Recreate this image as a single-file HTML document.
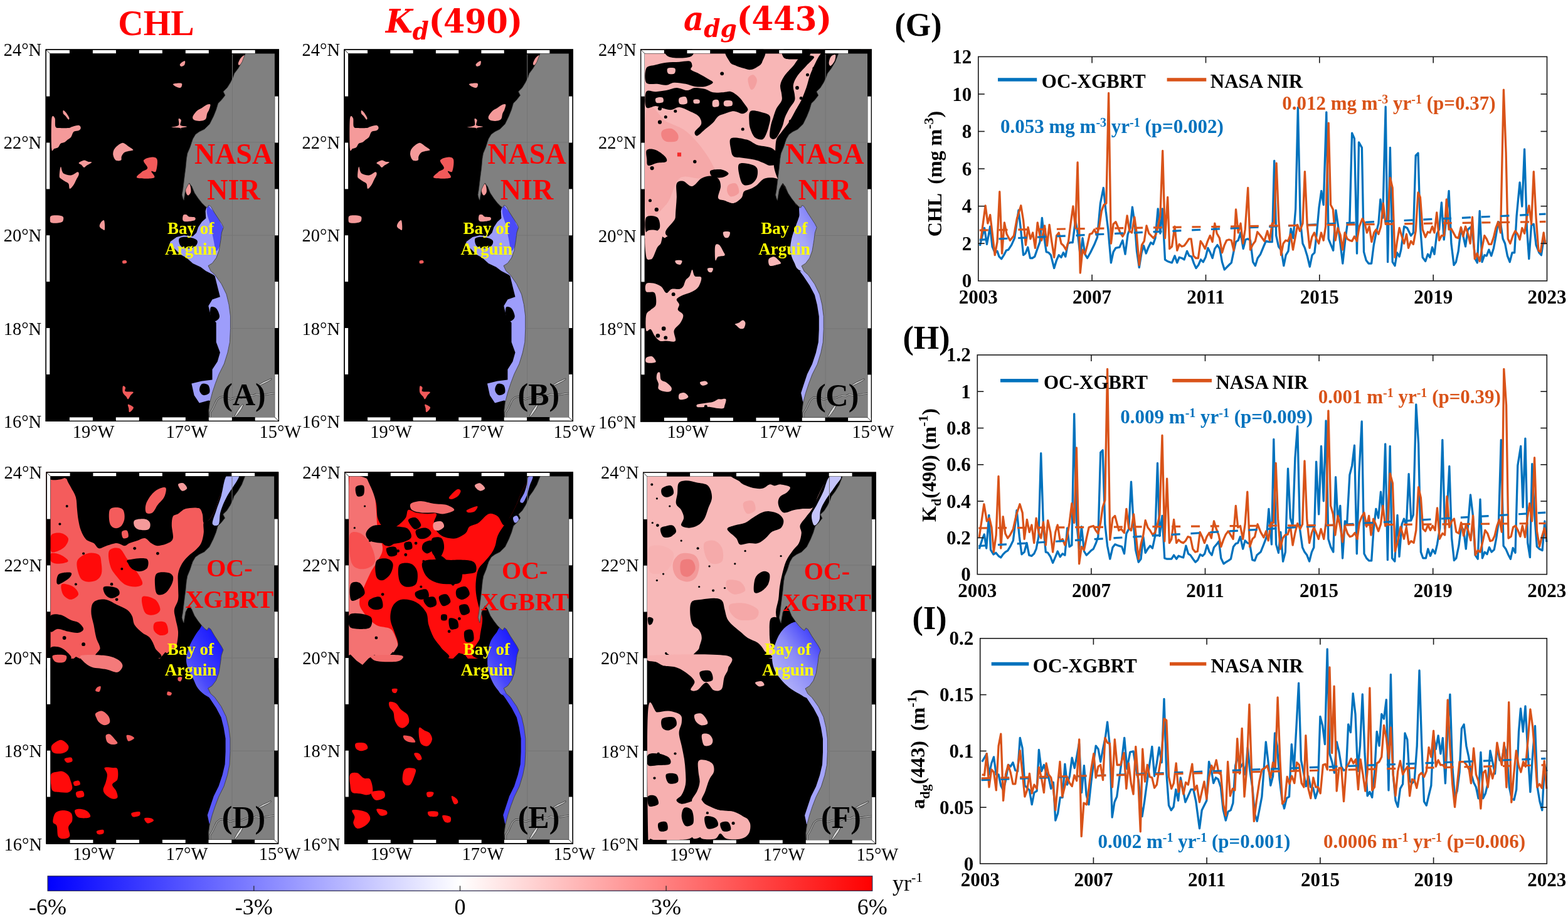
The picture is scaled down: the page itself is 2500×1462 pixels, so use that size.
<!DOCTYPE html>
<html><head><meta charset="utf-8"><title>Figure</title>
<style>
html,body{margin:0;padding:0;background:#fff;}
body{width:2500px;height:1462px;overflow:hidden;position:relative;}
svg{position:absolute;left:0;top:0;}
.tk{font-family:"Liberation Serif","Times New Roman",serif;font-size:28.5px;fill:#000;}
.bt{font-family:"Liberation Serif","Times New Roman",serif;font-weight:bold;}
</style></head><body>
<svg width="2500" height="1462" viewBox="0 0 2500 1462">
<rect width="2500" height="1462" fill="#fff"/>
<defs><linearGradient id="bayD" x1="1" y1="0" x2="0" y2="1"><stop offset="0.25" stop-color="#0d0dff"/><stop offset="0.7" stop-color="#4848fb"/><stop offset="1" stop-color="#9090f8"/></linearGradient><linearGradient id="bayF" x1="1" y1="0" x2="0" y2="1"><stop offset="0.2" stop-color="#2424fc"/><stop offset="0.55" stop-color="#8a8af8"/><stop offset="1" stop-color="#d0d0fa"/></linearGradient><linearGradient id="bayC" x1="1" y1="0" x2="0" y2="1"><stop offset="0.2" stop-color="#6a6af8"/><stop offset="0.6" stop-color="#a4a4f8"/><stop offset="1" stop-color="#c4c4fa"/></linearGradient></defs>
<rect x="72.7" y="78.5" width="372.2" height="593.5" fill="#000"/>
<path d="M82.3,189.5 C83.2,181.4 86.5,186.4 87.5,188.5 C88.5,190.6 87.3,199.3 88.5,201.9 C89.7,204.5 91.3,203.6 94.7,204.0 C98.2,204.3 105.7,204.3 109.2,204.0 C112.6,203.6 112.6,202.6 115.4,201.9 C118.1,201.2 123.5,199.5 125.7,199.8 C127.9,200.2 128.8,202.6 128.8,204.0 C128.8,205.4 127.6,207.1 125.7,208.1 C123.8,209.1 119.5,208.5 117.4,210.2 C115.4,211.9 114.9,216.4 113.3,218.4 C111.8,220.5 109.9,221.2 108.1,222.6 C106.4,223.9 104.9,225.7 103.0,226.7 C101.1,227.7 98.5,227.4 96.8,228.8 C95.1,230.1 94.4,233.6 92.7,235.0 C90.9,236.3 88.2,236.7 86.5,237.0 C84.7,237.4 83.0,244.9 82.3,237.0 C81.6,229.1 81.5,197.6 82.3,189.5 Z" fill="#f59a9a"/>
<path d="M100.9,176.1 C101.6,175.8 103.5,177.3 105.0,179.2 C106.6,181.1 109.5,185.6 110.2,187.5 C110.9,189.3 110.0,190.9 109.2,190.6 C108.3,190.2 106.4,186.9 105.0,185.4 C103.7,183.8 101.6,182.8 100.9,181.3 C100.2,179.7 100.2,176.4 100.9,176.1 Z" fill="#f59a9a"/>
<path d="M187.7,231.9 C190.1,230.0 193.2,227.6 195.9,227.7 C198.7,227.9 201.4,231.0 204.2,232.9 C206.9,234.8 212.4,237.7 212.4,239.1 C212.4,240.5 206.6,240.5 204.2,241.2 C201.8,241.8 199.7,241.8 198.0,243.2 C196.3,244.6 194.7,247.3 193.8,249.4 C193.0,251.5 194.4,254.6 192.8,255.6 C191.3,256.6 186.6,257.0 184.6,255.6 C182.5,254.2 180.9,250.1 180.4,247.3 C179.9,244.6 180.3,241.7 181.5,239.1 C182.7,236.5 185.2,233.8 187.7,231.9 Z" fill="#f59a9a"/>
<path d="M96.8,265.9 C97.8,265.2 98.2,274.0 100.9,276.3 C103.7,278.5 109.5,279.7 113.3,279.4 C117.1,279.0 121.6,274.4 123.6,274.2 C125.7,274.0 126.0,276.3 125.7,278.3 C125.4,280.4 122.9,283.8 121.6,286.6 C120.2,289.3 119.2,292.4 117.4,294.8 C115.7,297.3 112.6,301.4 111.2,301.0 C109.9,300.7 110.6,294.8 109.2,292.8 C107.8,290.7 105.0,290.0 103.0,288.7 C100.9,287.3 98.2,285.9 96.8,284.5 C95.4,283.1 94.7,283.5 94.7,280.4 C94.7,277.3 95.8,266.6 96.8,265.9 Z" fill="#f59a9a"/>
<path d="M125.7,259.7 C126.4,258.5 131.5,256.0 134.0,255.6 C136.4,255.3 138.1,257.2 140.2,257.7 C142.2,258.2 146.7,257.7 146.3,258.7 C146.0,259.7 140.2,262.5 138.1,263.9 C136.0,265.2 135.3,267.1 134.0,267.0 C132.6,266.8 131.2,264.0 129.8,262.8 C128.4,261.6 125.0,260.9 125.7,259.7 Z" fill="#f59a9a"/>
<path d="M81.3,344.4 C84.2,342.7 95.6,343.4 98.8,344.4 C102.1,345.4 101.3,348.9 100.9,350.6 C100.6,352.3 100.1,354.1 96.8,354.7 C93.5,355.4 83.9,356.5 81.3,354.7 C78.7,353.0 78.4,346.1 81.3,344.4 Z" fill="#f59a9a"/>
<path d="M286.8,102.8 C287.1,101.6 289.5,99.5 290.9,98.7 C292.3,97.8 294.5,96.8 295.0,97.6 C295.6,98.5 295.0,102.4 294.0,103.8 C293.0,105.2 290.1,106.1 288.8,105.9 C287.6,105.7 286.4,104.0 286.8,102.8 Z" fill="#f59a9a"/>
<path d="M276.5,133.8 C278.2,133.1 286.6,132.2 288.8,132.7 C291.1,133.2 290.2,135.7 289.9,136.9 C289.5,138.1 288.7,140.0 286.8,140.0 C284.9,140.0 280.2,137.9 278.5,136.9 C276.8,135.8 274.7,134.4 276.5,133.8 Z" fill="#f59a9a"/>
<path d="M284.7,189.5 C285.4,188.1 288.3,189.9 288.8,191.6 C289.4,193.3 286.3,198.1 287.8,199.8 C289.4,201.6 298.0,201.2 298.1,201.9 C298.3,202.6 290.4,202.9 288.8,204.0 C287.3,205.0 289.2,208.1 288.8,208.1 C288.5,208.1 289.4,204.8 286.8,204.0 C284.2,203.1 273.7,203.6 273.4,202.9 C273.0,202.3 282.8,202.1 284.7,199.8 C286.6,197.6 284.0,190.9 284.7,189.5 Z" fill="#f59a9a"/>
<path d="M160.8,354.7 C162.0,353.2 164.9,349.7 166.0,351.6 C167.0,353.5 167.5,363.9 167.0,366.1 C166.5,368.3 164.2,365.9 162.9,365.1 C161.5,364.2 159.1,362.7 158.7,360.9 C158.4,359.2 159.6,356.3 160.8,354.7 Z" fill="#f59a9a"/>
<path d="M379.8,100.7 C380.1,98.8 382.4,94.5 383.9,92.5 C385.5,90.4 388.0,88.7 389.1,88.3 C390.2,88.0 390.9,88.7 390.5,90.4 C390.2,92.1 388.5,96.4 387.0,98.7 C385.6,100.9 383.1,103.5 381.8,103.8 C380.6,104.2 379.4,102.6 379.8,100.7 Z" fill="#f59a9a"/>
<path d="M307.5,185.4 C308.4,183.2 311.3,179.4 313.7,177.1 C316.1,174.9 319.2,173.7 322.0,172.0 C324.7,170.2 328.0,167.7 330.2,166.8 C332.5,165.9 334.9,165.4 335.4,166.8 C335.9,168.2 334.2,172.7 333.3,175.1 C332.5,177.5 331.1,178.9 330.2,181.3 C329.4,183.7 329.5,187.6 328.2,189.5 C326.8,191.4 324.4,192.1 322.0,192.6 C319.5,193.1 315.9,193.0 313.7,192.6 C311.5,192.3 309.6,191.8 308.5,190.6 C307.5,189.3 306.6,187.6 307.5,185.4 Z" fill="#f59a9a"/>
<path d="M296.1,294.8 C297.1,292.6 301.0,292.1 302.3,293.8 C303.7,295.5 304.7,302.2 304.4,305.2 C304.1,308.1 301.5,311.0 300.3,311.4 C299.0,311.7 297.4,310.0 296.8,307.2 C296.1,304.5 295.2,297.1 296.1,294.8 Z" fill="#f59a9a"/>
<path d="M292.0,343.4 C292.7,341.7 295.6,342.0 297.2,342.3 C298.7,342.7 299.1,344.8 301.3,345.4 C303.5,346.1 309.2,345.4 310.6,346.5 C312.0,347.5 312.5,350.6 309.6,351.6 C306.6,352.7 296.0,354.1 293.0,352.7 C290.1,351.3 291.3,345.1 292.0,343.4 Z" fill="#f59a9a"/>
<path d="M229.0,255.6 C230.2,252.7 238.8,250.6 242.4,250.4 C246.0,250.3 249.6,250.8 250.6,254.6 C251.7,258.4 250.1,270.1 248.6,273.2 C247.0,276.3 241.9,271.4 241.3,273.2 C240.8,274.9 249.3,281.8 245.5,283.5 C241.7,285.2 221.9,285.0 218.6,283.5 C215.4,281.9 223.1,276.8 225.9,274.2 C228.6,271.6 234.6,271.1 235.2,268.0 C235.7,264.9 227.8,258.5 229.0,255.6 Z" fill="#f25a5a"/>
<path d="M195.9,615.8 C196.6,614.4 199.4,616.4 200.0,617.8 C200.7,619.2 198.0,622.8 200.0,624.0 C202.1,625.2 211.1,624.0 212.4,625.1 C213.8,626.1 209.7,628.3 208.3,630.2 C206.9,632.1 205.4,636.1 204.2,636.4 C203.0,636.8 202.5,634.0 201.1,632.3 C199.7,630.6 196.8,628.8 195.9,626.1 C195.1,623.3 195.2,617.1 195.9,615.8 Z" fill="#f25a5a"/>
<path d="M204.2,644.7 C205.4,644.3 211.2,647.4 212.4,648.8 C213.6,650.2 212.4,651.6 211.4,652.9 C210.4,654.3 207.3,657.4 206.2,657.1 C205.2,656.7 205.6,652.9 205.2,650.9 C204.9,648.8 203.0,645.0 204.2,644.7 Z" fill="#f25a5a"/>
<path d="M195.5,415.8 C196.4,415.1 200.0,414.9 201.1,415.4 C202.1,416.0 202.6,418.4 201.7,419.2 C200.8,419.9 196.9,420.5 195.9,420.0 C194.9,419.4 194.6,416.6 195.5,415.8 Z" fill="#f25a5a"/>
<polygon points="331.2,323.5 327.6,336.4 328.3,347.9 321.8,353.7 316.1,362.3 313.2,370.9 307.5,376.7 293.1,375.2 281.6,378.1 271.6,385.3 270.1,391.0 278.7,396.8 287.4,405.4 297.4,411.1 307.5,420.0 319.9,425.8 328.2,432.0 340.5,438.2 342.6,440.2 346.7,456.7 350.9,473.3 338.5,477.4 332.3,487.7 336.4,504.2 344.7,514.6 344.7,545.5 350.9,562.1 346.7,576.5 338.5,588.9 338.5,605.4 322.0,607.5 305.4,611.6 309.6,630.2 317.8,642.6 332.3,638.5 340.0,640.0 390.0,640.0 390.0,320.0" fill="#9d9dfb"/>
<path d="M331.0,322.0 C331.7,320.3 331.7,326.7 334.0,330.0 C336.3,333.3 342.0,337.7 345.0,342.0 C348.0,346.3 350.2,352.0 352.0,356.0 C353.8,360.0 355.8,361.2 356.0,366.0 C356.2,370.8 354.8,379.3 353.0,385.0 C351.2,390.7 347.2,400.8 345.0,400.0 C342.8,399.2 341.5,386.7 340.0,380.0 C338.5,373.3 337.7,366.7 336.0,360.0 C334.3,353.3 330.8,346.3 330.0,340.0 C329.2,333.7 330.3,323.7 331.0,322.0 Z" fill="#4b4bf7"/>
<path d="M286.0,380.0 C288.0,377.7 295.3,377.5 300.0,378.0 C304.7,378.5 312.0,380.7 314.0,383.0 C316.0,385.3 314.3,389.8 312.0,392.0 C309.7,394.2 304.0,396.0 300.0,396.0 C296.0,396.0 290.3,394.7 288.0,392.0 C285.7,389.3 284.0,382.3 286.0,380.0 Z" fill="#000"/>
<path d="M336.0,490.0 C337.5,487.8 342.7,489.5 345.0,492.0 C347.3,494.5 350.3,501.7 350.0,505.0 C349.7,508.3 345.3,512.0 343.0,512.0 C340.7,512.0 337.2,508.7 336.0,505.0 C334.8,501.3 334.5,492.2 336.0,490.0 Z" fill="#000"/>
<path d="M322.0,612.0 C324.3,610.7 330.0,611.7 332.0,614.0 C334.0,616.3 335.3,623.3 334.0,626.0 C332.7,628.7 326.7,630.7 324.0,630.0 C321.3,629.3 318.3,625.0 318.0,622.0 C317.7,619.0 319.7,613.3 322.0,612.0 Z" fill="#000"/>
<clipPath id="clipA"><rect x="72.7" y="78.5" width="372.2" height="593.5"/></clipPath>
<clipPath id="landA"><polygon points="393.0,70.0 391.0,86.0 386.0,98.7 379.8,109.0 373.6,117.2 371.5,123.4 367.4,131.7 362.2,140.0 356.0,146.0 359.0,152.0 353.0,159.6 347.8,164.7 344.7,175.0 340.5,185.4 334.3,197.8 326.0,206.0 317.8,210.0 311.8,214.3 307.5,221.5 303.2,234.4 298.9,244.5 297.4,253.0 296.0,267.5 294.5,279.0 293.1,290.5 291.7,302.0 290.2,310.6 291.7,316.3 293.1,319.2 294.5,310.6 296.0,302.0 298.9,296.2 301.7,291.9 306.0,297.6 310.3,307.7 316.1,316.3 321.8,323.5 327.6,329.3 330.5,331.0 333.0,327.0 336.2,329.3 342.0,339.3 347.7,347.9 353.4,356.6 356.3,362.3 353.4,370.9 352.0,382.4 350.6,391.0 349.1,399.7 344.8,411.1 338.5,419.6 332.0,423.7 336.0,432.0 342.6,438.0 353.0,452.6 361.0,469.0 365.0,485.7 367.4,504.0 367.4,525.0 366.4,545.5 363.0,562.0 357.4,580.0 349.2,596.4 343.5,611.2 338.6,626.0 334.5,641.5 332.8,653.9 333.2,665.4 333.0,680.0 460.0,680.0 460.0,70.0"/></clipPath>
<polygon clip-path="url(#clipA)" points="393.0,70.0 391.0,86.0 386.0,98.7 379.8,109.0 373.6,117.2 371.5,123.4 367.4,131.7 362.2,140.0 356.0,146.0 359.0,152.0 353.0,159.6 347.8,164.7 344.7,175.0 340.5,185.4 334.3,197.8 326.0,206.0 317.8,210.0 311.8,214.3 307.5,221.5 303.2,234.4 298.9,244.5 297.4,253.0 296.0,267.5 294.5,279.0 293.1,290.5 291.7,302.0 290.2,310.6 291.7,316.3 293.1,319.2 294.5,310.6 296.0,302.0 298.9,296.2 301.7,291.9 306.0,297.6 310.3,307.7 316.1,316.3 321.8,323.5 327.6,329.3 330.5,331.0 333.0,327.0 336.2,329.3 342.0,339.3 347.7,347.9 353.4,356.6 356.3,362.3 353.4,370.9 352.0,382.4 350.6,391.0 349.1,399.7 344.8,411.1 338.5,419.6 332.0,423.7 336.0,432.0 342.6,438.0 353.0,452.6 361.0,469.0 365.0,485.7 367.4,504.0 367.4,525.0 366.4,545.5 363.0,562.0 357.4,580.0 349.2,596.4 343.5,611.2 338.6,626.0 334.5,641.5 332.8,653.9 333.2,665.4 333.0,680.0 460.0,680.0 460.0,70.0" fill="#808080" stroke="#3a3a3a" stroke-width="0.8"/>
<line x1="370.5" y1="86.5" x2="370.5" y2="664.0" stroke="#747474" stroke-width="1"/>
<line clip-path="url(#landA)" x1="80.7" y1="226.9" x2="436.9" y2="226.9" stroke="#747474" stroke-width="1"/>
<line clip-path="url(#landA)" x1="80.7" y1="375.2" x2="436.9" y2="375.2" stroke="#747474" stroke-width="1"/>
<line clip-path="url(#landA)" x1="80.7" y1="523.6" x2="436.9" y2="523.6" stroke="#747474" stroke-width="1"/>
<polyline points="335.3,668.0 335.3,658.0 339.4,651.4 343.5,642.4 346.0,637.4 350.9,633.3 357.4,632.5 362.4,634.2 367.3,636.6 372.2,635.0 378.8,633.3 385.4,634.2 390.3,632.5 396.8,630.1 403.4,630.9 408.3,628.4 414.9,630.1 423.1,629.2 431.3,627.6 440.0,626.8" fill="none" stroke="#2a2a2a" stroke-width="2.4" stroke-linejoin="round"/>
<polyline points="335.3,668.0 335.3,658.0 339.4,651.4 343.5,642.4 346.0,637.4 350.9,633.3 357.4,632.5 362.4,634.2 367.3,636.6 372.2,635.0 378.8,633.3 385.4,634.2 390.3,632.5 396.8,630.1 403.4,630.9 408.3,628.4 414.9,630.1 423.1,629.2 431.3,627.6 440.0,626.8" fill="none" stroke="#c8c8c8" stroke-width="1.1" stroke-linejoin="round"/>
<polygon points="412.5,613.5 420.0,609.0 428.0,605.5 432.5,603.2 433.0,604.8 428.0,608.0 420.0,612.0 413.5,615.0" fill="#d8d8d8" stroke="#2a2a2a" stroke-width="0.8"/>
<polygon points="374.0,663.5 378.0,656.0 382.0,650.0 386.5,644.5 388.0,645.5 385.0,652.0 380.0,659.0 375.5,664.5" fill="#d8d8d8" stroke="#2a2a2a" stroke-width="0.8"/>
<path d="M72.7,78.5 h372.2 v593.5 h-372.2 z M79.7,85.5 v579.5 h358.2 v-579.5 z" fill="#000" fill-rule="evenodd"/>
<rect x="73.9" y="79.7" width="37.0" height="5.4" fill="#fff"/>
<rect x="147.9" y="79.7" width="37.0" height="5.4" fill="#fff"/>
<rect x="221.8" y="79.7" width="37.0" height="5.4" fill="#fff"/>
<rect x="295.8" y="79.7" width="37.0" height="5.4" fill="#fff"/>
<rect x="369.7" y="79.7" width="37.0" height="5.4" fill="#fff"/>
<rect x="110.9" y="665.4" width="37.0" height="5.4" fill="#fff"/>
<rect x="184.8" y="665.4" width="37.0" height="5.4" fill="#fff"/>
<rect x="258.8" y="665.4" width="37.0" height="5.4" fill="#fff"/>
<rect x="332.8" y="665.4" width="37.0" height="5.4" fill="#fff"/>
<rect x="406.7" y="665.4" width="37.0" height="5.4" fill="#fff"/>
<rect x="73.9" y="79.7" width="5.4" height="73.9" fill="#fff"/>
<rect x="73.9" y="227.5" width="5.4" height="73.9" fill="#fff"/>
<rect x="73.9" y="375.2" width="5.4" height="73.9" fill="#fff"/>
<rect x="73.9" y="523.0" width="5.4" height="73.9" fill="#fff"/>
<rect x="438.3" y="153.6" width="5.4" height="73.9" fill="#fff"/>
<rect x="438.3" y="301.4" width="5.4" height="73.9" fill="#fff"/>
<rect x="438.3" y="449.1" width="5.4" height="73.9" fill="#fff"/>
<rect x="438.3" y="596.9" width="5.4" height="73.9" fill="#fff"/>
<line x1="73.9" y1="79.7" x2="79.7" y2="85.5" stroke="#000" stroke-width="0.8"/>
<line x1="443.7" y1="670.8" x2="437.9" y2="665.0" stroke="#000" stroke-width="0.8"/>
<rect x="73.3" y="79.1" width="371.0" height="592.3" fill="none" stroke="#000" stroke-width="1.2"/>
<text x="66.2" y="88.5" text-anchor="end" class="tk">24°N</text>
<text x="66.2" y="236.9" text-anchor="end" class="tk">22°N</text>
<text x="66.2" y="385.2" text-anchor="end" class="tk">20°N</text>
<text x="66.2" y="533.6" text-anchor="end" class="tk">18°N</text>
<text x="66.2" y="682.0" text-anchor="end" class="tk">16°N</text>
<text x="149.1" y="697.5" text-anchor="middle" class="tk">19°W</text>
<text x="298.0" y="697.5" text-anchor="middle" class="tk">17°W</text>
<text x="446.9" y="697.5" text-anchor="middle" class="tk">15°W</text>
<rect x="548.5" y="78.5" width="365.3" height="593.5" fill="#000"/>
<path d="M557.9,189.5 C558.8,181.4 562.0,186.4 563.0,188.5 C564.0,190.6 562.8,199.3 564.0,201.9 C565.2,204.5 566.7,203.6 570.1,204.0 C573.5,204.3 580.9,204.3 584.3,204.0 C587.7,203.6 587.7,202.6 590.4,201.9 C593.1,201.2 598.3,199.5 600.5,199.8 C602.7,200.2 603.6,202.6 603.6,204.0 C603.6,205.4 602.4,207.1 600.5,208.1 C598.7,209.1 594.4,208.5 592.4,210.2 C590.4,211.9 589.9,216.4 588.4,218.4 C586.8,220.5 585.0,221.2 583.3,222.6 C581.6,223.9 580.1,225.7 578.2,226.7 C576.4,227.7 573.8,227.4 572.1,228.8 C570.4,230.1 569.8,233.6 568.1,235.0 C566.4,236.3 563.7,236.7 562.0,237.0 C560.3,237.4 558.6,244.9 557.9,237.0 C557.3,229.1 557.1,197.6 557.9,189.5 Z" fill="#f59a9a"/>
<path d="M576.2,176.1 C576.9,175.8 578.7,177.3 580.2,179.2 C581.8,181.1 584.6,185.6 585.3,187.5 C586.0,189.3 585.1,190.9 584.3,190.6 C583.5,190.2 581.6,186.9 580.2,185.4 C578.9,183.8 576.9,182.8 576.2,181.3 C575.5,179.7 575.5,176.4 576.2,176.1 Z" fill="#f59a9a"/>
<path d="M661.3,231.9 C663.7,230.0 666.7,227.6 669.4,227.7 C672.1,227.9 674.8,231.0 677.5,232.9 C680.2,234.8 685.6,237.7 685.6,239.1 C685.6,240.5 679.9,240.5 677.5,241.2 C675.2,241.8 673.1,241.8 671.5,243.2 C669.8,244.6 668.2,247.3 667.4,249.4 C666.6,251.5 667.9,254.6 666.4,255.6 C664.9,256.6 660.3,257.0 658.3,255.6 C656.3,254.2 654.7,250.1 654.2,247.3 C653.7,244.6 654.1,241.7 655.2,239.1 C656.4,236.5 659.0,233.8 661.3,231.9 Z" fill="#f59a9a"/>
<path d="M572.1,265.9 C573.1,265.2 573.5,274.0 576.2,276.3 C578.9,278.5 584.6,279.7 588.4,279.4 C592.1,279.0 596.5,274.4 598.5,274.2 C600.5,274.0 600.9,276.3 600.5,278.3 C600.2,280.4 597.8,283.8 596.5,286.6 C595.1,289.3 594.1,292.4 592.4,294.8 C590.7,297.3 587.7,301.4 586.3,301.0 C585.0,300.7 585.6,294.8 584.3,292.8 C582.9,290.7 580.2,290.0 578.2,288.7 C576.2,287.3 573.5,285.9 572.1,284.5 C570.8,283.1 570.1,283.5 570.1,280.4 C570.1,277.3 571.1,266.6 572.1,265.9 Z" fill="#f59a9a"/>
<path d="M600.5,259.7 C601.2,258.5 606.3,256.0 608.6,255.6 C611.0,255.3 612.7,257.2 614.7,257.7 C616.7,258.2 621.1,257.7 620.8,258.7 C620.4,259.7 614.7,262.5 612.7,263.9 C610.6,265.2 610.0,267.1 608.6,267.0 C607.3,266.8 605.9,264.0 604.6,262.8 C603.2,261.6 599.8,260.9 600.5,259.7 Z" fill="#f59a9a"/>
<path d="M556.9,344.4 C559.8,342.7 571.0,343.4 574.2,344.4 C577.4,345.4 576.5,348.9 576.2,350.6 C575.9,352.3 575.3,354.1 572.1,354.7 C568.9,355.4 559.5,356.5 556.9,354.7 C554.4,353.0 554.1,346.1 556.9,344.4 Z" fill="#f59a9a"/>
<path d="M758.6,102.8 C759.0,101.6 761.3,99.5 762.7,98.7 C764.0,97.8 766.2,96.8 766.7,97.6 C767.2,98.5 766.7,102.4 765.7,103.8 C764.7,105.2 761.8,106.1 760.6,105.9 C759.5,105.7 758.3,104.0 758.6,102.8 Z" fill="#f59a9a"/>
<path d="M748.5,133.8 C750.2,133.1 758.4,132.2 760.6,132.7 C762.8,133.2 762.0,135.7 761.7,136.9 C761.3,138.1 760.5,140.0 758.6,140.0 C756.8,140.0 752.2,137.9 750.5,136.9 C748.8,135.8 746.8,134.4 748.5,133.8 Z" fill="#f59a9a"/>
<path d="M756.6,189.5 C757.3,188.1 760.1,189.9 760.6,191.6 C761.1,193.3 758.1,198.1 759.6,199.8 C761.1,201.6 769.6,201.2 769.8,201.9 C769.9,202.6 762.2,202.9 760.6,204.0 C759.1,205.0 761.0,208.1 760.6,208.1 C760.3,208.1 761.1,204.8 758.6,204.0 C756.1,203.1 745.8,203.6 745.4,202.9 C745.1,202.3 754.7,202.1 756.6,199.8 C758.4,197.6 755.9,190.9 756.6,189.5 Z" fill="#f59a9a"/>
<path d="M635.0,354.7 C636.2,353.2 639.0,349.7 640.0,351.6 C641.1,353.5 641.6,363.9 641.1,366.1 C640.5,368.3 638.3,365.9 637.0,365.1 C635.6,364.2 633.3,362.7 632.9,360.9 C632.6,359.2 633.8,356.3 635.0,354.7 Z" fill="#f59a9a"/>
<path d="M849.9,100.7 C850.2,98.8 852.4,94.5 853.9,92.5 C855.5,90.4 857.9,88.7 859.0,88.3 C860.1,88.0 860.8,88.7 860.4,90.4 C860.1,92.1 858.4,96.4 857.0,98.7 C855.6,100.9 853.1,103.5 851.9,103.8 C850.7,104.2 849.6,102.6 849.9,100.7 Z" fill="#f59a9a"/>
<path d="M778.9,185.4 C779.8,183.2 782.7,179.4 785.0,177.1 C787.4,174.9 790.4,173.7 793.1,172.0 C795.8,170.2 799.0,167.7 801.2,166.8 C803.4,165.9 805.8,165.4 806.3,166.8 C806.8,168.2 805.1,172.7 804.3,175.1 C803.4,177.5 802.1,178.9 801.2,181.3 C800.4,183.7 800.6,187.6 799.2,189.5 C797.9,191.4 795.5,192.1 793.1,192.6 C790.8,193.1 787.2,193.0 785.0,192.6 C782.8,192.3 781.0,191.8 780.0,190.6 C778.9,189.3 778.1,187.6 778.9,185.4 Z" fill="#f59a9a"/>
<path d="M767.8,294.8 C768.7,292.6 772.5,292.1 773.9,293.8 C775.2,295.5 776.2,302.2 775.9,305.2 C775.6,308.1 773.1,311.0 771.9,311.4 C770.6,311.7 769.1,310.0 768.4,307.2 C767.7,304.5 766.9,297.1 767.8,294.8 Z" fill="#f59a9a"/>
<path d="M763.7,343.4 C764.4,341.7 767.3,342.0 768.8,342.3 C770.3,342.7 770.7,344.8 772.9,345.4 C775.1,346.1 780.6,345.4 782.0,346.5 C783.3,347.5 783.8,350.6 781.0,351.6 C778.1,352.7 767.6,354.1 764.8,352.7 C761.9,351.3 763.1,345.1 763.7,343.4 Z" fill="#f59a9a"/>
<path d="M701.9,255.6 C703.0,252.7 711.5,250.6 715.0,250.4 C718.6,250.3 722.1,250.8 723.1,254.6 C724.2,258.4 722.6,270.1 721.1,273.2 C719.6,276.3 714.5,271.4 714.0,273.2 C713.5,274.9 721.8,281.8 718.1,283.5 C714.4,285.2 694.9,285.0 691.7,283.5 C688.5,281.9 696.1,276.8 698.8,274.2 C701.5,271.6 707.4,271.1 707.9,268.0 C708.4,264.9 700.7,258.5 701.9,255.6 Z" fill="#f25a5a"/>
<path d="M669.4,615.8 C670.1,614.4 672.8,616.4 673.5,617.8 C674.2,619.2 671.5,622.8 673.5,624.0 C675.5,625.2 684.3,624.0 685.6,625.1 C687.0,626.1 682.9,628.3 681.6,630.2 C680.2,632.1 678.7,636.1 677.5,636.4 C676.4,636.8 675.8,634.0 674.5,632.3 C673.1,630.6 670.3,628.8 669.4,626.1 C668.6,623.3 668.8,617.1 669.4,615.8 Z" fill="#f25a5a"/>
<path d="M677.5,644.7 C678.7,644.3 684.5,647.4 685.6,648.8 C686.8,650.2 685.6,651.6 684.6,652.9 C683.6,654.3 680.6,657.4 679.6,657.1 C678.6,656.7 678.9,652.9 678.6,650.9 C678.2,648.8 676.4,645.0 677.5,644.7 Z" fill="#f25a5a"/>
<path d="M669.0,415.8 C669.9,415.1 673.5,414.9 674.5,415.4 C675.5,416.0 675.9,418.4 675.1,419.2 C674.3,419.9 670.4,420.5 669.4,420.0 C668.4,419.4 668.2,416.6 669.0,415.8 Z" fill="#f25a5a"/>
<polygon points="802.2,323.5 798.7,336.4 799.4,347.9 793.0,353.7 787.4,362.3 784.5,370.9 778.9,376.7 764.8,375.2 753.5,378.1 743.7,385.3 742.2,391.0 750.7,396.8 759.2,405.4 769.0,411.1 778.9,420.0 791.1,425.8 799.3,432.0 811.3,438.2 813.4,440.2 817.4,456.7 821.5,473.3 809.4,477.4 803.3,487.7 807.3,504.2 815.5,514.6 815.5,545.5 821.5,562.1 817.4,576.5 809.4,588.9 809.4,605.4 793.2,607.5 776.9,611.6 781.0,630.2 789.1,642.6 803.3,638.5 810.8,640.0 859.9,640.0 859.9,320.0" fill="#9d9dfb"/>
<path d="M802.0,322.0 C802.7,320.3 802.7,326.7 805.0,330.0 C807.2,333.3 812.8,337.7 815.8,342.0 C818.7,346.3 820.8,352.0 822.6,356.0 C824.4,360.0 826.4,361.2 826.5,366.0 C826.7,370.8 825.4,379.3 823.6,385.0 C821.8,390.7 817.9,400.8 815.8,400.0 C813.6,399.2 812.3,386.7 810.8,380.0 C809.4,373.3 808.6,366.7 806.9,360.0 C805.3,353.3 801.8,346.3 801.0,340.0 C800.2,333.7 801.4,323.7 802.0,322.0 Z" fill="#4b4bf7"/>
<path d="M757.8,380.0 C759.8,377.7 767.0,377.5 771.6,378.0 C776.2,378.5 783.4,380.7 785.3,383.0 C787.3,385.3 785.7,389.8 783.4,392.0 C781.1,394.2 775.5,396.0 771.6,396.0 C767.7,396.0 762.1,394.7 759.8,392.0 C757.5,389.3 755.9,382.3 757.8,380.0 Z" fill="#000"/>
<path d="M806.9,490.0 C808.4,487.8 813.5,489.5 815.8,492.0 C818.0,494.5 821.0,501.7 820.7,505.0 C820.3,508.3 816.1,512.0 813.8,512.0 C811.5,512.0 808.1,508.7 806.9,505.0 C805.8,501.3 805.4,492.2 806.9,490.0 Z" fill="#000"/>
<path d="M793.2,612.0 C795.5,610.7 801.0,611.7 803.0,614.0 C805.0,616.3 806.3,623.3 805.0,626.0 C803.6,628.7 797.8,630.7 795.1,630.0 C792.5,629.3 789.6,625.0 789.3,622.0 C788.9,619.0 790.9,613.3 793.2,612.0 Z" fill="#000"/>
<clipPath id="clipB"><rect x="548.5" y="78.5" width="365.3" height="593.5"/></clipPath>
<clipPath id="landB"><polygon points="862.9,70.0 860.9,86.0 856.0,98.7 849.9,109.0 843.8,117.2 841.8,123.4 837.7,131.7 832.6,140.0 826.5,146.0 829.5,152.0 823.6,159.6 818.5,164.7 815.5,175.0 811.3,185.4 805.3,197.8 797.1,206.0 789.1,210.0 783.2,214.3 778.9,221.5 774.7,234.4 770.5,244.5 769.0,253.0 767.7,267.5 766.2,279.0 764.8,290.5 763.4,302.0 762.0,310.6 763.4,316.3 764.8,319.2 766.2,310.6 767.7,302.0 770.5,296.2 773.3,291.9 777.5,297.6 781.7,307.7 787.4,316.3 793.0,323.5 798.7,329.3 801.5,331.0 804.0,327.0 807.1,329.3 812.8,339.3 818.4,347.9 824.0,356.6 826.8,362.3 824.0,370.9 822.6,382.4 821.2,391.0 819.8,399.7 815.6,411.1 809.4,419.6 803.0,423.7 806.9,432.0 813.4,438.0 823.6,452.6 831.5,469.0 835.4,485.7 837.7,504.0 837.7,525.0 836.8,545.5 833.4,562.0 827.9,580.0 819.9,596.4 814.3,611.2 809.5,626.0 805.4,641.5 803.8,653.9 804.2,665.4 804.0,680.0 928.6,680.0 928.6,70.0"/></clipPath>
<polygon clip-path="url(#clipB)" points="862.9,70.0 860.9,86.0 856.0,98.7 849.9,109.0 843.8,117.2 841.8,123.4 837.7,131.7 832.6,140.0 826.5,146.0 829.5,152.0 823.6,159.6 818.5,164.7 815.5,175.0 811.3,185.4 805.3,197.8 797.1,206.0 789.1,210.0 783.2,214.3 778.9,221.5 774.7,234.4 770.5,244.5 769.0,253.0 767.7,267.5 766.2,279.0 764.8,290.5 763.4,302.0 762.0,310.6 763.4,316.3 764.8,319.2 766.2,310.6 767.7,302.0 770.5,296.2 773.3,291.9 777.5,297.6 781.7,307.7 787.4,316.3 793.0,323.5 798.7,329.3 801.5,331.0 804.0,327.0 807.1,329.3 812.8,339.3 818.4,347.9 824.0,356.6 826.8,362.3 824.0,370.9 822.6,382.4 821.2,391.0 819.8,399.7 815.6,411.1 809.4,419.6 803.0,423.7 806.9,432.0 813.4,438.0 823.6,452.6 831.5,469.0 835.4,485.7 837.7,504.0 837.7,525.0 836.8,545.5 833.4,562.0 827.9,580.0 819.9,596.4 814.3,611.2 809.5,626.0 805.4,641.5 803.8,653.9 804.2,665.4 804.0,680.0 928.6,680.0 928.6,70.0" fill="#808080" stroke="#3a3a3a" stroke-width="0.8"/>
<line x1="840.7" y1="86.5" x2="840.7" y2="664.0" stroke="#747474" stroke-width="1"/>
<line clip-path="url(#landB)" x1="556.5" y1="226.9" x2="905.8" y2="226.9" stroke="#747474" stroke-width="1"/>
<line clip-path="url(#landB)" x1="556.5" y1="375.2" x2="905.8" y2="375.2" stroke="#747474" stroke-width="1"/>
<line clip-path="url(#landB)" x1="556.5" y1="523.6" x2="905.8" y2="523.6" stroke="#747474" stroke-width="1"/>
<polyline points="806.2,668.0 806.2,658.0 810.3,651.4 814.3,642.4 816.7,637.4 821.5,633.3 827.9,632.5 832.8,634.2 837.6,636.6 842.4,635.0 848.9,633.3 855.4,634.2 860.2,632.5 866.6,630.1 873.1,630.9 877.9,628.4 884.4,630.1 892.4,629.2 900.5,627.6 909.0,626.8" fill="none" stroke="#2a2a2a" stroke-width="2.4" stroke-linejoin="round"/>
<polyline points="806.2,668.0 806.2,658.0 810.3,651.4 814.3,642.4 816.7,637.4 821.5,633.3 827.9,632.5 832.8,634.2 837.6,636.6 842.4,635.0 848.9,633.3 855.4,634.2 860.2,632.5 866.6,630.1 873.1,630.9 877.9,628.4 884.4,630.1 892.4,629.2 900.5,627.6 909.0,626.8" fill="none" stroke="#c8c8c8" stroke-width="1.1" stroke-linejoin="round"/>
<polygon points="882.0,613.5 889.4,609.0 897.2,605.5 901.6,603.2 902.1,604.8 897.2,608.0 889.4,612.0 883.0,615.0" fill="#d8d8d8" stroke="#2a2a2a" stroke-width="0.8"/>
<polygon points="844.2,663.5 848.1,656.0 852.1,650.0 856.5,644.5 858.0,645.5 855.0,652.0 850.1,659.0 845.7,664.5" fill="#d8d8d8" stroke="#2a2a2a" stroke-width="0.8"/>
<path d="M548.5,78.5 h365.3 v593.5 h-365.3 z M555.5,85.5 v579.5 h351.3 v-579.5 z" fill="#000" fill-rule="evenodd"/>
<rect x="549.7" y="79.7" width="36.3" height="5.4" fill="#fff"/>
<rect x="622.3" y="79.7" width="36.3" height="5.4" fill="#fff"/>
<rect x="694.9" y="79.7" width="36.3" height="5.4" fill="#fff"/>
<rect x="767.4" y="79.7" width="36.3" height="5.4" fill="#fff"/>
<rect x="840.0" y="79.7" width="36.3" height="5.4" fill="#fff"/>
<rect x="586.0" y="665.4" width="36.3" height="5.4" fill="#fff"/>
<rect x="658.6" y="665.4" width="36.3" height="5.4" fill="#fff"/>
<rect x="731.2" y="665.4" width="36.3" height="5.4" fill="#fff"/>
<rect x="803.7" y="665.4" width="36.3" height="5.4" fill="#fff"/>
<rect x="876.3" y="665.4" width="36.3" height="5.4" fill="#fff"/>
<rect x="549.7" y="79.7" width="5.4" height="73.9" fill="#fff"/>
<rect x="549.7" y="227.5" width="5.4" height="73.9" fill="#fff"/>
<rect x="549.7" y="375.2" width="5.4" height="73.9" fill="#fff"/>
<rect x="549.7" y="523.0" width="5.4" height="73.9" fill="#fff"/>
<rect x="907.2" y="153.6" width="5.4" height="73.9" fill="#fff"/>
<rect x="907.2" y="301.4" width="5.4" height="73.9" fill="#fff"/>
<rect x="907.2" y="449.1" width="5.4" height="73.9" fill="#fff"/>
<rect x="907.2" y="596.9" width="5.4" height="73.9" fill="#fff"/>
<line x1="549.7" y1="79.7" x2="555.5" y2="85.5" stroke="#000" stroke-width="0.8"/>
<line x1="912.6" y1="670.8" x2="906.8" y2="665.0" stroke="#000" stroke-width="0.8"/>
<rect x="549.1" y="79.1" width="364.1" height="592.3" fill="none" stroke="#000" stroke-width="1.2"/>
<text x="542.0" y="88.5" text-anchor="end" class="tk">24°N</text>
<text x="542.0" y="236.9" text-anchor="end" class="tk">22°N</text>
<text x="542.0" y="385.2" text-anchor="end" class="tk">20°N</text>
<text x="542.0" y="533.6" text-anchor="end" class="tk">18°N</text>
<text x="542.0" y="682.0" text-anchor="end" class="tk">16°N</text>
<text x="623.6" y="697.5" text-anchor="middle" class="tk">19°W</text>
<text x="769.7" y="697.5" text-anchor="middle" class="tk">17°W</text>
<text x="915.8" y="697.5" text-anchor="middle" class="tk">15°W</text>
<rect x="1021.0" y="78.5" width="369.0" height="594.0" fill="#000"/>
<clipPath id="iclipC"><rect x="1021.0" y="78.5" width="369.0" height="594.0"/></clipPath>
<g clip-path="url(#iclipC)">
<polygon points="1021.0,78.0 1390.0,78.0 1390.0,380.1 1021.0,380.1" fill="#f8b6b6"/>
<path d="M1030.3,177.2 C1035.6,153.4 1052.5,188.9 1062.3,193.7 C1072.1,198.5 1081.6,201.3 1089.2,206.1 C1096.8,210.9 1101.9,216.4 1107.8,222.6 C1113.6,228.8 1119.5,236.4 1124.3,243.3 C1129.1,250.2 1133.3,257.1 1136.7,263.9 C1140.1,270.8 1148.8,281.2 1145.0,284.6 C1141.2,288.1 1124.3,284.6 1114.0,284.6 C1103.6,284.6 1091.6,277.7 1083.0,284.6 C1074.4,291.5 1071.1,317.3 1062.3,325.9 C1053.5,334.5 1035.6,361.1 1030.3,336.3 C1025.0,311.5 1025.0,200.9 1030.3,177.2 Z" fill="#f5a8a8"/>
<path d="M1056.1,208.2 C1058.7,205.9 1066.5,204.0 1070.6,205.1 C1074.7,206.1 1079.5,211.1 1080.9,214.4 C1082.3,217.6 1081.9,222.8 1078.8,224.7 C1075.8,226.6 1066.3,226.8 1062.3,225.7 C1058.4,224.7 1056.1,221.4 1055.1,218.5 C1054.1,215.6 1053.5,210.4 1056.1,208.2 Z" fill="#f28282"/>
<polygon points="1079.9,243.3 1086.1,243.3 1086.1,249.5 1079.9,249.5" fill="#f52a2a"/>
<path d="M1192.5,125.5 C1193.2,121.7 1198.3,119.0 1200.7,119.3 C1203.2,119.7 1206.6,124.1 1206.9,127.6 C1207.3,131.0 1204.5,137.6 1202.8,140.0 C1201.1,142.4 1198.3,144.5 1196.6,142.0 C1194.9,139.6 1191.8,129.3 1192.5,125.5 Z" fill="#f4a0a0"/>
<path d="M1161.5,294.9 C1163.9,292.9 1171.1,290.8 1173.9,292.9 C1176.6,294.9 1179.4,303.9 1178.0,307.3 C1176.6,310.8 1168.7,313.9 1165.6,313.5 C1162.5,313.2 1160.1,308.4 1159.4,305.3 C1158.7,302.2 1159.1,297.0 1161.5,294.9 Z" fill="#f39a9a"/>
<path d="M1030.3,109.0 C1032.5,104.3 1038.4,105.4 1043.7,103.8 C1049.1,102.3 1055.8,100.6 1062.3,99.7 C1068.9,98.8 1076.8,99.0 1083.0,98.7 C1089.2,98.3 1096.1,96.6 1099.5,97.6 C1103.0,98.7 1103.3,102.6 1103.6,104.9 C1104.0,107.1 1099.9,109.0 1101.6,111.1 C1103.3,113.1 1109.5,114.8 1114.0,117.3 C1118.4,119.7 1124.6,123.1 1128.4,125.5 C1132.2,127.9 1137.4,129.7 1136.7,131.7 C1136.0,133.8 1129.1,136.9 1124.3,137.9 C1119.5,138.9 1112.9,138.6 1107.8,137.9 C1102.6,137.2 1098.8,134.8 1093.3,133.8 C1087.8,132.8 1079.9,131.4 1074.7,131.7 C1069.6,132.1 1066.8,135.5 1062.3,135.8 C1057.8,136.2 1053.2,134.5 1047.9,133.8 C1042.5,133.1 1033.2,135.8 1030.3,131.7 C1027.4,127.6 1028.1,113.6 1030.3,109.0 Z" fill="#000"/>
<path d="M1030.3,146.2 C1032.9,142.0 1040.5,146.5 1045.8,146.2 C1051.1,145.8 1056.8,145.1 1062.3,144.1 C1067.8,143.1 1073.3,140.0 1078.8,140.0 C1084.4,140.0 1090.6,144.1 1095.4,144.1 C1100.2,144.1 1103.0,140.3 1107.8,140.0 C1112.6,139.6 1119.5,140.8 1124.3,142.0 C1129.1,143.3 1131.9,146.4 1136.7,147.2 C1141.5,148.1 1148.4,147.4 1153.2,147.2 C1158.0,147.0 1161.5,145.0 1165.6,146.2 C1169.8,147.4 1174.6,151.3 1178.0,154.4 C1181.5,157.5 1183.9,161.3 1186.3,164.8 C1188.7,168.2 1192.8,172.4 1192.5,175.1 C1192.1,177.9 1188.0,181.0 1184.2,181.3 C1180.4,181.6 1174.6,177.2 1169.8,177.2 C1164.9,177.2 1159.4,179.9 1155.3,181.3 C1151.2,182.7 1148.1,183.0 1145.0,185.4 C1141.9,187.8 1140.1,192.3 1136.7,195.8 C1133.3,199.2 1128.4,202.7 1124.3,206.1 C1120.2,209.5 1114.7,215.7 1111.9,216.4 C1109.2,217.1 1106.7,213.3 1107.8,210.2 C1108.8,207.1 1117.1,202.0 1118.1,197.8 C1119.1,193.7 1117.1,188.9 1114.0,185.4 C1110.9,182.0 1104.7,179.6 1099.5,177.2 C1094.3,174.8 1087.8,171.3 1083.0,171.0 C1078.2,170.6 1074.7,174.8 1070.6,175.1 C1066.5,175.4 1062.3,174.1 1058.2,173.0 C1054.1,172.0 1050.4,169.3 1045.8,168.9 C1041.1,168.6 1032.9,174.8 1030.3,171.0 C1027.7,167.2 1027.7,150.3 1030.3,146.2 Z" fill="#000"/>
<path d="M1159.4,78.0 C1168.2,74.6 1206.9,74.6 1216.2,78.0 C1225.5,81.4 1216.8,93.8 1215.2,98.7 C1213.7,103.5 1210.0,104.9 1206.9,106.9 C1203.8,109.0 1200.1,110.7 1196.6,111.1 C1193.2,111.4 1190.1,110.0 1186.3,109.0 C1182.5,108.0 1177.7,106.6 1173.9,104.9 C1170.1,103.1 1166.0,103.1 1163.6,98.7 C1161.1,94.2 1150.6,81.4 1159.4,78.0 Z" fill="#000"/>
<path d="M1062.3,78.0 C1068.7,76.1 1095.9,76.1 1102.6,78.0 C1109.3,79.9 1105.9,87.0 1102.6,89.4 C1099.3,91.8 1089.4,92.5 1083.0,92.5 C1076.6,92.5 1067.8,91.8 1064.4,89.4 C1060.9,87.0 1056.0,79.9 1062.3,78.0 Z" fill="#000"/>
<path d="M1250.3,78.0 C1256.9,75.6 1283.4,75.4 1289.6,78.0 C1295.8,80.6 1291.0,90.7 1287.5,93.5 C1284.1,96.3 1275.1,94.7 1268.9,94.5 C1262.7,94.4 1253.4,95.2 1250.3,92.5 C1247.2,89.7 1243.8,80.4 1250.3,78.0 Z" fill="#000"/>
<path d="M1277.2,90.4 C1271.7,92.8 1269.3,99.7 1264.8,104.9 C1260.3,110.0 1253.8,116.2 1250.3,121.4 C1246.9,126.6 1244.8,131.0 1244.1,135.8 C1243.4,140.7 1245.9,146.2 1246.2,150.3 C1246.5,154.4 1247.6,156.9 1246.2,160.6 C1244.8,164.4 1240.2,168.6 1237.9,173.0 C1235.7,177.5 1234.3,182.7 1232.8,187.5 C1231.2,192.3 1229.5,196.8 1228.6,202.0 C1227.8,207.1 1226.2,215.4 1227.6,218.5 C1229.0,221.6 1233.6,223.3 1236.9,220.6 C1240.2,217.8 1244.8,207.5 1247.2,202.0 C1249.6,196.5 1249.5,192.3 1251.4,187.5 C1253.3,182.7 1256.0,177.5 1258.6,173.0 C1261.2,168.6 1265.5,164.4 1266.9,160.6 C1268.2,156.9 1267.2,154.4 1266.9,150.3 C1266.5,146.2 1264.1,140.7 1264.8,135.8 C1265.5,131.0 1267.6,126.6 1271.0,121.4 C1274.4,116.2 1281.0,110.0 1285.5,104.9 C1289.9,99.7 1299.2,92.8 1297.9,90.4 C1296.5,88.0 1282.7,88.0 1277.2,90.4 Z" fill="#000"/>
<path d="M1318.5,78.0 C1329.2,76.6 1363.3,27.7 1372.2,78.0 C1381.2,128.3 1386.0,329.7 1372.2,380.1 C1358.5,430.4 1306.8,389.1 1289.6,380.1 C1272.4,371.0 1275.8,340.1 1268.9,325.9 C1262.0,311.7 1253.1,301.8 1248.3,294.9 C1243.4,288.1 1242.4,289.8 1240.0,284.6 C1237.6,279.4 1234.5,270.8 1233.8,263.9 C1233.1,257.1 1235.2,250.2 1235.9,243.3 C1236.6,236.4 1236.2,228.1 1237.9,222.6 C1239.7,217.1 1242.8,215.0 1246.2,210.2 C1249.6,205.4 1254.8,199.6 1258.6,193.7 C1262.4,187.8 1265.8,180.6 1268.9,175.1 C1272.0,169.6 1274.4,166.5 1277.2,160.6 C1279.9,154.8 1283.0,146.9 1285.5,140.0 C1287.9,133.1 1289.2,125.9 1291.7,119.3 C1294.1,112.8 1297.2,106.2 1299.9,100.7 C1302.7,95.2 1305.1,90.1 1308.2,86.3 C1311.3,82.5 1307.8,79.4 1318.5,78.0 Z" fill="#000"/>
<path d="M1196.6,177.2 C1200.1,174.8 1210.0,177.9 1215.2,179.2 C1220.4,180.6 1225.9,181.6 1227.6,185.4 C1229.3,189.2 1226.9,196.5 1225.5,202.0 C1224.2,207.5 1221.4,215.0 1219.3,218.5 C1217.3,221.9 1215.9,222.6 1213.1,222.6 C1210.4,222.6 1205.6,221.2 1202.8,218.5 C1200.1,215.7 1198.0,210.2 1196.6,206.1 C1195.2,202.0 1194.5,198.5 1194.5,193.7 C1194.5,188.9 1193.2,179.6 1196.6,177.2 Z" fill="#000"/>
<path d="M1165.6,220.6 C1169.8,217.8 1183.5,220.9 1190.4,222.6 C1197.3,224.3 1200.7,228.8 1206.9,230.9 C1213.1,233.0 1222.4,233.0 1227.6,235.0 C1232.8,237.1 1235.9,239.2 1237.9,243.3 C1240.0,247.4 1241.7,256.4 1240.0,259.8 C1238.3,263.3 1231.4,263.9 1227.6,263.9 C1223.8,263.9 1220.7,261.2 1217.3,259.8 C1213.8,258.4 1210.4,256.7 1206.9,255.7 C1203.5,254.6 1200.7,254.3 1196.6,253.6 C1192.5,252.9 1186.6,252.2 1182.2,251.5 C1177.7,250.9 1172.5,251.5 1169.8,249.5 C1167.0,247.4 1166.3,244.0 1165.6,239.2 C1164.9,234.3 1161.5,223.3 1165.6,220.6 Z" fill="#000"/>
<path d="M1178.0,261.9 C1180.8,258.1 1191.8,260.8 1196.6,261.9 C1201.4,262.9 1205.2,264.6 1206.9,268.1 C1208.7,271.5 1208.3,278.4 1206.9,282.5 C1205.6,286.7 1202.1,290.8 1198.7,292.9 C1195.2,294.9 1189.4,296.3 1186.3,294.9 C1183.2,293.6 1181.5,290.1 1180.1,284.6 C1178.7,279.1 1175.3,265.7 1178.0,261.9 Z" fill="#000"/>
<path d="M1076.8,380.1 C1041.3,374.5 1076.4,357.3 1076.8,346.6 C1077.1,335.8 1078.5,324.6 1078.8,315.6 C1079.2,306.6 1077.1,297.3 1078.8,292.9 C1080.6,288.4 1085.0,288.1 1089.2,288.7 C1093.3,289.4 1098.8,297.7 1103.6,297.0 C1108.5,296.3 1113.3,287.4 1118.1,284.6 C1122.9,281.9 1128.1,280.5 1132.6,280.5 C1137.0,280.5 1142.2,281.9 1145.0,284.6 C1147.7,287.4 1149.1,291.8 1149.1,297.0 C1149.1,302.2 1143.9,311.8 1145.0,315.6 C1146.0,319.4 1151.2,318.4 1155.3,319.7 C1159.4,321.1 1165.3,324.6 1169.8,323.9 C1174.2,323.2 1179.4,318.7 1182.2,315.6 C1184.9,312.5 1183.9,307.7 1186.3,305.3 C1188.7,302.9 1193.2,302.9 1196.6,301.1 C1200.1,299.4 1203.2,297.7 1206.9,294.9 C1210.7,292.2 1214.2,286.3 1219.3,284.6 C1224.5,282.9 1233.1,282.9 1237.9,284.6 C1242.8,286.3 1243.1,288.1 1248.3,294.9 C1253.4,301.8 1262.0,311.7 1268.9,325.9 C1275.8,340.1 1321.6,371.0 1289.6,380.1 C1257.6,389.1 1112.3,385.6 1076.8,380.1 Z" fill="#000"/>
<path d="M1030.3,346.6 C1033.2,342.5 1044.2,343.8 1047.9,346.6 C1051.5,349.3 1053.0,359.0 1052.0,363.1 C1051.0,367.2 1045.3,370.0 1041.7,371.4 C1038.0,372.8 1032.2,375.5 1030.3,371.4 C1028.4,367.2 1027.4,350.7 1030.3,346.6 Z" fill="#000"/>
<path d="M1031.3,239.2 C1033.7,236.7 1041.0,237.4 1045.8,239.2 C1050.6,240.9 1057.5,246.4 1060.3,249.5 C1063.0,252.6 1064.4,256.0 1062.3,257.7 C1060.3,259.5 1052.7,258.8 1047.9,259.8 C1043.0,260.8 1036.2,265.0 1033.4,263.9 C1030.6,262.9 1031.7,257.7 1031.3,253.6 C1031.0,249.5 1028.9,241.6 1031.3,239.2 Z" fill="#000"/>
<path d="M1132.6,272.2 C1134.6,270.1 1144.3,269.5 1149.1,270.1 C1153.9,270.8 1160.8,274.3 1161.5,276.3 C1162.2,278.4 1157.4,281.5 1153.2,282.5 C1149.1,283.6 1140.1,284.3 1136.7,282.5 C1133.3,280.8 1130.5,274.3 1132.6,272.2 Z" fill="#000"/>
<path d="M1324.7,90.4 C1326.4,88.2 1330.9,86.3 1331.9,87.3 C1333.0,88.3 1332.1,93.7 1330.9,96.6 C1329.7,99.5 1326.3,104.2 1324.7,104.9 C1323.2,105.5 1321.6,103.1 1321.6,100.7 C1321.6,98.3 1323.0,92.6 1324.7,90.4 Z" fill="#f8b6b6"/>
<path d="M1106.1,159.0 C1107.4,158.0 1113.1,158.1 1114.6,159.0 C1116.1,159.9 1116.3,163.4 1115.0,164.4 C1113.7,165.3 1108.2,165.7 1106.7,164.8 C1105.3,163.9 1104.8,160.0 1106.1,159.0 Z" fill="#f8b6b6"/>
<path d="M1155.1,161.1 C1156.9,159.7 1164.5,159.8 1166.5,161.1 C1168.4,162.3 1168.7,167.2 1166.9,168.5 C1165.0,169.8 1157.3,170.1 1155.3,168.9 C1153.3,167.7 1153.2,162.4 1155.1,161.1 Z" fill="#f8b6b6"/>
<path d="M1064.6,109.0 C1066.4,107.6 1074.2,107.6 1076.0,109.0 C1077.7,110.4 1076.9,115.9 1075.1,117.3 C1073.4,118.6 1067.2,118.6 1065.4,117.3 C1063.7,115.9 1062.8,110.4 1064.6,109.0 Z" fill="#f8b6b6"/>
<path d="M1045.8,156.5 C1047.3,155.1 1054.2,154.4 1056.1,155.5 C1058.0,156.5 1058.7,161.3 1057.2,162.7 C1055.6,164.1 1048.7,164.8 1046.8,163.7 C1044.9,162.7 1044.2,157.9 1045.8,156.5 Z" fill="#f8b6b6"/>
<path d="M1083.0,156.5 C1084.5,154.6 1091.2,153.1 1093.3,154.4 C1095.4,155.8 1096.9,162.9 1095.4,164.8 C1093.8,166.7 1086.1,167.2 1084.0,165.8 C1081.9,164.4 1081.4,158.4 1083.0,156.5 Z" fill="#f8b6b6"/>
<path d="M1136.7,160.6 C1138.1,158.9 1143.4,158.2 1145.0,159.6 C1146.5,161.0 1147.4,167.2 1146.0,168.9 C1144.6,170.6 1138.2,171.3 1136.7,169.9 C1135.2,168.6 1135.3,162.4 1136.7,160.6 Z" fill="#f8b6b6"/>
<circle cx="1271.0" cy="140.0" r="2.9" fill="#000"/>
<circle cx="1260.7" cy="193.7" r="2.9" fill="#000"/>
<circle cx="1287.5" cy="119.3" r="2.5" fill="#000"/>
<circle cx="1277.2" cy="156.5" r="2.5" fill="#000"/>
<circle cx="1052.0" cy="173.0" r="3.1" fill="#000"/>
<circle cx="1076.8" cy="177.2" r="2.5" fill="#000"/>
<circle cx="1061.3" cy="186.5" r="2.5" fill="#000"/>
<circle cx="1052.0" cy="194.7" r="3.1" fill="#000"/>
<circle cx="1107.8" cy="257.7" r="2.7" fill="#000"/>
<circle cx="1248.3" cy="143.1" r="2.7" fill="#000"/>
<circle cx="1184.2" cy="206.1" r="2.5" fill="#000"/>
<circle cx="1036.5" cy="319.7" r="2.5" fill="#000"/>
<circle cx="1046.8" cy="334.2" r="3.1" fill="#000"/>
<circle cx="1039.6" cy="268.1" r="3.1" fill="#000"/>
<circle cx="1151.2" cy="117.3" r="2.9" fill="#000"/>
<circle cx="1297.9" cy="109.0" r="2.5" fill="#000"/>
<polygon points="1021.0,385.3 1030.7,381.3 1040.4,370.9 1050.1,373.5 1059.8,379.5 1069.6,373.3 1079.3,369.4 1089.0,379.4 1098.7,384.8 1108.4,377.2 1118.1,375.7 1127.8,383.2 1137.5,379.9 1147.2,369.1 1156.9,371.5 1166.7,379.6 1176.4,375.8 1186.1,371.5 1195.8,380.6 1205.5,386.3 1215.2,377.7 1224.9,373.6 1234.6,380.3 1244.3,378.5 1254.1,368.5 1263.8,371.0 1273.5,381.0 1283.2,378.9 1292.9,373.6 1302.6,380.8 1312.3,386.1 1322.0,376.9 1331.7,370.9 1341.4,377.6 1351.2,378.1 1360.9,369.5 1370.6,371.9 1380.3,382.9 1390.0,381.8 1390.0,407.0 1021.0,407.0" fill="#000"/>
<polygon points="1021.0,386.5 1390.0,386.5 1390.0,672.1 1021.0,672.1" fill="#000"/>
<path d="M1030.3,452.6 C1032.2,450.4 1037.7,450.9 1041.7,451.6 C1045.6,452.3 1050.6,454.2 1054.1,456.8 C1057.5,459.4 1059.6,466.4 1062.3,467.1 C1065.1,467.8 1067.1,461.9 1070.6,460.9 C1074.0,459.9 1079.9,461.6 1083.0,460.9 C1086.1,460.2 1087.5,459.2 1089.2,456.8 C1090.9,454.4 1091.6,449.2 1093.3,446.4 C1095.0,443.7 1097.8,443.0 1099.5,440.2 C1101.2,437.5 1102.3,429.9 1103.6,429.9 C1105.0,429.9 1105.4,438.2 1107.8,440.2 C1110.2,442.3 1117.1,439.6 1118.1,442.3 C1119.1,445.1 1116.4,453.0 1114.0,456.8 C1111.6,460.6 1108.1,462.6 1103.6,465.0 C1099.2,467.4 1091.2,469.2 1087.1,471.2 C1083.0,473.3 1079.5,475.0 1078.8,477.4 C1078.2,479.8 1082.6,482.9 1083.0,485.7 C1083.3,488.5 1079.9,491.2 1080.9,494.0 C1081.9,496.7 1088.5,498.8 1089.2,502.2 C1089.9,505.7 1087.5,510.5 1085.0,514.6 C1082.6,518.8 1076.1,522.2 1074.7,527.0 C1073.3,531.8 1078.8,540.8 1076.8,543.5 C1074.7,546.3 1066.5,543.5 1062.3,543.5 C1058.2,543.5 1055.1,544.9 1052.0,543.5 C1048.9,542.2 1046.1,538.4 1043.7,535.3 C1041.3,532.2 1039.8,526.3 1037.5,525.0 C1035.3,523.6 1031.5,530.8 1030.3,527.0 C1029.1,523.2 1029.1,507.7 1030.3,502.2 C1031.5,496.7 1034.9,496.7 1037.5,494.0 C1040.1,491.2 1044.8,490.2 1045.8,485.7 C1046.8,481.2 1046.3,470.5 1043.7,467.1 C1041.1,463.7 1032.5,467.4 1030.3,465.0 C1028.1,462.6 1028.4,454.9 1030.3,452.6 Z" fill="#f8b6b6"/>
<path d="M1030.3,370.0 C1034.3,363.5 1050.1,367.2 1054.1,370.0 C1058.0,372.8 1055.1,382.4 1054.1,386.5 C1053.0,390.7 1049.9,391.0 1047.9,394.8 C1045.8,398.6 1043.4,406.2 1041.7,409.3 C1039.9,412.4 1039.4,413.4 1037.5,413.4 C1035.6,413.4 1031.5,416.5 1030.3,409.3 C1029.1,402.0 1026.3,376.5 1030.3,370.0 Z" fill="#f8b6b6"/>
<path d="M1140.8,390.7 C1142.0,388.6 1145.0,388.9 1147.0,390.7 C1149.1,392.4 1151.9,398.2 1153.2,401.0 C1154.6,403.7 1156.7,405.8 1155.3,407.2 C1153.9,408.6 1147.4,407.9 1145.0,409.3 C1142.6,410.6 1141.7,416.5 1140.8,415.5 C1140.0,414.4 1139.8,407.2 1139.8,403.1 C1139.8,398.9 1139.6,392.7 1140.8,390.7 Z" fill="#f8b6b6"/>
<path d="M1153.2,370.0 C1154.6,368.6 1162.2,368.6 1163.6,370.0 C1164.9,371.4 1162.9,376.9 1161.5,378.3 C1160.1,379.6 1156.7,379.6 1155.3,378.3 C1153.9,376.9 1151.9,371.4 1153.2,370.0 Z" fill="#f8b6b6"/>
<path d="M1225.5,413.4 C1226.6,411.0 1231.4,409.3 1233.8,409.3 C1236.2,409.3 1238.1,411.7 1240.0,413.4 C1241.9,415.1 1245.2,418.2 1245.2,419.6 C1245.2,421.0 1242.9,421.0 1240.0,421.7 C1237.1,422.3 1230.0,425.1 1227.6,423.7 C1225.2,422.3 1224.5,415.8 1225.5,413.4 Z" fill="#f8b6b6"/>
<path d="M1171.8,516.7 C1172.5,516.0 1176.0,515.7 1178.0,514.6 C1180.1,513.6 1182.5,510.5 1184.2,510.5 C1185.9,510.5 1188.0,512.6 1188.4,514.6 C1188.7,516.7 1187.7,521.3 1186.3,522.9 C1184.9,524.4 1182.2,524.6 1180.1,523.9 C1178.0,523.2 1175.3,520.0 1173.9,518.8 C1172.5,517.6 1171.1,517.4 1171.8,516.7 Z" fill="#f8b6b6"/>
<path d="M1030.3,570.4 C1031.8,568.9 1037.0,567.3 1039.6,568.3 C1042.2,569.4 1045.8,574.9 1045.8,576.6 C1045.8,578.3 1042.2,578.5 1039.6,578.7 C1037.0,578.8 1031.8,579.0 1030.3,577.6 C1028.7,576.3 1028.7,572.0 1030.3,570.4 Z" fill="#f8b6b6"/>
<path d="M1047.9,595.2 C1048.7,593.7 1051.0,592.4 1052.0,594.2 C1053.0,595.9 1052.3,602.9 1054.1,605.5 C1055.8,608.1 1059.6,607.6 1062.3,609.7 C1065.1,611.7 1069.6,615.5 1070.6,617.9 C1071.6,620.3 1070.6,623.1 1068.5,624.1 C1066.5,625.2 1061.3,624.8 1058.2,624.1 C1055.1,623.4 1051.3,622.1 1049.9,620.0 C1048.5,617.9 1050.4,614.5 1049.9,611.7 C1049.4,609.0 1047.2,606.2 1046.8,603.5 C1046.5,600.7 1047.0,596.8 1047.9,595.2 Z" fill="#f8b6b6"/>
<path d="M1083.0,628.3 C1084.4,626.5 1088.8,625.5 1091.2,626.2 C1093.7,626.9 1097.4,630.7 1097.4,632.4 C1097.4,634.1 1093.7,635.8 1091.2,636.5 C1088.8,637.2 1084.4,637.9 1083.0,636.5 C1081.6,635.1 1081.6,630.0 1083.0,628.3 Z" fill="#f8b6b6"/>
<path d="M1111.9,644.8 C1114.0,643.8 1120.2,643.4 1124.3,642.7 C1128.4,642.0 1133.3,641.7 1136.7,640.7 C1140.1,639.6 1142.9,637.2 1145.0,636.5 C1147.0,635.8 1147.0,636.5 1149.1,636.5 C1151.2,636.5 1156.3,634.8 1157.4,636.5 C1158.4,638.2 1156.0,644.4 1155.3,646.9 C1154.6,649.3 1155.0,650.3 1153.2,651.0 C1151.5,651.7 1148.4,651.3 1145.0,651.0 C1141.5,650.6 1136.0,649.3 1132.6,648.9 C1129.1,648.6 1127.7,648.9 1124.3,648.9 C1120.9,648.9 1114.0,649.6 1111.9,648.9 C1109.8,648.2 1109.8,645.8 1111.9,644.8 Z" fill="#f8b6b6"/>
<path d="M1116.0,609.7 C1116.7,608.5 1122.2,607.3 1124.3,607.6 C1126.4,607.9 1129.1,610.5 1128.4,611.7 C1127.7,612.9 1122.2,615.2 1120.2,614.8 C1118.1,614.5 1115.4,610.9 1116.0,609.7 Z" fill="#f8b6b6"/>
<path d="M1076.8,415.5 C1078.2,414.6 1085.7,414.4 1087.1,415.5 C1088.5,416.5 1086.4,420.8 1085.0,421.7 C1083.7,422.5 1080.2,421.7 1078.8,420.6 C1077.5,419.6 1075.4,416.3 1076.8,415.5 Z" fill="#f8b6b6"/>
<path d="M1128.4,427.8 C1129.6,427.0 1135.7,426.8 1136.7,427.8 C1137.7,428.9 1135.8,433.2 1134.6,434.0 C1133.4,434.9 1130.5,434.0 1129.5,433.0 C1128.4,432.0 1127.2,428.7 1128.4,427.8 Z" fill="#f8b6b6"/>
<circle cx="1058.2" cy="523.9" r="3.3" fill="#000"/>
<circle cx="1048.9" cy="535.3" r="3.3" fill="#000"/>
<circle cx="1061.3" cy="538.4" r="2.9" fill="#000"/>
<circle cx="1073.7" cy="469.2" r="2.9" fill="#000"/>
<circle cx="1125.3" cy="647.9" r="2.5" fill="#000"/>
<path d="M1279.1,326.2 C1270.5,329.4 1275.9,339.2 1274.1,345.2 C1272.3,351.2 1270.1,356.4 1268.2,362.2 C1266.2,368.1 1263.5,373.9 1262.2,380.3 C1260.9,386.6 1259.6,393.9 1260.2,400.3 C1260.9,406.6 1263.2,412.9 1266.2,418.3 C1269.1,423.6 1268.2,428.6 1278.1,432.3 C1288.0,436.0 1317.7,458.0 1325.7,440.3 C1333.6,422.6 1333.4,345.2 1325.7,326.2 C1317.9,307.2 1287.7,323.0 1279.1,326.2 Z" fill="url(#bayC)"/>
<polygon points="1275.1,432.3 1281.0,440.3 1291.0,455.3 1298.9,470.3 1302.9,486.3 1305.8,504.4 1305.8,525.4 1304.8,545.4 1300.9,562.4 1294.9,580.4 1287.0,596.4 1282.0,611.4 1277.1,626.5 1280.1,640.5 1335.6,640.5 1335.6,430.3" fill="#a8a8fa"/>
</g>
<clipPath id="clipC"><rect x="1021.0" y="78.5" width="369.0" height="594.0"/></clipPath>
<clipPath id="landC"><polygon points="1338.5,70.0 1336.6,86.0 1331.6,98.7 1325.5,109.0 1319.3,117.2 1317.2,123.4 1313.2,131.7 1308.0,140.1 1301.9,146.1 1304.8,152.1 1298.9,159.7 1293.7,164.8 1290.7,175.1 1286.5,185.5 1280.4,197.9 1272.1,206.1 1264.0,210.1 1258.0,214.4 1253.8,221.6 1249.5,234.5 1245.3,244.6 1243.8,253.1 1242.4,267.7 1240.9,279.2 1239.5,290.7 1238.1,302.2 1236.6,310.8 1238.1,316.5 1239.5,319.4 1240.9,310.8 1242.4,302.2 1245.3,296.4 1248.0,292.1 1252.3,297.8 1256.6,307.9 1262.3,316.5 1268.0,323.7 1273.7,329.5 1276.6,331.2 1279.1,327.2 1282.2,329.5 1288.0,339.5 1293.6,348.1 1299.3,356.8 1302.2,362.5 1299.3,371.1 1297.9,382.7 1296.5,391.3 1295.0,400.0 1290.8,411.4 1284.5,419.9 1278.1,424.0 1282.0,432.3 1288.6,438.3 1298.9,452.9 1306.8,469.3 1310.8,486.0 1313.2,504.4 1313.2,525.4 1312.2,545.9 1308.8,562.4 1303.3,580.4 1295.1,596.8 1289.5,611.6 1284.6,626.5 1280.5,642.0 1278.9,654.4 1279.3,665.9 1279.1,680.5 1405.0,680.5 1405.0,70.0"/></clipPath>
<polygon clip-path="url(#clipC)" points="1338.5,70.0 1336.6,86.0 1331.6,98.7 1325.5,109.0 1319.3,117.2 1317.2,123.4 1313.2,131.7 1308.0,140.1 1301.9,146.1 1304.8,152.1 1298.9,159.7 1293.7,164.8 1290.7,175.1 1286.5,185.5 1280.4,197.9 1272.1,206.1 1264.0,210.1 1258.0,214.4 1253.8,221.6 1249.5,234.5 1245.3,244.6 1243.8,253.1 1242.4,267.7 1240.9,279.2 1239.5,290.7 1238.1,302.2 1236.6,310.8 1238.1,316.5 1239.5,319.4 1240.9,310.8 1242.4,302.2 1245.3,296.4 1248.0,292.1 1252.3,297.8 1256.6,307.9 1262.3,316.5 1268.0,323.7 1273.7,329.5 1276.6,331.2 1279.1,327.2 1282.2,329.5 1288.0,339.5 1293.6,348.1 1299.3,356.8 1302.2,362.5 1299.3,371.1 1297.9,382.7 1296.5,391.3 1295.0,400.0 1290.8,411.4 1284.5,419.9 1278.1,424.0 1282.0,432.3 1288.6,438.3 1298.9,452.9 1306.8,469.3 1310.8,486.0 1313.2,504.4 1313.2,525.4 1312.2,545.9 1308.8,562.4 1303.3,580.4 1295.1,596.8 1289.5,611.6 1284.6,626.5 1280.5,642.0 1278.9,654.4 1279.3,665.9 1279.1,680.5 1405.0,680.5 1405.0,70.0" fill="#808080" stroke="#3a3a3a" stroke-width="0.8"/>
<line x1="1316.2" y1="86.5" x2="1316.2" y2="664.5" stroke="#747474" stroke-width="1"/>
<line clip-path="url(#landC)" x1="1029.0" y1="227.0" x2="1382.0" y2="227.0" stroke="#747474" stroke-width="1"/>
<line clip-path="url(#landC)" x1="1029.0" y1="375.5" x2="1382.0" y2="375.5" stroke="#747474" stroke-width="1"/>
<line clip-path="url(#landC)" x1="1029.0" y1="524.0" x2="1382.0" y2="524.0" stroke="#747474" stroke-width="1"/>
<polyline points="1281.3,668.5 1281.3,658.5 1285.4,651.9 1289.5,642.9 1292.0,637.9 1296.8,633.8 1303.3,633.0 1308.2,634.7 1313.1,637.1 1317.9,635.5 1324.5,633.8 1331.0,634.7 1335.9,633.0 1342.3,630.6 1348.9,631.4 1353.7,628.9 1360.3,630.6 1368.4,629.7 1376.5,628.1 1385.1,627.3" fill="none" stroke="#2a2a2a" stroke-width="2.4" stroke-linejoin="round"/>
<polyline points="1281.3,668.5 1281.3,658.5 1285.4,651.9 1289.5,642.9 1292.0,637.9 1296.8,633.8 1303.3,633.0 1308.2,634.7 1313.1,637.1 1317.9,635.5 1324.5,633.8 1331.0,634.7 1335.9,633.0 1342.3,630.6 1348.9,631.4 1353.7,628.9 1360.3,630.6 1368.4,629.7 1376.5,628.1 1385.1,627.3" fill="none" stroke="#c8c8c8" stroke-width="1.1" stroke-linejoin="round"/>
<polygon points="1357.9,614.0 1365.3,609.4 1373.2,605.9 1377.7,603.6 1378.2,605.2 1373.2,608.4 1365.3,612.4 1358.9,615.5" fill="#d8d8d8" stroke="#2a2a2a" stroke-width="0.8"/>
<polygon points="1319.7,664.0 1323.7,656.5 1327.6,650.5 1332.1,645.0 1333.6,646.0 1330.6,652.5 1325.7,659.5 1321.2,665.0" fill="#d8d8d8" stroke="#2a2a2a" stroke-width="0.8"/>
<path d="M1021.0,78.5 h369.0 v594.0 h-369.0 z M1028.0,85.5 v580.0 h355.0 v-580.0 z" fill="#000" fill-rule="evenodd"/>
<rect x="1022.2" y="79.7" width="36.7" height="5.4" fill="#fff"/>
<rect x="1095.5" y="79.7" width="36.7" height="5.4" fill="#fff"/>
<rect x="1168.8" y="79.7" width="36.7" height="5.4" fill="#fff"/>
<rect x="1242.2" y="79.7" width="36.7" height="5.4" fill="#fff"/>
<rect x="1315.5" y="79.7" width="36.7" height="5.4" fill="#fff"/>
<rect x="1058.9" y="665.9" width="36.7" height="5.4" fill="#fff"/>
<rect x="1132.2" y="665.9" width="36.7" height="5.4" fill="#fff"/>
<rect x="1205.5" y="665.9" width="36.7" height="5.4" fill="#fff"/>
<rect x="1278.8" y="665.9" width="36.7" height="5.4" fill="#fff"/>
<rect x="1352.1" y="665.9" width="36.7" height="5.4" fill="#fff"/>
<rect x="1022.2" y="79.7" width="5.4" height="74.0" fill="#fff"/>
<rect x="1022.2" y="227.6" width="5.4" height="73.9" fill="#fff"/>
<rect x="1022.2" y="375.5" width="5.4" height="73.9" fill="#fff"/>
<rect x="1022.2" y="523.4" width="5.4" height="73.9" fill="#fff"/>
<rect x="1383.4" y="153.7" width="5.4" height="74.0" fill="#fff"/>
<rect x="1383.4" y="301.6" width="5.4" height="73.9" fill="#fff"/>
<rect x="1383.4" y="449.4" width="5.4" height="74.0" fill="#fff"/>
<rect x="1383.4" y="597.4" width="5.4" height="74.0" fill="#fff"/>
<line x1="1022.2" y1="79.7" x2="1028.0" y2="85.5" stroke="#000" stroke-width="0.8"/>
<line x1="1388.8" y1="671.3" x2="1383.0" y2="665.5" stroke="#000" stroke-width="0.8"/>
<rect x="1021.6" y="79.1" width="367.8" height="592.8" fill="none" stroke="#000" stroke-width="1.2"/>
<text x="1014.5" y="88.5" text-anchor="end" class="tk">24°N</text>
<text x="1014.5" y="237.0" text-anchor="end" class="tk">22°N</text>
<text x="1014.5" y="385.5" text-anchor="end" class="tk">20°N</text>
<text x="1014.5" y="534.0" text-anchor="end" class="tk">18°N</text>
<text x="1014.5" y="682.5" text-anchor="end" class="tk">16°N</text>
<text x="1096.8" y="698.0" text-anchor="middle" class="tk">19°W</text>
<text x="1244.4" y="698.0" text-anchor="middle" class="tk">17°W</text>
<text x="1392.0" y="698.0" text-anchor="middle" class="tk">15°W</text>
<rect x="73.6" y="752.5" width="370.5" height="593.0" fill="#000"/>
<clipPath id="iclipD"><rect x="73.6" y="752.5" width="370.5" height="593.0"/></clipPath>
<g clip-path="url(#iclipD)">
<polygon points="72.0,752.0 445.0,752.0 445.0,1050.0 72.0,1050.0" fill="#f45c5c"/>
<path d="M123.0,894.7 C125.0,888.6 133.5,884.1 139.3,882.4 C145.0,880.7 153.9,881.8 157.6,884.5 C161.3,887.2 161.0,893.7 161.7,898.8 C162.4,903.8 163.0,910.6 161.7,915.1 C160.3,919.5 157.6,923.2 153.5,925.3 C149.5,927.3 141.6,928.3 137.2,927.3 C132.8,926.3 129.4,924.6 127.0,919.1 C124.7,913.7 120.9,900.8 123.0,894.7 Z" fill="#ff0a0a"/>
<path d="M173.9,878.4 C176.3,873.6 185.5,872.3 190.2,874.3 C195.0,876.3 198.4,885.2 202.4,890.6 C206.5,896.0 211.3,902.2 214.7,906.9 C218.1,911.7 220.8,915.1 222.8,919.1 C224.9,923.2 228.3,928.6 226.9,931.4 C225.5,934.1 219.4,935.4 214.7,935.4 C209.9,935.4 203.1,934.1 198.4,931.4 C193.6,928.6 189.9,923.9 186.1,919.1 C182.4,914.4 178.0,909.6 176.0,902.8 C173.9,896.0 171.5,883.1 173.9,878.4 Z" fill="#ff0a0a"/>
<path d="M81.2,853.9 C83.7,849.2 91.9,849.2 96.5,849.8 C101.0,850.5 107.3,854.6 108.7,858.0 C110.0,861.4 107.3,866.8 104.6,870.2 C101.9,873.6 96.3,877.0 92.4,878.4 C88.5,879.7 83.0,882.4 81.2,878.4 C79.3,874.3 78.6,858.7 81.2,853.9 Z" fill="#ff0a0a"/>
<path d="M226.9,951.7 C229.6,948.4 242.5,952.4 247.3,955.8 C252.0,959.2 255.8,968.1 255.4,972.1 C255.1,976.2 249.3,979.6 245.3,980.3 C241.2,981.0 234.0,981.0 231.0,976.2 C227.9,971.5 224.2,955.1 226.9,951.7 Z" fill="#ff0a0a"/>
<path d="M81.2,882.4 C83.7,880.7 91.9,882.4 96.5,884.5 C101.0,886.5 109.4,892.3 108.7,894.7 C108.0,897.1 97.0,898.8 92.4,898.8 C87.8,898.8 83.0,897.4 81.2,894.7 C79.3,892.0 78.6,884.1 81.2,882.4 Z" fill="#ff0a0a"/>
<path d="M98.5,931.4 C101.2,929.3 112.4,932.7 116.8,935.4 C121.3,938.2 125.7,944.3 125.0,947.7 C124.3,951.1 116.8,955.8 112.8,955.8 C108.7,955.8 102.9,951.7 100.5,947.7 C98.2,943.6 95.8,933.4 98.5,931.4 Z" fill="#ff0a0a"/>
<path d="M247.3,992.5 C250.3,990.5 260.2,989.8 263.6,992.5 C267.0,995.2 269.0,1005.4 267.7,1008.8 C266.3,1012.2 259.2,1013.6 255.4,1012.9 C251.7,1012.2 246.6,1008.1 245.3,1004.7 C243.9,1001.3 244.2,994.6 247.3,992.5 Z" fill="#ff0a0a"/>
<path d="M106.7,752.0 C151.8,750.0 333.9,750.6 377.7,752.0 C421.6,753.4 373.0,755.7 369.6,760.2 C366.2,764.6 360.8,772.7 357.4,778.5 C354.0,784.3 351.6,789.0 349.2,794.8 C346.8,800.6 345.8,807.4 343.1,813.1 C340.4,818.9 336.0,826.1 332.9,829.5 C329.8,832.9 326.4,835.2 324.7,833.5 C323.0,831.8 324.1,823.2 322.7,819.3 C321.3,815.4 321.0,811.4 316.6,810.1 C312.2,808.7 301.6,809.6 296.2,811.1 C290.8,812.6 287.4,817.2 284.0,819.3 C280.6,821.3 277.5,820.3 275.8,823.3 C274.1,826.4 273.8,831.8 273.8,837.6 C273.8,843.4 276.8,853.2 275.8,858.0 C274.8,862.7 271.7,864.1 267.7,866.1 C263.6,868.2 255.8,870.2 251.4,870.2 C246.9,870.2 244.6,868.2 241.2,866.1 C237.8,864.1 234.7,858.7 231.0,858.0 C227.2,857.3 222.8,860.7 218.8,862.1 C214.7,863.4 209.9,864.8 206.5,866.1 C203.1,867.5 201.8,870.2 198.4,870.2 C195.0,870.2 190.9,866.1 186.1,866.1 C181.4,866.1 174.6,868.9 169.8,870.2 C165.1,871.6 161.0,875.0 157.6,874.3 C154.2,873.6 152.9,868.5 149.5,866.1 C146.1,863.8 140.6,863.4 137.2,860.0 C133.8,856.6 131.1,850.9 129.1,845.8 C127.0,840.7 126.0,834.9 125.0,829.5 C124.0,824.0 123.6,819.3 123.0,813.1 C122.3,807.0 122.6,798.9 120.9,792.8 C119.2,786.7 115.1,781.2 112.8,776.5 C110.4,771.7 107.7,768.3 106.7,764.2 C105.6,760.2 61.5,754.0 106.7,752.0 Z" fill="#000"/>
<path d="M324.7,833.5 C326.1,830.1 329.8,832.9 332.9,829.5 C336.0,826.1 340.4,818.9 343.1,813.1 C345.8,807.4 346.8,800.6 349.2,794.8 C351.6,789.0 354.0,784.3 357.4,778.5 C360.8,772.7 366.2,764.6 369.6,760.2 C373.0,755.7 365.2,753.4 377.7,752.0 C390.3,750.6 433.8,702.3 445.0,752.0 C456.2,801.7 473.2,1000.3 445.0,1050.0 C416.8,1099.7 303.0,1053.8 275.8,1050.0 C248.6,1046.2 280.6,1034.4 281.9,1027.2 C283.3,1020.0 284.3,1013.6 284.0,1006.8 C283.6,1000.0 280.9,992.2 279.9,986.4 C278.9,980.6 277.2,977.2 277.9,972.1 C278.5,967.0 283.0,961.9 284.0,955.8 C285.0,949.7 284.0,942.2 284.0,935.4 C284.0,928.6 283.0,921.2 284.0,915.1 C285.0,908.9 287.4,903.5 290.1,898.8 C292.8,894.0 296.5,890.3 300.3,886.5 C304.0,882.8 309.1,879.7 312.5,876.3 C315.9,872.9 318.6,870.6 320.7,866.1 C322.7,861.7 324.1,855.3 324.7,849.8 C325.4,844.4 323.4,836.9 324.7,833.5 Z" fill="#000"/>
<path d="M204.5,892.6 C209.2,891.3 227.9,888.6 233.0,890.6 C238.1,892.6 236.8,901.5 235.1,904.9 C233.4,908.3 226.9,910.6 222.8,911.0 C218.8,911.3 213.7,908.9 210.6,906.9 C207.5,904.9 205.5,901.1 204.5,898.8 C203.5,896.4 199.7,894.0 204.5,892.6 Z" fill="#000"/>
<path d="M249.3,915.1 C252.7,911.3 263.3,912.3 267.7,913.0 C272.1,913.7 274.8,916.1 275.8,919.1 C276.8,922.2 275.8,926.9 273.8,931.4 C271.7,935.8 267.3,942.9 263.6,945.6 C259.9,948.4 254.1,949.4 251.4,947.7 C248.6,946.0 247.6,940.9 247.3,935.4 C246.9,930.0 245.9,918.8 249.3,915.1 Z" fill="#000"/>
<path d="M94.4,915.1 C98.2,912.7 110.0,912.0 112.8,913.0 C115.5,914.0 113.8,918.1 110.7,921.2 C107.7,924.2 97.8,930.3 94.4,931.4 C91.0,932.4 90.3,930.0 90.3,927.3 C90.3,924.6 90.7,917.4 94.4,915.1 Z" fill="#000"/>
<path d="M165.8,935.4 C168.8,933.7 182.1,935.4 186.1,937.5 C190.2,939.5 191.6,945.0 190.2,947.7 C188.9,950.4 181.7,953.8 178.0,953.8 C174.3,953.8 169.8,950.7 167.8,947.7 C165.8,944.6 162.7,937.1 165.8,935.4 Z" fill="#000"/>
<path d="M149.5,959.9 C153.2,956.5 161.7,955.1 167.8,955.8 C173.9,956.5 180.4,961.3 186.1,964.0 C191.9,966.7 198.4,969.1 202.4,972.1 C206.5,975.2 208.6,978.2 210.6,982.3 C212.6,986.4 212.0,992.2 214.7,996.6 C217.4,1001.0 222.8,1005.4 226.9,1008.8 C231.0,1012.2 235.7,1012.9 239.1,1017.0 C242.5,1021.0 245.3,1027.8 247.3,1033.3 C249.3,1038.8 266.3,1047.2 251.4,1050.0 C236.4,1052.8 172.9,1052.8 157.6,1050.0 C142.3,1047.2 160.3,1038.8 159.6,1033.3 C159.0,1027.8 155.2,1023.1 153.5,1017.0 C151.8,1010.9 150.8,1003.4 149.5,996.6 C148.1,989.8 145.4,982.3 145.4,976.2 C145.4,970.1 145.7,963.3 149.5,959.9 Z" fill="#000"/>
<path d="M80.2,982.3 C82.9,977.9 91.0,979.3 96.5,980.3 C101.9,981.3 108.0,986.4 112.8,988.4 C117.5,990.5 121.6,990.1 125.0,992.5 C128.4,994.9 133.1,1000.0 133.1,1002.7 C133.1,1005.4 129.1,1008.1 125.0,1008.8 C120.9,1009.5 114.1,1007.8 108.7,1006.8 C103.3,1005.8 97.1,1002.7 92.4,1002.7 C87.6,1002.7 82.2,1010.2 80.2,1006.8 C78.1,1003.4 77.4,986.7 80.2,982.3 Z" fill="#000"/>
<path d="M80.2,1033.3 C82.2,1030.2 88.3,1030.6 92.4,1031.2 C96.5,1031.9 101.2,1034.2 104.6,1037.4 C108.0,1040.5 116.8,1047.9 112.8,1050.0 C108.7,1052.1 85.6,1052.8 80.2,1050.0 C74.7,1047.2 78.1,1036.4 80.2,1033.3 Z" fill="#000"/>
<path d="M80.2,752.0 C84.6,750.0 102.6,750.6 106.7,752.0 C110.7,753.4 106.3,758.1 104.6,760.2 C102.9,762.2 100.5,763.6 96.5,764.2 C92.4,764.9 82.9,766.3 80.2,764.2 C77.4,762.2 75.7,754.0 80.2,752.0 Z" fill="#000"/>
<path d="M174.9,813.1 C176.8,809.1 182.6,809.1 186.1,809.1 C189.7,809.1 194.3,810.1 196.3,813.1 C198.4,816.2 199.1,823.0 198.4,827.4 C197.7,831.8 195.0,837.3 192.3,839.6 C189.5,842.0 185.0,842.7 182.1,841.7 C179.2,840.7 176.1,838.3 174.9,833.5 C173.7,828.8 173.1,817.2 174.9,813.1 Z" fill="#f45c5c"/>
<path d="M194.3,847.8 C195.3,845.8 200.7,844.4 202.4,845.8 C204.1,847.1 205.5,853.9 204.5,856.0 C203.5,858.0 198.0,859.3 196.3,858.0 C194.6,856.6 193.3,849.8 194.3,847.8 Z" fill="#f45c5c"/>
<path d="M214.7,829.5 C217.4,827.4 226.9,826.7 231.0,827.4 C235.1,828.1 238.1,830.8 239.1,833.5 C240.2,836.2 239.8,841.9 237.1,843.7 C234.4,845.6 226.6,845.4 222.8,844.7 C219.1,844.1 216.0,842.2 214.7,839.6 C213.3,837.1 212.0,831.5 214.7,829.5 Z" fill="#f59a9a"/>
<path d="M233.0,803.0 C234.7,797.9 239.5,790.7 243.2,786.7 C246.9,782.6 251.9,779.9 255.4,778.5 C259.0,777.1 263.6,776.1 264.6,778.5 C265.6,780.9 263.8,788.3 261.6,792.8 C259.3,797.2 254.4,800.9 251.4,805.0 C248.3,809.1 246.3,815.2 243.2,817.2 C240.2,819.3 234.7,819.6 233.0,817.2 C231.3,814.8 231.3,808.1 233.0,803.0 Z" fill="#f45c5c"/>
<path d="M284.0,772.4 C284.3,770.3 289.8,769.3 292.1,770.3 C294.5,771.4 298.6,776.5 298.2,778.5 C297.9,780.5 292.5,783.6 290.1,782.6 C287.7,781.6 283.6,774.4 284.0,772.4 Z" fill="#f59a9a"/>
<circle cx="95.4" cy="835.6" r="2.0" fill="#000"/>
<circle cx="106.7" cy="807.0" r="2.0" fill="#000"/>
<circle cx="133.1" cy="882.4" r="2.0" fill="#000"/>
<circle cx="120.9" cy="931.4" r="2.0" fill="#000"/>
<circle cx="178.0" cy="931.4" r="2.4" fill="#000"/>
<circle cx="194.3" cy="906.9" r="2.0" fill="#000"/>
<circle cx="214.7" cy="874.3" r="2.4" fill="#000"/>
<circle cx="251.4" cy="882.4" r="2.4" fill="#000"/>
<circle cx="186.1" cy="955.8" r="2.4" fill="#000"/>
<circle cx="102.6" cy="1017.0" r="2.9" fill="#000"/>
<circle cx="133.1" cy="1027.2" r="2.9" fill="#000"/>
<circle cx="112.8" cy="996.6" r="2.4" fill="#000"/>
<polygon points="73.6,1053.2 83.1,1042.1 92.6,1041.0 102.1,1053.5 111.6,1055.1 121.1,1047.0 130.6,1051.7 140.1,1060.4 149.6,1052.3 159.1,1042.0 168.6,1047.8 178.1,1052.5 187.6,1043.7 197.1,1042.4 206.6,1055.4 216.1,1058.1 225.6,1048.6 235.1,1050.1 244.6,1058.0 254.1,1050.7 263.6,1039.8 273.1,1045.8 282.6,1053.4 292.1,1046.7 301.6,1044.6 311.1,1056.8 320.6,1059.8 330.1,1048.6 339.6,1047.1 349.1,1054.9 358.6,1049.5 368.1,1039.1 377.6,1045.5 387.1,1055.6 396.6,1050.4 406.1,1046.5 415.6,1056.7 425.1,1059.6 434.6,1047.3 444.1,1043.7 444.1,1080.0 73.6,1080.0" fill="#000"/>
<polygon points="72.0,1065.6 445.0,1065.6 445.0,1346.0 72.0,1346.0" fill="#000"/>
<path d="M129.6,1045.0 C135.1,1043.3 157.1,1044.0 166.7,1045.0 C176.3,1046.0 182.5,1048.4 187.3,1051.2 C192.1,1053.9 195.5,1058.0 195.5,1061.5 C195.5,1064.9 191.4,1070.7 187.3,1071.8 C183.2,1072.8 175.6,1068.7 170.8,1067.6 C166.0,1066.6 162.6,1066.3 158.5,1065.6 C154.3,1064.9 150.2,1065.2 146.1,1063.5 C142.0,1061.8 136.5,1058.4 133.8,1055.3 C131.0,1052.2 124.1,1046.7 129.6,1045.0 Z" fill="#f47a7a"/>
<path d="M84.4,1045.0 C87.1,1043.3 101.8,1043.3 104.9,1045.0 C108.0,1046.7 105.6,1053.6 102.9,1055.3 C100.1,1057.0 91.6,1057.0 88.5,1055.3 C85.4,1053.6 81.6,1046.7 84.4,1045.0 Z" fill="#f45c5c"/>
<path d="M154.3,1096.5 C155.7,1095.3 159.8,1093.4 160.5,1094.4 C161.2,1095.4 159.8,1101.4 158.5,1102.6 C157.1,1103.8 153.0,1102.6 152.3,1101.6 C151.6,1100.6 153.0,1097.7 154.3,1096.5 Z" fill="#f45c5c"/>
<path d="M152.3,1137.6 C153.7,1135.6 159.1,1132.8 162.6,1133.5 C166.0,1134.2 170.8,1138.7 172.9,1141.7 C174.9,1144.8 176.0,1149.6 174.9,1152.0 C173.9,1154.4 169.4,1156.2 166.7,1156.2 C163.9,1156.2 160.5,1153.8 158.5,1152.0 C156.4,1150.3 155.4,1148.3 154.3,1145.9 C153.3,1143.5 150.9,1139.7 152.3,1137.6 Z" fill="#f46e6e"/>
<path d="M168.7,1172.6 C169.4,1170.6 172.5,1169.5 174.9,1170.6 C177.3,1171.6 181.1,1176.4 183.2,1178.8 C185.2,1181.2 188.0,1183.6 187.3,1185.0 C186.6,1186.4 181.8,1187.4 179.0,1187.0 C176.3,1186.7 172.5,1185.3 170.8,1182.9 C169.1,1180.5 168.1,1174.7 168.7,1172.6 Z" fill="#f46e6e"/>
<path d="M201.7,1172.6 C202.4,1171.3 205.8,1171.9 207.9,1172.6 C209.9,1173.3 214.0,1175.4 214.0,1176.7 C214.0,1178.1 209.6,1180.2 207.9,1180.9 C206.1,1181.5 204.8,1182.2 203.7,1180.9 C202.7,1179.5 201.0,1174.0 201.7,1172.6 Z" fill="#f45c5c"/>
<path d="M82.3,1189.1 C83.7,1186.0 89.5,1182.2 92.6,1180.9 C95.7,1179.5 98.1,1179.5 100.8,1180.9 C103.6,1182.2 108.0,1186.4 109.1,1189.1 C110.1,1191.8 109.1,1195.3 107.0,1197.3 C104.9,1199.4 100.5,1201.1 96.7,1201.4 C92.9,1201.8 86.8,1201.4 84.4,1199.4 C81.9,1197.3 80.9,1192.2 82.3,1189.1 Z" fill="#ff0a0a"/>
<path d="M102.9,1209.7 C103.9,1208.3 111.1,1206.9 113.2,1207.6 C115.2,1208.3 116.3,1212.4 115.2,1213.8 C114.2,1215.2 109.1,1216.5 107.0,1215.9 C104.9,1215.2 101.8,1211.1 102.9,1209.7 Z" fill="#ff0a0a"/>
<path d="M81.3,1234.4 C83.2,1231.0 89.3,1231.0 92.6,1230.3 C95.8,1229.6 98.1,1229.2 100.8,1230.3 C103.6,1231.3 107.0,1233.7 109.1,1236.4 C111.1,1239.2 112.1,1243.3 113.2,1246.7 C114.2,1250.2 115.9,1254.3 115.2,1257.0 C114.5,1259.8 112.1,1262.2 109.1,1263.2 C106.0,1264.2 100.8,1263.5 96.7,1263.2 C92.6,1262.9 86.9,1263.2 84.4,1261.1 C81.8,1259.1 81.8,1255.3 81.3,1250.8 C80.7,1246.4 79.4,1237.8 81.3,1234.4 Z" fill="#ff0a0a"/>
<path d="M166.7,1224.1 C168.1,1222.4 175.6,1223.7 179.0,1224.1 C182.5,1224.4 185.9,1223.1 187.3,1226.1 C188.6,1229.2 188.6,1238.5 187.3,1242.6 C185.9,1246.7 179.4,1247.8 179.0,1250.8 C178.7,1253.9 183.8,1257.7 185.2,1261.1 C186.6,1264.6 188.3,1269.4 187.3,1271.4 C186.2,1273.5 182.1,1274.2 179.0,1273.5 C176.0,1272.8 171.2,1269.7 168.7,1267.3 C166.3,1264.9 164.6,1262.5 164.6,1259.1 C164.6,1255.7 167.7,1250.8 168.7,1246.7 C169.8,1242.6 171.2,1238.2 170.8,1234.4 C170.5,1230.6 165.3,1225.8 166.7,1224.1 Z" fill="#ff0a0a"/>
<path d="M88.5,1296.1 C91.2,1293.0 96.7,1292.0 100.8,1292.0 C104.9,1292.0 110.8,1293.4 113.2,1296.1 C115.6,1298.9 115.9,1304.7 115.2,1308.5 C114.5,1312.3 109.7,1314.7 109.1,1318.8 C108.4,1322.9 112.5,1330.1 111.1,1333.2 C109.7,1336.3 103.9,1337.3 100.8,1337.3 C97.7,1337.3 94.3,1336.6 92.6,1333.2 C90.9,1329.8 91.9,1320.5 90.5,1316.7 C89.2,1312.9 84.7,1314.0 84.4,1310.5 C84.0,1307.1 85.7,1299.2 88.5,1296.1 Z" fill="#ff0a0a"/>
<path d="M119.3,1292.0 C120.4,1290.0 126.2,1289.6 129.6,1290.0 C133.1,1290.3 137.5,1292.0 139.9,1294.1 C142.3,1296.1 145.1,1300.6 144.0,1302.3 C143.0,1304.0 137.2,1304.4 133.8,1304.4 C130.3,1304.4 125.9,1304.4 123.5,1302.3 C121.1,1300.3 118.3,1294.1 119.3,1292.0 Z" fill="#ff0a0a"/>
<path d="M209.9,1296.1 C211.6,1294.8 220.2,1293.4 222.3,1294.1 C224.3,1294.8 224.0,1298.9 222.3,1300.3 C220.6,1301.6 214.0,1303.0 212.0,1302.3 C209.9,1301.6 208.2,1297.5 209.9,1296.1 Z" fill="#ff0a0a"/>
<path d="M230.5,1304.4 C231.9,1303.3 238.4,1303.7 240.8,1304.4 C243.2,1305.1 245.6,1307.1 244.9,1308.5 C244.2,1309.9 238.7,1312.3 236.7,1312.6 C234.6,1312.9 233.6,1311.9 232.6,1310.5 C231.5,1309.2 229.1,1305.4 230.5,1304.4 Z" fill="#ff0a0a"/>
<path d="M154.3,1325.0 C155.7,1323.8 162.9,1322.2 164.6,1322.9 C166.3,1323.6 166.0,1327.9 164.6,1329.1 C163.3,1330.3 158.1,1330.8 156.4,1330.1 C154.7,1329.4 153.0,1326.2 154.3,1325.0 Z" fill="#ff0a0a"/>
<path d="M267.6,1102.6 C268.8,1102.1 273.0,1103.7 273.7,1104.7 C274.4,1105.7 272.9,1108.3 271.7,1108.8 C270.5,1109.3 267.2,1108.8 266.5,1107.8 C265.8,1106.8 266.4,1103.2 267.6,1102.6 Z" fill="#f45c5c"/>
<path d="M284.0,1080.0 C285.1,1079.1 289.5,1079.0 290.2,1080.0 C290.9,1081.0 289.2,1085.3 288.1,1086.2 C287.1,1087.0 284.7,1086.2 284.0,1085.1 C283.3,1084.1 283.0,1080.9 284.0,1080.0 Z" fill="#f45c5c"/>
<path d="M121.4,1263.2 C122.8,1261.5 129.6,1260.1 131.7,1261.1 C133.8,1262.2 135.1,1267.7 133.8,1269.4 C132.4,1271.1 125.5,1272.5 123.5,1271.4 C121.4,1270.4 120.0,1264.9 121.4,1263.2 Z" fill="#ff0a0a"/>
<path d="M117.3,1246.7 C118.3,1245.4 123.8,1244.0 125.5,1244.7 C127.2,1245.4 128.6,1249.5 127.6,1250.8 C126.6,1252.2 121.1,1253.6 119.3,1252.9 C117.6,1252.2 116.3,1248.1 117.3,1246.7 Z" fill="#ff0a0a"/>
<path d="M330.7,991.8 C320.4,994.1 321.6,999.3 317.8,1003.8 C314.0,1008.3 310.8,1013.4 307.8,1018.8 C304.8,1024.1 301.7,1030.3 299.9,1035.8 C298.0,1041.3 296.9,1046.8 296.9,1051.7 C296.9,1056.7 298.0,1060.7 299.9,1065.7 C301.7,1070.7 305.2,1076.4 307.8,1081.7 C310.5,1087.1 312.1,1093.0 315.8,1097.7 C319.4,1102.4 324.9,1107.0 329.7,1109.7 C334.5,1112.4 336.4,1113.0 344.7,1113.7 C353.0,1114.4 373.7,1134.3 379.5,1113.7 C385.3,1093.0 387.6,1010.1 379.5,989.8 C371.4,969.5 341.0,989.5 330.7,991.8 Z" fill="url(#bayD)"/>
<polygon points="328.7,1105.7 334.7,1113.7 344.7,1128.7 352.6,1143.7 356.6,1159.7 359.6,1177.6 359.6,1198.6 358.6,1218.6 354.6,1235.6 348.6,1253.6 340.7,1269.6 335.7,1284.6 330.7,1299.5 333.7,1313.5 389.5,1313.5 389.5,1103.7" fill="#5a5af8"/>
<path d="M361.6,758.0 C366.4,752.5 381.5,752.3 381.5,758.0 C381.5,763.7 366.6,782.3 361.6,792.0 C356.6,801.6 353.8,808.6 351.6,815.9 C349.5,823.3 350.8,832.8 348.6,835.9 C346.5,839.1 339.3,838.6 338.7,834.9 C338.0,831.3 342.3,821.3 344.7,813.9 C347.0,806.6 349.8,800.3 352.6,791.0 C355.4,781.6 356.8,763.5 361.6,758.0 Z" fill="#aab0fb"/>
</g>
<clipPath id="clipD"><rect x="73.6" y="752.5" width="370.5" height="593.0"/></clipPath>
<clipPath id="landD"><polygon points="392.4,744.0 390.4,760.0 385.5,772.7 379.3,783.0 373.1,791.2 371.0,797.4 367.0,805.7 361.8,813.9 355.6,819.9 358.6,825.9 352.6,833.5 347.4,838.6 344.4,848.9 340.2,859.3 334.0,871.7 325.7,879.9 317.6,883.9 311.6,888.2 307.3,895.4 303.0,908.3 298.8,918.4 297.3,926.9 295.9,941.3 294.4,952.8 293.0,964.3 291.6,975.8 290.1,984.4 291.6,990.1 293.0,993.0 294.4,984.4 295.9,975.8 298.8,970.0 301.6,965.7 305.8,971.4 310.1,981.5 315.9,990.1 321.6,997.3 327.3,1003.1 330.2,1004.8 332.7,1000.8 335.9,1003.1 341.7,1013.1 347.3,1021.7 353.0,1030.4 355.9,1036.1 353.0,1044.7 351.6,1056.1 350.2,1064.7 348.7,1073.4 344.5,1084.8 338.2,1093.3 331.7,1097.4 335.7,1105.7 342.3,1111.7 352.6,1126.3 360.6,1142.7 364.6,1159.4 367.0,1177.6 367.0,1198.6 366.0,1219.1 362.6,1235.6 357.0,1253.6 348.8,1270.0 343.2,1284.8 338.3,1299.5 334.2,1315.0 332.5,1327.4 332.9,1338.9 332.7,1353.5 459.1,1353.5 459.1,744.0"/></clipPath>
<polygon clip-path="url(#clipD)" points="392.4,744.0 390.4,760.0 385.5,772.7 379.3,783.0 373.1,791.2 371.0,797.4 367.0,805.7 361.8,813.9 355.6,819.9 358.6,825.9 352.6,833.5 347.4,838.6 344.4,848.9 340.2,859.3 334.0,871.7 325.7,879.9 317.6,883.9 311.6,888.2 307.3,895.4 303.0,908.3 298.8,918.4 297.3,926.9 295.9,941.3 294.4,952.8 293.0,964.3 291.6,975.8 290.1,984.4 291.6,990.1 293.0,993.0 294.4,984.4 295.9,975.8 298.8,970.0 301.6,965.7 305.8,971.4 310.1,981.5 315.9,990.1 321.6,997.3 327.3,1003.1 330.2,1004.8 332.7,1000.8 335.9,1003.1 341.7,1013.1 347.3,1021.7 353.0,1030.4 355.9,1036.1 353.0,1044.7 351.6,1056.1 350.2,1064.7 348.7,1073.4 344.5,1084.8 338.2,1093.3 331.7,1097.4 335.7,1105.7 342.3,1111.7 352.6,1126.3 360.6,1142.7 364.6,1159.4 367.0,1177.6 367.0,1198.6 366.0,1219.1 362.6,1235.6 357.0,1253.6 348.8,1270.0 343.2,1284.8 338.3,1299.5 334.2,1315.0 332.5,1327.4 332.9,1338.9 332.7,1353.5 459.1,1353.5 459.1,744.0" fill="#808080" stroke="#3a3a3a" stroke-width="0.8"/>
<line x1="370.0" y1="760.5" x2="370.0" y2="1337.5" stroke="#747474" stroke-width="1"/>
<line clip-path="url(#landD)" x1="81.6" y1="900.8" x2="436.1" y2="900.8" stroke="#747474" stroke-width="1"/>
<line clip-path="url(#landD)" x1="81.6" y1="1049.0" x2="436.1" y2="1049.0" stroke="#747474" stroke-width="1"/>
<line clip-path="url(#landD)" x1="81.6" y1="1197.2" x2="436.1" y2="1197.2" stroke="#747474" stroke-width="1"/>
<polyline points="335.0,1341.5 335.0,1331.5 339.1,1324.9 343.2,1315.9 345.7,1310.9 350.5,1306.8 357.0,1306.0 362.0,1307.7 366.9,1310.1 371.7,1308.5 378.3,1306.8 384.9,1307.7 389.7,1306.0 396.2,1303.6 402.8,1304.4 407.7,1301.9 414.2,1303.6 422.4,1302.7 430.6,1301.1 439.2,1300.3" fill="none" stroke="#2a2a2a" stroke-width="2.4" stroke-linejoin="round"/>
<polyline points="335.0,1341.5 335.0,1331.5 339.1,1324.9 343.2,1315.9 345.7,1310.9 350.5,1306.8 357.0,1306.0 362.0,1307.7 366.9,1310.1 371.7,1308.5 378.3,1306.8 384.9,1307.7 389.7,1306.0 396.2,1303.6 402.8,1304.4 407.7,1301.9 414.2,1303.6 422.4,1302.7 430.6,1301.1 439.2,1300.3" fill="none" stroke="#c8c8c8" stroke-width="1.1" stroke-linejoin="round"/>
<polygon points="411.8,1287.0 419.3,1282.6 427.3,1279.1 431.8,1276.8 432.3,1278.4 427.3,1281.6 419.3,1285.6 412.8,1288.5" fill="#d8d8d8" stroke="#2a2a2a" stroke-width="0.8"/>
<polygon points="373.5,1337.0 377.5,1329.5 381.5,1323.5 386.0,1318.0 387.5,1319.0 384.5,1325.5 379.5,1332.5 375.0,1338.0" fill="#d8d8d8" stroke="#2a2a2a" stroke-width="0.8"/>
<path d="M73.6,752.5 h370.5 v593.0 h-370.5 z M80.6,759.5 v579.0 h356.5 v-579.0 z" fill="#000" fill-rule="evenodd"/>
<rect x="74.8" y="753.7" width="36.8" height="5.4" fill="#fff"/>
<rect x="148.4" y="753.7" width="36.8" height="5.4" fill="#fff"/>
<rect x="222.0" y="753.7" width="36.8" height="5.4" fill="#fff"/>
<rect x="295.7" y="753.7" width="36.8" height="5.4" fill="#fff"/>
<rect x="369.3" y="753.7" width="36.8" height="5.4" fill="#fff"/>
<rect x="111.6" y="1338.9" width="36.8" height="5.4" fill="#fff"/>
<rect x="185.2" y="1338.9" width="36.8" height="5.4" fill="#fff"/>
<rect x="258.9" y="1338.9" width="36.8" height="5.4" fill="#fff"/>
<rect x="332.5" y="1338.9" width="36.8" height="5.4" fill="#fff"/>
<rect x="406.1" y="1338.9" width="36.8" height="5.4" fill="#fff"/>
<rect x="74.8" y="753.7" width="5.4" height="73.8" fill="#fff"/>
<rect x="74.8" y="901.4" width="5.4" height="73.8" fill="#fff"/>
<rect x="74.8" y="1049.0" width="5.4" height="73.8" fill="#fff"/>
<rect x="74.8" y="1196.7" width="5.4" height="73.8" fill="#fff"/>
<rect x="437.5" y="827.5" width="5.4" height="73.8" fill="#fff"/>
<rect x="437.5" y="975.2" width="5.4" height="73.8" fill="#fff"/>
<rect x="437.5" y="1122.8" width="5.4" height="73.8" fill="#fff"/>
<rect x="437.5" y="1270.5" width="5.4" height="73.8" fill="#fff"/>
<line x1="74.8" y1="753.7" x2="80.6" y2="759.5" stroke="#000" stroke-width="0.8"/>
<line x1="442.9" y1="1344.3" x2="437.1" y2="1338.5" stroke="#000" stroke-width="0.8"/>
<rect x="74.2" y="753.1" width="369.3" height="591.8" fill="none" stroke="#000" stroke-width="1.2"/>
<text x="67.1" y="762.5" text-anchor="end" class="tk">24°N</text>
<text x="67.1" y="910.8" text-anchor="end" class="tk">22°N</text>
<text x="67.1" y="1059.0" text-anchor="end" class="tk">20°N</text>
<text x="67.1" y="1207.2" text-anchor="end" class="tk">18°N</text>
<text x="67.1" y="1355.5" text-anchor="end" class="tk">16°N</text>
<text x="149.7" y="1371.0" text-anchor="middle" class="tk">19°W</text>
<text x="297.9" y="1371.0" text-anchor="middle" class="tk">17°W</text>
<text x="446.1" y="1371.0" text-anchor="middle" class="tk">15°W</text>
<rect x="549.2" y="752.5" width="364.6" height="593.0" fill="#000"/>
<clipPath id="iclipE"><rect x="549.2" y="752.5" width="364.6" height="593.0"/></clipPath>
<g clip-path="url(#iclipE)">
<polygon points="549.0,752.0 914.0,752.0 914.0,1050.0 549.0,1050.0" fill="#ff0c0c"/>
<path d="M557.2,760.2 C561.6,711.9 577.2,756.4 583.6,760.2 C590.1,763.9 593.2,773.7 595.9,782.6 C598.6,791.4 598.9,802.9 599.9,813.1 C601.0,823.3 600.3,833.5 602.0,843.7 C603.7,853.9 610.1,865.8 610.1,874.3 C610.1,882.8 605.4,887.9 602.0,894.7 C598.6,901.5 594.5,904.8 589.8,915.0 C585.0,925.2 575.2,945.6 573.5,955.8 C571.8,966.0 575.2,969.4 579.6,976.2 C584.0,983.0 592.1,991.5 599.9,996.6 C607.8,1001.7 621.3,997.8 626.4,1006.7 C631.5,1015.6 642.1,1042.8 630.5,1050.0 C619.0,1057.2 569.4,1098.3 557.2,1050.0 C544.9,1001.7 552.7,808.5 557.2,760.2 Z" fill="#f47272"/>
<path d="M557.2,853.9 C559.2,845.7 568.0,847.8 573.5,849.8 C578.9,851.9 585.7,858.7 589.8,866.1 C593.8,873.6 599.3,887.9 597.9,894.7 C596.6,901.5 587.7,906.2 581.6,906.9 C575.5,907.6 565.3,907.6 561.2,898.7 C557.2,889.9 555.1,862.1 557.2,853.9 Z" fill="#f75050"/>
<path d="M583.6,752.0 C629.2,750.0 814.6,750.6 858.8,752.0 C902.9,753.4 852.7,755.7 848.6,760.2 C844.5,764.6 838.4,771.4 834.3,778.5 C830.2,785.6 827.5,795.5 824.1,802.9 C820.7,810.4 817.3,817.6 813.9,823.3 C810.5,829.1 807.1,837.6 803.7,837.6 C800.3,837.6 797.6,826.4 793.6,823.3 C789.5,820.3 784.4,817.6 779.3,819.3 C774.2,821.0 768.1,830.1 763.0,833.5 C757.9,836.9 752.1,836.9 748.7,839.6 C745.3,842.3 746.0,846.8 742.6,849.8 C739.2,852.9 732.8,856.6 728.3,858.0 C723.9,859.3 720.2,858.7 716.1,858.0 C712.0,857.3 707.3,855.9 703.9,853.9 C700.5,851.9 697.8,849.1 695.7,845.7 C693.7,842.3 691.7,837.9 691.7,833.5 C691.7,829.1 697.4,821.6 695.7,819.3 C694.0,816.9 686.9,819.6 681.5,819.3 C676.0,818.9 668.2,818.2 663.1,817.2 C658.0,816.2 653.6,811.8 650.9,813.1 C648.2,814.5 649.5,821.3 646.8,825.4 C644.1,829.4 638.7,834.5 634.6,837.6 C630.5,840.7 626.4,843.4 622.4,843.7 C618.3,844.0 613.5,842.7 610.1,839.6 C606.7,836.6 603.7,831.5 602.0,825.4 C600.3,819.3 601.3,810.1 599.9,802.9 C598.6,795.8 596.2,789.0 593.8,782.6 C591.5,776.1 587.4,769.3 585.7,764.2 C584.0,759.1 538.1,754.0 583.6,752.0 Z" fill="#000"/>
<path d="M803.7,837.6 C807.1,832.5 810.5,829.1 813.9,823.3 C817.3,817.6 820.7,810.4 824.1,802.9 C827.5,795.5 830.2,785.6 834.3,778.5 C838.4,771.4 844.5,764.6 848.6,760.2 C852.7,755.7 847.9,753.4 858.8,752.0 C869.7,750.6 904.8,702.3 914.0,752.0 C923.2,801.7 939.2,1000.3 914.0,1050.0 C888.8,1099.6 787.8,1055.5 763.0,1050.0 C738.2,1044.4 764.0,1027.5 765.0,1016.9 C766.0,1006.3 769.4,994.9 769.1,986.4 C768.8,977.9 764.7,972.8 763.0,966.0 C761.3,959.2 759.6,952.4 758.9,945.6 C758.2,938.8 758.2,931.7 758.9,925.2 C759.6,918.8 760.6,912.0 763.0,906.9 C765.4,901.8 769.8,898.7 773.2,894.7 C776.6,890.6 780.6,886.5 783.4,882.4 C786.1,878.4 787.8,875.0 789.5,870.2 C791.2,865.4 791.2,859.3 793.6,853.9 C795.9,848.5 800.3,842.7 803.7,837.6 Z" fill="#000"/>
<path d="M689.6,858.0 C692.3,855.9 700.8,855.3 703.9,858.0 C706.9,860.7 708.6,868.8 708.0,874.3 C707.3,879.7 702.9,889.2 699.8,890.6 C696.8,891.9 691.7,885.8 689.6,882.4 C687.6,879.0 687.6,874.3 687.6,870.2 C687.6,866.1 686.9,860.0 689.6,858.0 Z" fill="#000"/>
<path d="M636.6,900.8 C639.7,896.4 650.2,897.0 655.0,898.7 C659.7,900.4 663.8,905.5 665.2,911.0 C666.5,916.4 666.2,927.3 663.1,931.3 C660.1,935.4 651.2,936.4 646.8,935.4 C642.4,934.4 638.3,931.0 636.6,925.2 C634.9,919.5 633.6,905.2 636.6,900.8 Z" fill="#000"/>
<path d="M599.9,894.7 C602.7,889.9 611.8,889.9 616.3,890.6 C620.7,891.3 625.4,894.7 626.4,898.7 C627.5,902.8 625.1,910.6 622.4,915.0 C619.6,919.5 613.9,924.5 610.1,925.2 C606.4,925.9 601.6,924.2 599.9,919.1 C598.3,914.0 597.2,899.4 599.9,894.7 Z" fill="#000"/>
<path d="M626.4,966.0 C629.5,960.9 634.6,956.8 640.7,955.8 C646.8,954.8 656.7,956.5 663.1,959.9 C669.6,963.3 676.0,970.1 679.4,976.2 C682.8,982.3 681.5,989.8 683.5,996.6 C685.5,1003.3 688.3,1010.8 691.7,1016.9 C695.1,1023.0 700.5,1027.7 703.9,1033.2 C707.3,1038.7 724.3,1047.2 712.0,1050.0 C699.8,1052.7 643.4,1053.8 630.5,1050.0 C617.6,1046.1 634.9,1034.3 634.6,1027.1 C634.3,1019.9 630.5,1013.5 628.5,1006.7 C626.4,1000.0 622.7,993.2 622.4,986.4 C622.0,979.6 623.4,971.1 626.4,966.0 Z" fill="#000"/>
<path d="M712.0,894.7 C717.1,891.9 745.0,891.9 752.8,894.7 C760.6,897.4 760.3,907.6 758.9,911.0 C757.6,914.4 749.1,914.4 744.6,915.0 C740.2,915.7 736.2,915.7 732.4,915.0 C728.7,914.4 725.6,914.4 722.2,911.0 C718.8,907.6 706.9,897.4 712.0,894.7 Z" fill="#000"/>
<path d="M559.2,931.3 C561.6,926.9 569.7,926.9 573.5,929.3 C577.2,931.7 582.3,941.2 581.6,945.6 C580.9,950.0 573.1,954.1 569.4,955.8 C565.6,957.5 560.9,959.9 559.2,955.8 C557.5,951.7 556.8,935.8 559.2,931.3 Z" fill="#000"/>
<path d="M589.8,955.8 C592.8,953.4 602.7,949.7 606.1,951.7 C609.5,953.8 611.5,964.6 610.1,968.0 C608.8,971.4 601.6,972.4 597.9,972.1 C594.2,971.8 589.1,968.7 587.7,966.0 C586.4,963.3 586.7,958.2 589.8,955.8 Z" fill="#000"/>
<path d="M663.1,845.7 C665.2,843.0 675.4,841.0 679.4,841.7 C683.5,842.3 687.6,847.1 687.6,849.8 C687.6,852.5 682.8,856.6 679.4,858.0 C676.0,859.3 669.9,860.0 667.2,858.0 C664.5,855.9 661.1,848.5 663.1,845.7 Z" fill="#000"/>
<path d="M728.3,939.5 C730.7,936.8 739.2,934.1 742.6,935.4 C746.0,936.8 749.4,944.2 748.7,947.6 C748.0,951.0 741.9,955.1 738.5,955.8 C735.1,956.5 730.0,954.4 728.3,951.7 C726.6,949.0 726.0,942.2 728.3,939.5 Z" fill="#000"/>
<path d="M675.4,955.8 C676.7,953.1 688.3,950.4 691.7,951.7 C695.1,953.1 697.1,961.2 695.7,963.9 C694.4,966.7 686.9,969.4 683.5,968.0 C680.1,966.7 674.0,958.5 675.4,955.8 Z" fill="#000"/>
<path d="M567.3,776.5 C569.0,773.7 577.5,772.4 579.6,774.4 C581.6,776.5 581.3,786.0 579.6,788.7 C577.9,791.4 571.4,792.8 569.4,790.7 C567.3,788.7 565.6,779.2 567.3,776.5 Z" fill="#000"/>
<path d="M610.1,845.7 C612.9,842.0 622.4,841.7 626.4,843.7 C630.5,845.7 635.3,853.6 634.6,858.0 C633.9,862.4 626.4,868.8 622.4,870.2 C618.3,871.6 612.2,870.2 610.1,866.1 C608.1,862.1 607.4,849.5 610.1,845.7 Z" fill="#000"/>
<path d="M650.9,829.4 C651.2,826.4 659.7,824.0 663.1,825.4 C666.5,826.7 671.6,834.5 671.3,837.6 C670.9,840.7 664.5,845.1 661.1,843.7 C657.7,842.3 650.6,832.5 650.9,829.4 Z" fill="#000"/>
<path d="M675.4,866.1 C677.7,863.7 684.9,860.7 687.6,862.1 C690.3,863.4 692.7,870.9 691.7,874.3 C690.6,877.7 684.5,882.1 681.5,882.4 C678.4,882.8 674.3,879.0 673.3,876.3 C672.3,873.6 673.0,868.5 675.4,866.1 Z" fill="#000"/>
<path d="M691.7,882.4 C692.3,880.4 700.5,884.5 703.9,886.5 C707.3,888.5 712.7,892.6 712.0,894.7 C711.4,896.7 703.2,900.8 699.8,898.7 C696.4,896.7 691.0,884.5 691.7,882.4 Z" fill="#000"/>
<path d="M616.3,874.3 C618.0,871.9 627.8,870.5 630.5,872.2 C633.2,873.9 634.3,882.1 632.6,884.5 C630.9,886.8 623.0,888.2 620.3,886.5 C617.6,884.8 614.6,876.7 616.3,874.3 Z" fill="#000"/>
<path d="M663.1,943.6 C665.8,941.5 676.0,938.1 679.4,939.5 C682.8,940.9 684.9,949.0 683.5,951.7 C682.1,954.4 674.7,955.8 671.3,955.8 C667.9,955.8 664.5,953.8 663.1,951.7 C661.8,949.7 660.4,945.6 663.1,943.6 Z" fill="#000"/>
<path d="M699.8,951.7 C700.8,948.7 709.0,946.3 712.0,947.6 C715.1,949.0 719.2,956.8 718.2,959.9 C717.1,962.9 709.0,967.3 705.9,966.0 C702.9,964.6 698.8,954.8 699.8,951.7 Z" fill="#000"/>
<path d="M732.4,966.0 C733.8,963.3 741.9,962.3 744.6,963.9 C747.4,965.6 750.1,973.5 748.7,976.2 C747.4,978.9 739.2,982.0 736.5,980.3 C733.8,978.6 731.1,968.7 732.4,966.0 Z" fill="#000"/>
<path d="M716.1,986.4 C717.8,984.0 726.0,986.0 728.3,988.4 C730.7,990.8 732.1,998.3 730.4,1000.6 C728.7,1003.0 720.5,1005.0 718.2,1002.7 C715.8,1000.3 714.4,988.7 716.1,986.4 Z" fill="#000"/>
<path d="M740.6,1006.7 C742.3,1003.7 750.4,1002.3 752.8,1004.7 C755.2,1007.1 756.5,1018.0 754.8,1021.0 C753.1,1024.1 745.0,1025.4 742.6,1023.0 C740.2,1020.7 738.9,1009.8 740.6,1006.7 Z" fill="#000"/>
<path d="M703.9,980.3 C705.2,978.9 710.7,978.9 712.0,980.3 C713.4,981.6 713.4,987.0 712.0,988.4 C710.7,989.8 705.2,989.8 703.9,988.4 C702.5,987.0 702.5,981.6 703.9,980.3 Z" fill="#000"/>
<path d="M644.8,866.1 C646.1,864.1 652.9,862.7 655.0,864.1 C657.0,865.4 658.4,872.2 657.0,874.3 C655.7,876.3 648.9,877.7 646.8,876.3 C644.8,875.0 643.4,868.2 644.8,866.1 Z" fill="#000"/>
<path d="M597.9,837.6 C606.4,835.9 625.8,838.6 634.6,839.6 C643.4,840.7 647.5,840.7 650.9,843.7 C654.3,846.8 657.7,854.2 655.0,858.0 C652.3,861.7 642.1,864.8 634.6,866.1 C627.1,867.5 617.6,866.8 610.1,866.1 C602.7,865.4 594.2,864.8 589.8,862.1 C585.3,859.3 582.3,853.9 583.6,849.8 C585.0,845.7 589.4,839.3 597.9,837.6 Z" fill="#000"/>
<path d="M675.4,894.7 C681.1,890.9 702.2,891.9 712.0,892.6 C721.9,893.3 730.7,893.0 734.5,898.7 C738.2,904.5 738.2,921.8 734.5,927.3 C730.7,932.7 719.2,931.3 712.0,931.3 C704.9,931.3 697.4,930.0 691.7,927.3 C685.9,924.5 680.1,920.5 677.4,915.0 C674.7,909.6 669.6,898.4 675.4,894.7 Z" fill="#000"/>
<path d="M557.2,980.3 C559.9,976.9 567.7,977.5 573.5,978.2 C579.2,978.9 589.1,980.6 591.8,984.3 C594.5,988.1 593.5,997.6 589.8,1000.6 C586.0,1003.7 574.8,1003.0 569.4,1002.7 C563.9,1002.3 559.2,1002.3 557.2,998.6 C555.1,994.9 554.4,983.6 557.2,980.3 Z" fill="#000"/>
<path d="M716.1,792.8 C717.5,790.2 725.3,782.2 728.3,780.5 C731.4,778.8 734.1,780.9 734.5,782.6 C734.8,784.3 732.8,788.5 730.4,790.7 C728.0,792.9 722.6,795.5 720.2,795.8 C717.8,796.2 714.8,795.3 716.1,792.8 Z" fill="#ff0c0c"/>
<path d="M756.9,774.4 C756.9,772.4 762.3,769.7 765.0,770.3 C767.7,771.0 773.2,776.5 773.2,778.5 C773.2,780.5 767.7,783.2 765.0,782.6 C762.3,781.9 756.9,776.5 756.9,774.4 Z" fill="#f59a9a"/>
<path d="M744.6,813.1 C747.0,811.4 758.9,806.7 760.9,807.0 C763.0,807.4 759.3,813.5 756.9,815.2 C754.5,816.9 748.7,817.6 746.7,817.2 C744.6,816.9 742.3,814.8 744.6,813.1 Z" fill="#ff0c0c"/>
<path d="M691.7,833.5 C693.7,831.5 701.2,830.5 703.9,831.5 C706.6,832.5 708.6,837.3 708.0,839.6 C707.3,842.0 702.5,845.1 699.8,845.7 C697.1,846.4 693.0,845.7 691.7,843.7 C690.3,841.7 689.6,835.6 691.7,833.5 Z" fill="#f59090"/>
<path d="M655.0,802.9 C657.4,800.6 665.2,798.9 671.3,798.9 C677.4,798.9 684.9,801.9 691.7,802.9 C698.5,804.0 706.6,803.3 712.0,805.0 C717.5,806.7 724.9,810.8 724.3,813.1 C723.6,815.5 713.4,818.6 708.0,819.3 C702.5,819.9 697.8,817.6 691.7,817.2 C685.5,816.9 677.1,817.9 671.3,817.2 C665.5,816.5 659.7,815.5 657.0,813.1 C654.3,810.8 652.6,805.3 655.0,802.9 Z" fill="#f36a6a"/>
<circle cx="571.4" cy="788.7" r="2.4" fill="#000"/>
<circle cx="581.6" cy="807.0" r="1.6" fill="#000"/>
<circle cx="565.3" cy="841.7" r="1.6" fill="#000"/>
<circle cx="589.8" cy="862.1" r="2.0" fill="#000"/>
<circle cx="616.3" cy="866.1" r="2.4" fill="#000"/>
<circle cx="634.6" cy="878.4" r="2.4" fill="#000"/>
<circle cx="663.1" cy="866.1" r="2.4" fill="#000"/>
<circle cx="646.8" cy="884.5" r="2.4" fill="#000"/>
<circle cx="675.4" cy="894.7" r="2.0" fill="#000"/>
<circle cx="691.7" cy="911.0" r="2.4" fill="#000"/>
<circle cx="703.9" cy="927.3" r="2.0" fill="#000"/>
<circle cx="722.2" cy="931.3" r="2.4" fill="#000"/>
<circle cx="671.3" cy="935.4" r="2.0" fill="#000"/>
<circle cx="610.1" cy="947.6" r="2.4" fill="#000"/>
<circle cx="579.6" cy="996.6" r="2.4" fill="#000"/>
<circle cx="599.9" cy="1016.9" r="2.4" fill="#000"/>
<circle cx="732.4" cy="986.4" r="2.4" fill="#000"/>
<circle cx="716.1" cy="1006.7" r="2.4" fill="#000"/>
<polygon points="549.2,1048.8 558.8,1043.4 568.4,1053.3 578.0,1060.0 587.6,1049.7 597.2,1044.0 606.8,1051.7 616.4,1050.6 626.0,1039.4 635.6,1042.1 645.1,1054.3 654.7,1052.5 664.3,1045.6 673.9,1053.0 683.5,1059.2 693.1,1048.5 702.7,1040.9 712.3,1048.7 721.9,1050.5 731.5,1041.0 741.1,1043.5 750.7,1056.5 760.3,1055.5 769.9,1046.5 779.5,1050.9 789.1,1057.0 798.7,1046.9 808.3,1038.6 817.9,1047.1 827.4,1052.1 837.0,1044.1 846.6,1045.4 856.2,1057.9 865.8,1057.1 875.4,1045.9 885.0,1047.7 894.6,1054.2 904.2,1045.9 913.8,1037.8 913.8,1079.0 549.2,1079.0" fill="#000"/>
<polygon points="549.0,1065.6 914.0,1065.6 914.0,1346.0 549.0,1346.0" fill="#000"/>
<path d="M594.3,1045.0 C601.8,1044.0 632.4,1043.6 639.6,1045.0 C646.8,1046.4 640.6,1051.5 637.5,1053.2 C634.4,1055.0 626.9,1055.1 621.1,1055.3 C615.2,1055.5 607.0,1055.0 602.5,1054.3 C598.1,1053.6 595.7,1052.7 594.3,1051.2 C592.9,1049.6 586.7,1046.0 594.3,1045.0 Z" fill="#f36a6a"/>
<path d="M625.2,1098.5 C626.4,1097.7 632.4,1097.5 633.4,1098.5 C634.4,1099.6 632.5,1103.8 631.3,1104.7 C630.1,1105.6 627.2,1104.7 626.2,1103.7 C625.2,1102.6 624.0,1099.4 625.2,1098.5 Z" fill="#ff0c0c"/>
<path d="M621.1,1119.1 C622.8,1118.1 628.3,1119.1 631.3,1121.2 C634.4,1123.2 636.5,1128.4 639.6,1131.5 C642.7,1134.6 647.8,1136.3 649.9,1139.7 C651.9,1143.1 653.0,1148.6 651.9,1152.1 C650.9,1155.5 646.4,1159.3 643.7,1160.3 C641.0,1161.3 637.9,1160.3 635.5,1158.2 C633.1,1156.2 630.7,1151.7 629.3,1147.9 C627.9,1144.2 628.6,1139.0 627.2,1135.6 C625.9,1132.1 622.1,1130.1 621.1,1127.3 C620.0,1124.6 619.3,1120.1 621.1,1119.1 Z" fill="#ff0c0c"/>
<path d="M668.4,1160.3 C669.8,1158.2 673.9,1163.0 676.6,1164.4 C679.4,1165.8 682.8,1166.1 684.9,1168.5 C686.9,1170.9 689.3,1175.4 689.0,1178.8 C688.6,1182.2 685.6,1187.7 682.8,1189.1 C680.1,1190.5 674.9,1189.1 672.5,1187.0 C670.1,1185.0 669.1,1181.2 668.4,1176.8 C667.7,1172.3 667.0,1162.3 668.4,1160.3 Z" fill="#ff0c0c"/>
<path d="M643.7,1172.6 C645.6,1172.0 653.0,1173.0 656.1,1174.7 C659.1,1176.4 662.9,1181.6 662.2,1182.9 C661.5,1184.3 654.8,1183.6 651.9,1182.9 C649.0,1182.2 646.1,1180.5 644.7,1178.8 C643.4,1177.1 641.8,1173.3 643.7,1172.6 Z" fill="#f45050"/>
<path d="M567.5,1185.0 C569.9,1183.6 578.9,1183.6 581.9,1185.0 C585.0,1186.4 587.1,1191.2 586.1,1193.2 C585.0,1195.3 578.9,1197.3 575.8,1197.3 C572.7,1197.3 568.9,1195.3 567.5,1193.2 C566.2,1191.2 565.1,1186.4 567.5,1185.0 Z" fill="#ff0c0c"/>
<path d="M660.2,1201.5 C660.5,1199.7 666.3,1200.1 668.4,1201.5 C670.5,1202.8 672.9,1208.0 672.5,1209.7 C672.2,1211.4 668.4,1213.1 666.3,1211.8 C664.3,1210.4 659.8,1203.2 660.2,1201.5 Z" fill="#ff0c0c"/>
<path d="M558.3,1234.4 C560.2,1231.3 566.0,1231.3 569.6,1232.3 C573.2,1233.4 576.4,1238.9 579.9,1240.6 C583.3,1242.3 587.8,1239.2 590.2,1242.6 C592.6,1246.1 595.0,1257.0 594.3,1261.2 C593.6,1265.3 589.5,1266.6 586.1,1267.3 C582.6,1268.0 577.8,1266.0 573.7,1265.3 C569.6,1264.6 563.9,1265.6 561.4,1263.2 C558.8,1260.8 558.8,1255.7 558.3,1250.9 C557.7,1246.1 556.4,1237.5 558.3,1234.4 Z" fill="#ff0c0c"/>
<path d="M645.8,1226.2 C649.2,1223.4 659.8,1224.1 662.2,1226.2 C664.6,1228.2 661.5,1234.4 660.2,1238.5 C658.8,1242.6 656.4,1248.8 654.0,1250.9 C651.6,1252.9 647.8,1252.2 645.8,1250.9 C643.7,1249.5 641.6,1246.7 641.6,1242.6 C641.6,1238.5 642.3,1228.9 645.8,1226.2 Z" fill="#ff0c0c"/>
<path d="M680.8,1263.2 C682.3,1262.0 689.7,1262.2 691.0,1263.2 C692.4,1264.2 690.5,1268.2 689.0,1269.4 C687.4,1270.6 683.2,1271.5 681.8,1270.4 C680.4,1269.4 679.2,1264.4 680.8,1263.2 Z" fill="#ff0c0c"/>
<path d="M561.4,1292.0 C562.7,1290.3 569.6,1291.4 573.7,1292.0 C577.8,1292.7 583.3,1293.8 586.1,1296.2 C588.8,1298.6 590.9,1303.0 590.2,1306.4 C589.5,1309.9 585.4,1314.3 581.9,1316.7 C578.5,1319.1 572.7,1321.5 569.6,1320.9 C566.5,1320.2 564.1,1315.7 563.4,1312.6 C562.7,1309.5 565.8,1305.8 565.5,1302.3 C565.1,1298.9 560.0,1293.8 561.4,1292.0 Z" fill="#ff0c0c"/>
<path d="M682.8,1294.1 C684.9,1292.9 694.8,1292.9 697.2,1294.1 C699.6,1295.3 699.3,1300.1 697.2,1301.3 C695.2,1302.5 687.3,1302.5 684.9,1301.3 C682.5,1300.1 680.8,1295.3 682.8,1294.1 Z" fill="#ff0c0c"/>
<path d="M705.5,1300.3 C706.8,1298.9 715.8,1300.6 717.8,1302.3 C719.9,1304.0 719.2,1309.2 717.8,1310.6 C716.4,1311.9 711.6,1312.3 709.6,1310.6 C707.5,1308.9 704.1,1301.6 705.5,1300.3 Z" fill="#ff0c0c"/>
<path d="M600.5,1290.0 C601.8,1288.6 612.1,1290.7 614.9,1292.0 C617.6,1293.4 618.3,1296.8 616.9,1298.2 C615.6,1299.6 609.4,1301.6 606.6,1300.3 C603.9,1298.9 599.1,1291.4 600.5,1290.0 Z" fill="#ff0c0c"/>
<path d="M719.9,1269.4 C720.6,1268.0 726.4,1271.8 728.1,1273.5 C729.8,1275.2 730.8,1278.3 730.2,1279.7 C729.5,1281.1 725.7,1283.5 724.0,1281.7 C722.3,1280.0 719.2,1270.8 719.9,1269.4 Z" fill="#ff0c0c"/>
<path d="M592.2,1263.2 C594.3,1260.8 607.3,1259.8 610.8,1261.2 C614.2,1262.5 614.9,1269.1 612.8,1271.5 C610.8,1273.9 601.8,1276.9 598.4,1275.6 C595.0,1274.2 590.2,1265.6 592.2,1263.2 Z" fill="#ff0c0c"/>
<path d="M804.2,995.8 C794.4,998.3 795.2,1004.1 791.5,1008.8 C787.7,1013.4 783.9,1017.9 781.7,1023.8 C779.4,1029.6 778.4,1037.1 777.7,1043.8 C777.1,1050.4 776.8,1057.1 777.7,1063.7 C778.7,1070.4 781.0,1077.7 783.6,1083.7 C786.2,1089.7 789.7,1095.4 793.4,1099.7 C797.2,1104.0 796.7,1107.4 806.1,1109.7 C815.6,1112.0 842.9,1133.0 850.2,1113.7 C857.6,1094.4 857.9,1013.4 850.2,993.8 C842.6,974.1 814.0,993.3 804.2,995.8 Z" fill="url(#bayD)"/>
<polygon points="800.3,1105.7 806.1,1113.7 815.9,1128.7 823.8,1143.7 827.7,1159.7 830.6,1177.6 830.6,1198.6 829.7,1218.6 825.7,1235.6 819.9,1253.6 812.0,1269.6 807.1,1284.6 802.2,1299.5 805.2,1313.5 860.0,1313.5 860.0,1103.7" fill="#4848fa"/>
<path d="M842.5,760.2 C844.0,758.5 849.3,757.8 849.6,760.2 C849.9,762.5 846.0,769.7 844.5,774.4 C843.0,779.2 842.1,784.3 840.4,788.7 C838.7,793.1 836.2,799.2 834.3,800.9 C832.4,802.6 828.9,801.6 829.2,798.9 C829.6,796.2 834.5,789.4 836.4,784.6 C838.2,779.9 839.4,774.4 840.4,770.3 C841.4,766.3 840.9,761.9 842.5,760.2 Z" fill="#8c8cfa"/>
<path d="M818.0,825.4 C818.5,823.5 822.6,821.6 824.1,822.3 C825.7,823.0 827.7,827.6 827.2,829.4 C826.7,831.3 822.6,834.2 821.1,833.5 C819.5,832.8 817.5,827.2 818.0,825.4 Z" fill="#9a9afa"/>
</g>
<clipPath id="clipE"><rect x="549.2" y="752.5" width="364.6" height="593.0"/></clipPath>
<clipPath id="landE"><polygon points="863.0,744.0 861.0,760.0 856.1,772.7 850.0,783.0 844.0,791.2 841.9,797.4 837.9,805.7 832.8,813.9 826.7,819.9 829.7,825.9 823.8,833.5 818.7,838.6 815.6,848.9 811.5,859.3 805.5,871.7 797.3,879.9 789.3,883.9 783.4,888.2 779.2,895.4 775.0,908.3 770.8,918.4 769.3,926.9 767.9,941.3 766.5,952.8 765.1,964.3 763.7,975.8 762.3,984.4 763.7,990.1 765.1,993.0 766.5,984.4 767.9,975.8 770.8,970.0 773.5,965.7 777.7,971.4 781.9,981.5 787.6,990.1 793.2,997.3 798.9,1003.1 801.7,1004.8 804.2,1000.8 807.3,1003.1 813.0,1013.1 818.6,1021.7 824.2,1030.4 827.0,1036.1 824.2,1044.7 822.8,1056.1 821.4,1064.7 820.0,1073.4 815.7,1084.8 809.6,1093.3 803.2,1097.4 807.1,1105.7 813.6,1111.7 823.8,1126.3 831.6,1142.7 835.5,1159.4 837.9,1177.6 837.9,1198.6 836.9,1219.1 833.6,1235.6 828.1,1253.6 820.1,1270.0 814.5,1284.8 809.7,1299.5 805.7,1315.0 804.0,1327.4 804.4,1338.9 804.2,1353.5 928.6,1353.5 928.6,744.0"/></clipPath>
<polygon clip-path="url(#clipE)" points="863.0,744.0 861.0,760.0 856.1,772.7 850.0,783.0 844.0,791.2 841.9,797.4 837.9,805.7 832.8,813.9 826.7,819.9 829.7,825.9 823.8,833.5 818.7,838.6 815.6,848.9 811.5,859.3 805.5,871.7 797.3,879.9 789.3,883.9 783.4,888.2 779.2,895.4 775.0,908.3 770.8,918.4 769.3,926.9 767.9,941.3 766.5,952.8 765.1,964.3 763.7,975.8 762.3,984.4 763.7,990.1 765.1,993.0 766.5,984.4 767.9,975.8 770.8,970.0 773.5,965.7 777.7,971.4 781.9,981.5 787.6,990.1 793.2,997.3 798.9,1003.1 801.7,1004.8 804.2,1000.8 807.3,1003.1 813.0,1013.1 818.6,1021.7 824.2,1030.4 827.0,1036.1 824.2,1044.7 822.8,1056.1 821.4,1064.7 820.0,1073.4 815.7,1084.8 809.6,1093.3 803.2,1097.4 807.1,1105.7 813.6,1111.7 823.8,1126.3 831.6,1142.7 835.5,1159.4 837.9,1177.6 837.9,1198.6 836.9,1219.1 833.6,1235.6 828.1,1253.6 820.1,1270.0 814.5,1284.8 809.7,1299.5 805.7,1315.0 804.0,1327.4 804.4,1338.9 804.2,1353.5 928.6,1353.5 928.6,744.0" fill="#808080" stroke="#3a3a3a" stroke-width="0.8"/>
<line x1="840.9" y1="760.5" x2="840.9" y2="1337.5" stroke="#747474" stroke-width="1"/>
<line clip-path="url(#landE)" x1="557.2" y1="900.8" x2="905.8" y2="900.8" stroke="#747474" stroke-width="1"/>
<line clip-path="url(#landE)" x1="557.2" y1="1049.0" x2="905.8" y2="1049.0" stroke="#747474" stroke-width="1"/>
<line clip-path="url(#landE)" x1="557.2" y1="1197.2" x2="905.8" y2="1197.2" stroke="#747474" stroke-width="1"/>
<polyline points="806.4,1341.5 806.4,1331.5 810.5,1324.9 814.5,1315.9 816.9,1310.9 821.7,1306.8 828.1,1306.0 833.0,1307.7 837.8,1310.1 842.6,1308.5 849.0,1306.8 855.5,1307.7 860.3,1306.0 866.7,1303.6 873.1,1304.4 877.9,1301.9 884.4,1303.6 892.4,1302.7 900.5,1301.1 909.0,1300.3" fill="none" stroke="#2a2a2a" stroke-width="2.4" stroke-linejoin="round"/>
<polyline points="806.4,1341.5 806.4,1331.5 810.5,1324.9 814.5,1315.9 816.9,1310.9 821.7,1306.8 828.1,1306.0 833.0,1307.7 837.8,1310.1 842.6,1308.5 849.0,1306.8 855.5,1307.7 860.3,1306.0 866.7,1303.6 873.1,1304.4 877.9,1301.9 884.4,1303.6 892.4,1302.7 900.5,1301.1 909.0,1300.3" fill="none" stroke="#c8c8c8" stroke-width="1.1" stroke-linejoin="round"/>
<polygon points="882.1,1287.0 889.4,1282.6 897.2,1279.1 901.7,1276.8 902.1,1278.4 897.2,1281.6 889.4,1285.6 883.0,1288.5" fill="#d8d8d8" stroke="#2a2a2a" stroke-width="0.8"/>
<polygon points="844.3,1337.0 848.3,1329.5 852.2,1323.5 856.6,1318.0 858.1,1319.0 855.1,1325.5 850.2,1332.5 845.8,1338.0" fill="#d8d8d8" stroke="#2a2a2a" stroke-width="0.8"/>
<path d="M549.2,752.5 h364.6 v593.0 h-364.6 z M556.2,759.5 v579.0 h350.6 v-579.0 z" fill="#000" fill-rule="evenodd"/>
<rect x="550.4" y="753.7" width="36.2" height="5.4" fill="#fff"/>
<rect x="622.8" y="753.7" width="36.2" height="5.4" fill="#fff"/>
<rect x="695.3" y="753.7" width="36.2" height="5.4" fill="#fff"/>
<rect x="767.7" y="753.7" width="36.2" height="5.4" fill="#fff"/>
<rect x="840.2" y="753.7" width="36.2" height="5.4" fill="#fff"/>
<rect x="586.6" y="1338.9" width="36.2" height="5.4" fill="#fff"/>
<rect x="659.1" y="1338.9" width="36.2" height="5.4" fill="#fff"/>
<rect x="731.5" y="1338.9" width="36.2" height="5.4" fill="#fff"/>
<rect x="803.9" y="1338.9" width="36.2" height="5.4" fill="#fff"/>
<rect x="876.4" y="1338.9" width="36.2" height="5.4" fill="#fff"/>
<rect x="550.4" y="753.7" width="5.4" height="73.8" fill="#fff"/>
<rect x="550.4" y="901.4" width="5.4" height="73.8" fill="#fff"/>
<rect x="550.4" y="1049.0" width="5.4" height="73.8" fill="#fff"/>
<rect x="550.4" y="1196.7" width="5.4" height="73.8" fill="#fff"/>
<rect x="907.2" y="827.5" width="5.4" height="73.8" fill="#fff"/>
<rect x="907.2" y="975.2" width="5.4" height="73.8" fill="#fff"/>
<rect x="907.2" y="1122.8" width="5.4" height="73.8" fill="#fff"/>
<rect x="907.2" y="1270.5" width="5.4" height="73.8" fill="#fff"/>
<line x1="550.4" y1="753.7" x2="556.2" y2="759.5" stroke="#000" stroke-width="0.8"/>
<line x1="912.6" y1="1344.3" x2="906.8" y2="1338.5" stroke="#000" stroke-width="0.8"/>
<rect x="549.8" y="753.1" width="363.4" height="591.8" fill="none" stroke="#000" stroke-width="1.2"/>
<text x="542.7" y="762.5" text-anchor="end" class="tk">24°N</text>
<text x="542.7" y="910.8" text-anchor="end" class="tk">22°N</text>
<text x="542.7" y="1059.0" text-anchor="end" class="tk">20°N</text>
<text x="542.7" y="1207.2" text-anchor="end" class="tk">18°N</text>
<text x="542.7" y="1355.5" text-anchor="end" class="tk">16°N</text>
<text x="624.1" y="1371.0" text-anchor="middle" class="tk">19°W</text>
<text x="770.0" y="1371.0" text-anchor="middle" class="tk">17°W</text>
<text x="915.8" y="1371.0" text-anchor="middle" class="tk">15°W</text>
<rect x="1025.0" y="752.8" width="371.8" height="593.2" fill="#000"/>
<clipPath id="iclipF"><rect x="1025.0" y="752.8" width="371.8" height="593.2"/></clipPath>
<g clip-path="url(#iclipF)">
<polygon points="1025.0,752.0 1397.0,752.0 1397.0,1050.0 1025.0,1050.0" fill="#f8b8b8"/>
<path d="M1073.9,894.7 C1076.0,889.9 1080.7,884.2 1086.2,882.5 C1091.6,880.8 1101.8,881.8 1106.5,884.5 C1111.3,887.2 1114.0,893.0 1114.7,898.8 C1115.4,904.5 1113.3,914.4 1110.6,919.1 C1107.9,923.9 1103.1,926.6 1098.4,927.3 C1093.6,928.0 1086.2,925.9 1082.1,923.2 C1078.0,920.5 1075.3,915.7 1073.9,911.0 C1072.6,906.2 1071.9,899.4 1073.9,894.7 Z" fill="#f39a9a"/>
<path d="M1086.2,894.7 C1088.9,890.9 1098.7,890.6 1102.5,892.6 C1106.2,894.7 1109.3,902.5 1108.6,906.9 C1107.9,911.3 1102.1,917.8 1098.4,919.1 C1094.6,920.5 1088.2,919.1 1086.2,915.1 C1084.1,911.0 1083.4,898.4 1086.2,894.7 Z" fill="#ef7c7c"/>
<path d="M1122.8,866.1 C1125.2,862.1 1134.4,860.7 1139.1,862.1 C1143.9,863.4 1149.3,868.9 1151.4,874.3 C1153.4,879.7 1154.1,890.6 1151.4,894.7 C1148.7,898.8 1139.5,900.1 1135.1,898.8 C1130.7,897.4 1126.9,892.0 1124.9,886.5 C1122.8,881.1 1120.5,870.2 1122.8,866.1 Z" fill="#f5aaaa"/>
<path d="M1159.5,925.3 C1162.9,923.2 1175.2,924.6 1179.9,927.3 C1184.7,930.0 1189.4,938.2 1188.1,941.6 C1186.7,945.0 1176.5,948.0 1171.8,947.7 C1167.0,947.3 1161.6,943.3 1159.5,939.5 C1157.5,935.8 1156.1,927.3 1159.5,925.3 Z" fill="#f5a8a8"/>
<path d="M1163.6,964.0 C1167.3,961.3 1180.6,960.6 1188.1,962.0 C1195.5,963.3 1205.7,968.1 1208.5,972.1 C1211.2,976.2 1209.1,983.7 1204.4,986.4 C1199.6,989.1 1186.4,989.8 1179.9,988.4 C1173.5,987.1 1168.4,982.3 1165.6,978.3 C1162.9,974.2 1159.9,966.7 1163.6,964.0 Z" fill="#f5a8a8"/>
<path d="M1186.0,800.9 C1188.4,798.9 1197.2,796.8 1200.3,798.9 C1203.4,800.9 1205.7,809.8 1204.4,813.2 C1203.0,816.5 1195.2,819.6 1192.1,819.3 C1189.1,818.9 1187.0,814.2 1186.0,811.1 C1185.0,808.1 1183.7,803.0 1186.0,800.9 Z" fill="#f5a8a8"/>
<path d="M1034.2,874.3 C1037.7,868.2 1049.0,868.9 1055.6,870.2 C1062.2,871.6 1072.2,876.3 1073.9,882.5 C1075.6,888.6 1070.5,901.5 1065.8,906.9 C1061.0,912.4 1050.6,915.1 1045.4,915.1 C1040.1,915.1 1036.0,913.7 1034.2,906.9 C1032.3,900.1 1030.6,880.4 1034.2,874.3 Z" fill="#f7b2b2"/>
<path d="M1082.1,770.3 C1084.5,766.9 1089.5,766.4 1094.3,766.3 C1099.1,766.1 1104.8,768.0 1110.6,769.3 C1116.4,770.7 1124.9,770.5 1129.0,774.4 C1133.0,778.3 1135.1,786.7 1135.1,792.8 C1135.1,798.9 1131.0,805.3 1129.0,811.1 C1126.9,816.9 1125.6,823.0 1122.8,827.4 C1120.1,831.8 1116.7,835.2 1112.6,837.6 C1108.6,840.0 1102.8,841.7 1098.4,841.7 C1094.0,841.7 1087.5,840.3 1086.2,837.6 C1084.8,834.9 1090.2,829.5 1090.2,825.4 C1090.2,821.3 1088.2,816.9 1086.2,813.2 C1084.1,809.4 1079.0,807.4 1078.0,803.0 C1077.0,798.5 1079.4,792.1 1080.0,786.7 C1080.7,781.2 1079.7,773.7 1082.1,770.3 Z" fill="#000"/>
<path d="M1055.6,778.5 C1058.0,776.1 1066.8,773.1 1069.8,774.4 C1072.9,775.8 1074.9,783.6 1073.9,786.7 C1072.9,789.7 1066.8,792.4 1063.7,792.8 C1060.7,793.1 1056.9,791.1 1055.6,788.7 C1054.2,786.3 1053.2,780.9 1055.6,778.5 Z" fill="#000"/>
<path d="M1057.6,841.7 C1060.0,839.0 1068.5,836.6 1071.9,837.6 C1075.3,838.6 1078.7,844.7 1078.0,847.8 C1077.3,850.9 1071.2,854.9 1067.8,856.0 C1064.4,857.0 1059.3,856.3 1057.6,853.9 C1055.9,851.5 1055.2,844.4 1057.6,841.7 Z" fill="#000"/>
<path d="M1171.8,752.0 C1196.9,749.3 1305.6,750.6 1330.8,752.0 C1355.9,753.4 1325.7,756.4 1322.6,760.2 C1319.5,763.9 1315.5,769.3 1312.4,774.4 C1309.4,779.5 1307.0,785.0 1304.3,790.7 C1301.5,796.5 1300.2,805.7 1296.1,809.1 C1292.0,812.5 1284.9,810.4 1279.8,811.1 C1274.7,811.8 1270.6,812.1 1265.5,813.2 C1260.4,814.2 1253.3,818.6 1249.2,817.2 C1245.1,815.9 1242.1,809.1 1241.1,805.0 C1240.0,800.9 1240.7,796.2 1243.1,792.8 C1245.5,789.4 1252.6,787.3 1255.3,784.6 C1258.1,781.9 1261.1,778.5 1259.4,776.5 C1257.7,774.4 1249.2,772.7 1245.1,772.4 C1241.1,772.0 1238.0,774.4 1235.0,774.4 C1231.9,774.4 1229.9,771.7 1226.8,772.4 C1223.7,773.1 1220.3,777.5 1216.6,778.5 C1212.9,779.5 1208.8,779.2 1204.4,778.5 C1200.0,777.8 1194.2,776.1 1190.1,774.4 C1186.0,772.7 1183.0,772.0 1179.9,768.3 C1176.9,764.6 1146.6,754.7 1171.8,752.0 Z" fill="#000"/>
<path d="M1159.5,843.7 C1159.2,840.3 1167.0,839.3 1171.8,837.6 C1176.5,835.9 1183.3,835.6 1188.1,833.5 C1192.8,831.5 1195.9,828.1 1200.3,825.4 C1204.7,822.7 1210.2,818.9 1214.6,817.2 C1219.0,815.5 1222.4,814.8 1226.8,815.2 C1231.2,815.5 1237.3,816.9 1241.1,819.3 C1244.8,821.6 1248.5,825.7 1249.2,829.5 C1249.9,833.2 1248.2,838.6 1245.1,841.7 C1242.1,844.7 1235.0,845.1 1230.9,847.8 C1226.8,850.5 1224.4,854.9 1220.7,858.0 C1216.9,861.1 1212.9,864.8 1208.5,866.1 C1204.0,867.5 1198.9,865.8 1194.2,866.1 C1189.4,866.5 1183.3,869.5 1179.9,868.2 C1176.5,866.8 1177.2,862.1 1173.8,858.0 C1170.4,853.9 1159.9,847.1 1159.5,843.7 Z" fill="#000"/>
<path d="M1296.1,809.1 C1300.5,800.9 1308.0,782.6 1312.4,774.4 C1316.8,766.3 1319.5,763.9 1322.6,760.2 C1325.7,756.4 1318.4,753.4 1330.8,752.0 C1343.2,750.6 1386.0,702.3 1397.0,752.0 C1408.0,801.7 1421.6,1000.3 1397.0,1050.0 C1372.4,1099.7 1272.8,1052.1 1249.2,1050.0 C1225.6,1047.9 1255.3,1042.9 1255.3,1037.4 C1255.3,1031.9 1251.6,1023.8 1249.2,1017.0 C1246.8,1010.2 1243.1,1003.4 1241.1,996.6 C1239.0,989.8 1237.0,983.0 1237.0,976.2 C1237.0,969.4 1240.0,962.6 1241.1,955.8 C1242.1,949.0 1242.1,942.2 1243.1,935.5 C1244.1,928.7 1245.5,921.9 1247.2,915.1 C1248.9,908.3 1250.6,900.8 1253.3,894.7 C1256.0,888.6 1260.1,883.1 1263.5,878.4 C1266.9,873.6 1271.3,870.9 1273.7,866.1 C1276.1,861.4 1277.4,854.6 1277.8,849.8 C1278.1,845.1 1274.4,842.0 1275.7,837.6 C1277.1,833.2 1282.5,828.1 1285.9,823.3 C1289.3,818.6 1291.7,817.2 1296.1,809.1 Z" fill="#000"/>
<path d="M1204.4,921.2 C1206.8,915.7 1212.9,912.0 1216.6,911.0 C1220.3,910.0 1225.4,911.7 1226.8,915.1 C1228.2,918.5 1227.1,926.6 1224.8,931.4 C1222.4,936.1 1216.3,941.6 1212.5,943.6 C1208.8,945.6 1203.7,947.3 1202.3,943.6 C1201.0,939.9 1202.0,926.6 1204.4,921.2 Z" fill="#000"/>
<path d="M1102.5,959.9 C1105.5,955.8 1112.6,956.9 1118.8,955.8 C1124.9,954.8 1133.7,953.5 1139.1,953.8 C1144.6,954.1 1148.7,954.8 1151.4,957.9 C1154.1,960.9 1154.1,967.4 1155.5,972.1 C1156.8,976.9 1157.5,982.3 1159.5,986.4 C1161.6,990.5 1164.3,993.2 1167.7,996.6 C1171.1,1000.0 1175.8,1003.4 1179.9,1006.8 C1184.0,1010.2 1187.4,1013.9 1192.1,1017.0 C1196.9,1020.0 1204.0,1021.7 1208.5,1025.1 C1212.9,1028.5 1215.9,1033.2 1218.6,1037.4 C1221.4,1041.5 1242.4,1047.9 1224.8,1050.0 C1207.1,1052.1 1131.0,1052.8 1112.6,1050.0 C1094.3,1047.2 1113.7,1038.8 1114.7,1033.3 C1115.7,1027.8 1118.8,1021.7 1118.8,1017.0 C1118.8,1012.2 1117.1,1008.2 1114.7,1004.8 C1112.3,1001.4 1106.9,1000.7 1104.5,996.6 C1102.1,992.5 1100.8,986.4 1100.4,980.3 C1100.1,974.2 1099.4,964.0 1102.5,959.9 Z" fill="#000"/>
<path d="M1228.8,986.4 C1231.2,983.0 1238.3,983.0 1241.1,986.4 C1243.8,989.8 1244.8,1000.0 1245.1,1006.8 C1245.5,1013.6 1244.5,1022.1 1243.1,1027.2 C1241.7,1032.3 1239.4,1037.4 1237.0,1037.4 C1234.6,1037.4 1230.5,1032.3 1228.8,1027.2 C1227.1,1022.1 1226.8,1013.6 1226.8,1006.8 C1226.8,1000.0 1226.5,989.8 1228.8,986.4 Z" fill="#000"/>
<path d="M1033.2,984.4 C1034.3,982.8 1040.3,984.7 1041.3,986.4 C1042.3,988.1 1040.5,993.0 1039.3,994.6 C1038.1,996.1 1035.2,997.3 1034.2,995.6 C1033.2,993.9 1032.0,985.9 1033.2,984.4 Z" fill="#000"/>
<path d="M1053.5,841.7 C1055.6,839.0 1066.8,837.6 1069.8,839.6 C1072.9,841.7 1073.9,851.2 1071.9,853.9 C1069.8,856.6 1060.7,858.0 1057.6,856.0 C1054.6,853.9 1051.5,844.4 1053.5,841.7 Z" fill="#000"/>
<circle cx="1039.3" cy="772.4" r="2.0" fill="#000"/>
<circle cx="1047.4" cy="794.8" r="1.6" fill="#000"/>
<circle cx="1048.4" cy="837.6" r="2.4" fill="#000"/>
<circle cx="1040.3" cy="833.5" r="1.6" fill="#000"/>
<circle cx="1067.8" cy="807.0" r="1.6" fill="#000"/>
<circle cx="1086.2" cy="862.1" r="1.6" fill="#000"/>
<circle cx="1112.6" cy="874.3" r="2.0" fill="#000"/>
<circle cx="1131.0" cy="902.8" r="1.6" fill="#000"/>
<circle cx="1057.6" cy="915.1" r="1.6" fill="#000"/>
<circle cx="1047.4" cy="925.3" r="1.6" fill="#000"/>
<circle cx="1114.7" cy="935.5" r="1.6" fill="#000"/>
<circle cx="1137.1" cy="941.6" r="2.0" fill="#000"/>
<circle cx="1155.5" cy="937.5" r="1.6" fill="#000"/>
<circle cx="1171.8" cy="898.8" r="1.6" fill="#000"/>
<circle cx="1188.1" cy="878.4" r="1.6" fill="#000"/>
<circle cx="1245.1" cy="886.5" r="1.6" fill="#000"/>
<circle cx="1061.7" cy="1041.4" r="1.6" fill="#000"/>
<circle cx="1037.2" cy="988.4" r="1.6" fill="#000"/>
<polygon points="1025.0,1050.9 1034.5,1051.1 1044.1,1059.0 1053.6,1052.3 1063.1,1041.4 1072.7,1047.4 1082.2,1056.0 1091.7,1050.0 1101.3,1047.3 1110.8,1058.8 1120.3,1062.0 1129.9,1050.4 1139.4,1047.9 1148.9,1055.8 1158.5,1051.4 1168.0,1041.3 1177.5,1047.6 1187.1,1058.4 1196.6,1053.7 1206.1,1048.9 1215.7,1058.2 1225.2,1061.3 1234.7,1048.8 1244.3,1044.6 1253.8,1053.3 1263.3,1052.0 1272.9,1043.0 1282.4,1049.0 1291.9,1060.8 1301.5,1056.6 1311.0,1049.1 1320.5,1055.9 1330.1,1059.2 1339.6,1047.1 1349.1,1042.2 1358.7,1052.2 1368.2,1054.1 1377.7,1046.0 1387.3,1050.7 1396.8,1062.3 1396.8,1082.0 1025.0,1082.0" fill="#000"/>
<polygon points="1025.0,1065.6 1397.0,1065.6 1397.0,1346.0 1025.0,1346.0" fill="#000"/>
<path d="M1033.2,1045.0 C1053.8,1043.6 1135.5,1041.6 1156.8,1045.0 C1178.0,1048.4 1161.2,1059.8 1160.9,1065.6 C1160.5,1071.4 1156.4,1074.5 1154.7,1080.0 C1153.0,1085.5 1153.3,1095.1 1150.6,1098.5 C1147.8,1102.0 1142.3,1102.3 1138.2,1100.6 C1134.1,1098.9 1130.3,1088.2 1125.9,1088.2 C1121.4,1088.2 1115.6,1098.7 1111.5,1100.6 C1107.3,1102.5 1101.9,1102.0 1101.2,1099.6 C1100.5,1097.2 1108.7,1090.8 1107.3,1086.2 C1106.0,1081.5 1098.1,1075.5 1092.9,1071.8 C1087.8,1068.0 1082.3,1065.2 1076.5,1063.5 C1070.6,1061.8 1063.1,1062.8 1057.9,1061.5 C1052.8,1060.1 1049.7,1056.7 1045.6,1055.3 C1041.5,1053.9 1035.3,1055.0 1033.2,1053.2 C1031.2,1051.5 1012.6,1046.4 1033.2,1045.0 Z" fill="#f7b0b0"/>
<path d="M1033.2,1133.5 C1035.6,1101.3 1042.2,1135.6 1047.6,1135.6 C1053.1,1135.6 1060.0,1132.8 1066.2,1133.5 C1072.3,1134.2 1081.3,1136.6 1084.7,1139.7 C1088.1,1142.8 1087.1,1147.2 1086.8,1152.1 C1086.4,1156.9 1082.6,1162.3 1082.6,1168.5 C1082.6,1174.7 1085.4,1182.2 1086.8,1189.1 C1088.1,1196.0 1089.8,1202.8 1090.9,1209.7 C1091.9,1216.6 1092.6,1223.4 1092.9,1230.3 C1093.3,1237.1 1094.0,1244.7 1092.9,1250.9 C1091.9,1257.0 1089.2,1263.2 1086.8,1267.3 C1084.4,1271.5 1078.5,1273.2 1078.5,1275.6 C1078.5,1278.0 1082.6,1281.4 1086.8,1281.7 C1090.9,1282.1 1098.4,1279.0 1103.2,1277.6 C1108.0,1276.3 1112.1,1272.8 1115.6,1273.5 C1119.0,1274.2 1120.4,1279.3 1123.8,1281.7 C1127.2,1284.1 1132.1,1286.2 1136.2,1287.9 C1140.3,1289.6 1143.0,1291.0 1148.5,1292.0 C1154.0,1293.1 1162.9,1292.4 1169.1,1294.1 C1175.3,1295.8 1181.1,1299.2 1185.6,1302.3 C1190.0,1305.4 1194.5,1308.2 1195.9,1312.6 C1197.2,1317.1 1196.2,1325.0 1193.8,1329.1 C1191.4,1333.2 1187.3,1336.0 1181.5,1337.3 C1175.6,1338.7 1164.3,1338.7 1158.8,1337.3 C1153.3,1336.0 1151.6,1329.1 1148.5,1329.1 C1145.4,1329.1 1145.1,1336.0 1140.3,1337.3 C1135.5,1338.7 1124.5,1338.7 1119.7,1337.3 C1114.9,1336.0 1114.9,1329.1 1111.5,1329.1 C1108.0,1329.1 1104.9,1335.6 1099.1,1337.3 C1093.3,1339.0 1083.7,1338.7 1076.5,1339.4 C1069.3,1340.1 1062.4,1341.8 1055.9,1341.4 C1049.4,1341.1 1041.1,1339.4 1037.4,1337.3 C1033.6,1335.3 1033.9,1363.1 1033.2,1329.1 C1032.5,1295.1 1030.8,1165.8 1033.2,1133.5 Z" fill="#f7b0b0"/>
<path d="M1107.3,1139.7 C1108.7,1137.6 1114.6,1136.6 1117.6,1137.6 C1120.7,1138.7 1124.2,1143.1 1125.9,1145.9 C1127.6,1148.6 1129.3,1152.4 1127.9,1154.1 C1126.6,1155.8 1120.7,1156.9 1117.6,1156.2 C1114.6,1155.5 1111.1,1152.7 1109.4,1150.0 C1107.7,1147.2 1106.0,1141.8 1107.3,1139.7 Z" fill="#f7b0b0"/>
<path d="M1119.7,1170.6 C1121.4,1168.9 1127.2,1169.2 1130.0,1170.6 C1132.7,1172.0 1135.5,1176.1 1136.2,1178.8 C1136.9,1181.6 1136.2,1185.3 1134.1,1187.0 C1132.1,1188.8 1126.2,1190.1 1123.8,1189.1 C1121.4,1188.1 1120.4,1184.0 1119.7,1180.9 C1119.0,1177.8 1118.0,1172.3 1119.7,1170.6 Z" fill="#f7b0b0"/>
<path d="M1113.5,1213.8 C1115.2,1210.7 1120.0,1211.1 1123.8,1211.8 C1127.6,1212.4 1133.8,1214.8 1136.2,1217.9 C1138.6,1221.0 1138.9,1226.5 1138.2,1230.3 C1137.5,1234.1 1133.8,1237.1 1132.1,1240.6 C1130.3,1244.0 1129.3,1247.1 1127.9,1250.9 C1126.6,1254.6 1125.2,1259.8 1123.8,1263.2 C1122.4,1266.6 1121.1,1268.4 1119.7,1271.5 C1118.3,1274.5 1117.6,1279.7 1115.6,1281.7 C1113.5,1283.8 1109.4,1284.8 1107.3,1283.8 C1105.3,1282.8 1102.5,1279.3 1103.2,1275.6 C1103.9,1271.8 1109.4,1266.0 1111.5,1261.2 C1113.5,1256.4 1115.2,1251.9 1115.6,1246.7 C1115.9,1241.6 1113.9,1235.8 1113.5,1230.3 C1113.2,1224.8 1111.8,1216.9 1113.5,1213.8 Z" fill="#f7b0b0"/>
<path d="M1103.2,1277.6 C1105.3,1275.2 1112.1,1272.8 1115.6,1273.5 C1119.0,1274.2 1120.4,1279.3 1123.8,1281.7 C1127.2,1284.1 1132.1,1286.2 1136.2,1287.9 C1140.3,1289.6 1143.0,1291.0 1148.5,1292.0 C1154.0,1293.1 1164.6,1292.7 1169.1,1294.1 C1173.6,1295.5 1172.5,1298.9 1175.3,1300.3 C1178.0,1301.6 1182.5,1301.0 1185.6,1302.3 C1188.7,1303.7 1192.4,1305.1 1193.8,1308.5 C1195.2,1311.9 1195.2,1318.8 1193.8,1322.9 C1192.4,1327.0 1189.0,1330.8 1185.6,1333.2 C1182.1,1335.6 1177.7,1337.3 1173.2,1337.3 C1168.8,1337.3 1162.2,1335.6 1158.8,1333.2 C1155.4,1330.8 1154.4,1326.4 1152.6,1322.9 C1150.9,1319.5 1150.6,1314.7 1148.5,1312.6 C1146.5,1310.6 1143.7,1311.9 1140.3,1310.6 C1136.9,1309.2 1131.4,1306.4 1127.9,1304.4 C1124.5,1302.3 1122.4,1300.3 1119.7,1298.2 C1117.0,1296.2 1114.2,1293.8 1111.5,1292.0 C1108.7,1290.3 1104.6,1290.3 1103.2,1287.9 C1101.9,1285.5 1101.2,1280.0 1103.2,1277.6 Z" fill="#f7b0b0"/>
<path d="M1103.2,1325.0 C1105.3,1323.3 1113.2,1321.5 1115.6,1322.9 C1118.0,1324.3 1119.0,1330.8 1117.6,1333.2 C1116.3,1335.6 1109.7,1337.3 1107.3,1337.3 C1104.9,1337.3 1103.9,1335.3 1103.2,1333.2 C1102.5,1331.2 1101.2,1326.7 1103.2,1325.0 Z" fill="#f7b0b0"/>
<path d="M1204.1,1088.2 C1204.8,1086.9 1212.0,1085.5 1214.4,1086.2 C1216.8,1086.9 1219.2,1091.0 1218.5,1092.3 C1217.8,1093.7 1212.7,1095.1 1210.3,1094.4 C1207.9,1093.7 1203.4,1089.6 1204.1,1088.2 Z" fill="#f7b0b0"/>
<path d="M1062.1,1234.4 C1064.1,1232.0 1075.4,1232.3 1078.5,1234.4 C1081.6,1236.5 1082.6,1244.3 1080.6,1246.7 C1078.5,1249.2 1069.3,1250.9 1066.2,1248.8 C1063.1,1246.7 1060.0,1236.8 1062.1,1234.4 Z" fill="#000"/>
<path d="M1055.9,1145.9 C1059.0,1143.1 1070.6,1142.1 1074.4,1143.8 C1078.2,1145.5 1079.9,1152.7 1078.5,1156.2 C1077.2,1159.6 1069.9,1163.7 1066.2,1164.4 C1062.4,1165.1 1057.6,1163.4 1055.9,1160.3 C1054.2,1157.2 1052.8,1148.6 1055.9,1145.9 Z" fill="#000"/>
<path d="M1033.2,1203.5 C1036.0,1200.4 1044.2,1200.8 1049.7,1201.5 C1055.2,1202.1 1063.1,1204.9 1066.2,1207.6 C1069.3,1210.4 1071.0,1215.9 1068.2,1217.9 C1065.5,1220.0 1055.5,1219.6 1049.7,1220.0 C1043.9,1220.3 1036.0,1222.7 1033.2,1220.0 C1030.5,1217.2 1030.5,1206.6 1033.2,1203.5 Z" fill="#000"/>
<path d="M1033.2,1269.4 C1035.3,1267.3 1042.8,1267.3 1045.6,1269.4 C1048.3,1271.5 1051.1,1279.0 1049.7,1281.7 C1048.3,1284.5 1040.1,1285.9 1037.4,1285.9 C1034.6,1285.9 1033.9,1284.5 1033.2,1281.7 C1032.5,1279.0 1031.2,1271.5 1033.2,1269.4 Z" fill="#000"/>
<path d="M1049.7,1312.6 C1051.4,1310.2 1059.7,1308.9 1062.1,1310.6 C1064.5,1312.3 1065.8,1320.5 1064.1,1322.9 C1062.4,1325.3 1054.2,1326.7 1051.8,1325.0 C1049.4,1323.3 1048.0,1315.0 1049.7,1312.6 Z" fill="#000"/>
<path d="M1090.9,1287.9 C1093.6,1286.2 1100.8,1287.9 1103.2,1292.0 C1105.6,1296.2 1107.0,1308.5 1105.3,1312.6 C1103.6,1316.7 1096.0,1318.5 1092.9,1316.7 C1089.8,1315.0 1087.1,1307.1 1086.8,1302.3 C1086.4,1297.5 1088.1,1289.6 1090.9,1287.9 Z" fill="#000"/>
<path d="M1123.8,1302.3 C1125.9,1299.6 1136.9,1302.0 1140.3,1304.4 C1143.7,1306.8 1146.5,1314.0 1144.4,1316.7 C1142.3,1319.5 1131.4,1323.3 1127.9,1320.9 C1124.5,1318.5 1121.8,1305.1 1123.8,1302.3 Z" fill="#000"/>
<path d="M1041.5,1067.6 C1043.5,1064.6 1053.1,1063.2 1055.9,1065.6 C1058.6,1068.0 1060.0,1079.0 1057.9,1082.1 C1055.9,1085.1 1046.3,1086.5 1043.5,1084.1 C1040.8,1081.7 1039.4,1070.7 1041.5,1067.6 Z" fill="#000"/>
<path d="M1115.6,1071.8 C1117.3,1069.0 1128.6,1067.6 1132.1,1069.7 C1135.5,1071.8 1137.9,1081.4 1136.2,1084.1 C1134.5,1086.9 1125.2,1088.2 1121.8,1086.2 C1118.3,1084.1 1113.9,1074.5 1115.6,1071.8 Z" fill="#000"/>
<path d="M1148.5,1312.6 C1149.9,1310.2 1158.1,1308.9 1160.9,1310.6 C1163.6,1312.3 1166.4,1320.5 1165.0,1322.9 C1163.6,1325.3 1155.4,1326.7 1152.6,1325.0 C1149.9,1323.3 1147.1,1315.0 1148.5,1312.6 Z" fill="#000"/>
<circle cx="1057.9" cy="1147.9" r="2.5" fill="#000"/>
<circle cx="1072.3" cy="1154.1" r="2.1" fill="#000"/>
<circle cx="1049.7" cy="1201.5" r="2.1" fill="#000"/>
<circle cx="1076.5" cy="1201.5" r="2.1" fill="#000"/>
<circle cx="1043.5" cy="1240.6" r="2.1" fill="#000"/>
<circle cx="1057.9" cy="1312.6" r="2.1" fill="#000"/>
<circle cx="1169.1" cy="1312.6" r="2.5" fill="#000"/>
<circle cx="1127.9" cy="1296.2" r="2.1" fill="#000"/>
<path d="M1277.0,990.2 C1264.5,991.2 1262.5,993.0 1257.1,996.2 C1251.6,999.3 1247.6,1004.2 1244.1,1009.2 C1240.6,1014.2 1238.2,1020.0 1236.1,1026.2 C1233.9,1032.3 1231.4,1039.5 1231.1,1046.2 C1230.7,1052.8 1231.9,1060.1 1234.1,1066.1 C1236.2,1072.1 1240.1,1077.1 1244.1,1082.1 C1248.1,1087.1 1253.1,1092.1 1258.0,1096.1 C1263.0,1100.1 1268.4,1103.1 1274.0,1106.1 C1279.7,1109.1 1282.4,1112.8 1292.0,1114.1 C1301.7,1115.4 1325.3,1134.8 1332.0,1114.1 C1338.6,1093.5 1341.1,1010.8 1332.0,990.2 C1322.8,969.5 1289.5,989.2 1277.0,990.2 Z" fill="url(#bayF)"/>
<polygon points="1281.0,1106.1 1287.0,1114.1 1297.0,1129.1 1305.0,1144.1 1309.0,1160.1 1312.0,1178.1 1312.0,1199.1 1311.0,1219.1 1307.0,1236.1 1301.0,1254.0 1293.0,1270.0 1288.0,1285.0 1283.0,1300.0 1286.0,1314.0 1342.0,1314.0 1342.0,1104.1" fill="#a4a4fa"/>
<path d="M1322.6,760.2 C1327.4,756.1 1339.6,757.4 1340.9,760.2 C1342.3,762.9 1334.8,770.3 1330.8,776.5 C1326.7,782.6 1320.2,790.7 1316.5,796.8 C1312.7,803.0 1310.0,807.7 1308.3,813.2 C1306.6,818.6 1308.0,825.4 1306.3,829.5 C1304.6,833.5 1300.2,839.0 1298.1,837.6 C1296.1,836.3 1293.4,826.7 1294.1,821.3 C1294.7,815.9 1299.2,811.1 1302.2,805.0 C1305.3,798.9 1309.0,792.1 1312.4,784.6 C1315.8,777.1 1317.8,764.2 1322.6,760.2 Z" fill="#c4c4fb"/>
</g>
<clipPath id="clipF"><rect x="1025.0" y="752.8" width="371.8" height="593.2"/></clipPath>
<clipPath id="landF"><polygon points="1345.0,744.3 1343.0,760.3 1338.0,773.0 1331.8,783.3 1325.6,791.5 1323.5,797.7 1319.4,806.0 1314.2,814.3 1308.0,820.3 1311.0,826.3 1305.0,833.9 1299.8,839.0 1296.7,849.3 1292.5,859.6 1286.3,872.0 1278.0,880.2 1269.8,884.2 1263.8,888.5 1259.5,895.7 1255.3,908.6 1251.0,918.7 1249.5,927.2 1248.1,941.7 1246.6,953.2 1245.2,964.7 1243.8,976.2 1242.3,984.8 1243.8,990.5 1245.2,993.4 1246.6,984.8 1248.1,976.2 1251.0,970.4 1253.8,966.1 1258.0,971.8 1262.3,981.9 1268.1,990.5 1273.8,997.7 1279.6,1003.5 1282.5,1005.2 1285.0,1001.2 1288.2,1003.5 1294.0,1013.5 1299.7,1022.1 1305.4,1030.8 1308.3,1036.5 1305.4,1045.1 1304.0,1056.5 1302.6,1065.1 1301.1,1073.8 1296.8,1085.2 1290.5,1093.7 1284.0,1097.8 1288.0,1106.1 1294.6,1112.1 1305.0,1126.7 1313.0,1143.1 1317.0,1159.8 1319.4,1178.1 1319.4,1199.1 1318.4,1219.6 1315.0,1236.1 1309.4,1254.0 1301.2,1270.4 1295.5,1285.2 1290.6,1300.0 1286.5,1315.5 1284.8,1327.9 1285.2,1339.4 1285.0,1354.0 1411.9,1354.0 1411.9,744.3"/></clipPath>
<polygon clip-path="url(#clipF)" points="1345.0,744.3 1343.0,760.3 1338.0,773.0 1331.8,783.3 1325.6,791.5 1323.5,797.7 1319.4,806.0 1314.2,814.3 1308.0,820.3 1311.0,826.3 1305.0,833.9 1299.8,839.0 1296.7,849.3 1292.5,859.6 1286.3,872.0 1278.0,880.2 1269.8,884.2 1263.8,888.5 1259.5,895.7 1255.3,908.6 1251.0,918.7 1249.5,927.2 1248.1,941.7 1246.6,953.2 1245.2,964.7 1243.8,976.2 1242.3,984.8 1243.8,990.5 1245.2,993.4 1246.6,984.8 1248.1,976.2 1251.0,970.4 1253.8,966.1 1258.0,971.8 1262.3,981.9 1268.1,990.5 1273.8,997.7 1279.6,1003.5 1282.5,1005.2 1285.0,1001.2 1288.2,1003.5 1294.0,1013.5 1299.7,1022.1 1305.4,1030.8 1308.3,1036.5 1305.4,1045.1 1304.0,1056.5 1302.6,1065.1 1301.1,1073.8 1296.8,1085.2 1290.5,1093.7 1284.0,1097.8 1288.0,1106.1 1294.6,1112.1 1305.0,1126.7 1313.0,1143.1 1317.0,1159.8 1319.4,1178.1 1319.4,1199.1 1318.4,1219.6 1315.0,1236.1 1309.4,1254.0 1301.2,1270.4 1295.5,1285.2 1290.6,1300.0 1286.5,1315.5 1284.8,1327.9 1285.2,1339.4 1285.0,1354.0 1411.9,1354.0 1411.9,744.3" fill="#808080" stroke="#3a3a3a" stroke-width="0.8"/>
<line x1="1322.4" y1="760.8" x2="1322.4" y2="1338.0" stroke="#747474" stroke-width="1"/>
<line clip-path="url(#landF)" x1="1033.0" y1="901.1" x2="1388.8" y2="901.1" stroke="#747474" stroke-width="1"/>
<line clip-path="url(#landF)" x1="1033.0" y1="1049.4" x2="1388.8" y2="1049.4" stroke="#747474" stroke-width="1"/>
<line clip-path="url(#landF)" x1="1033.0" y1="1197.7" x2="1388.8" y2="1197.7" stroke="#747474" stroke-width="1"/>
<polyline points="1287.3,1342.0 1287.3,1332.0 1291.4,1325.4 1295.5,1316.4 1298.0,1311.4 1302.9,1307.3 1309.4,1306.5 1314.4,1308.2 1319.3,1310.6 1324.2,1309.0 1330.8,1307.3 1337.4,1308.2 1342.3,1306.5 1348.8,1304.1 1355.3,1304.9 1360.2,1302.4 1366.8,1304.1 1375.0,1303.2 1383.2,1301.6 1391.9,1300.8" fill="none" stroke="#2a2a2a" stroke-width="2.4" stroke-linejoin="round"/>
<polyline points="1287.3,1342.0 1287.3,1332.0 1291.4,1325.4 1295.5,1316.4 1298.0,1311.4 1302.9,1307.3 1309.4,1306.5 1314.4,1308.2 1319.3,1310.6 1324.2,1309.0 1330.8,1307.3 1337.4,1308.2 1342.3,1306.5 1348.8,1304.1 1355.3,1304.9 1360.2,1302.4 1366.8,1304.1 1375.0,1303.2 1383.2,1301.6 1391.9,1300.8" fill="none" stroke="#c8c8c8" stroke-width="1.1" stroke-linejoin="round"/>
<polygon points="1364.4,1287.5 1371.9,1283.0 1379.9,1279.5 1384.4,1277.2 1384.9,1278.8 1379.9,1282.0 1371.9,1286.0 1365.4,1289.0" fill="#d8d8d8" stroke="#2a2a2a" stroke-width="0.8"/>
<polygon points="1326.0,1337.5 1330.0,1330.0 1334.0,1324.0 1338.5,1318.5 1340.0,1319.5 1337.0,1326.0 1332.0,1333.0 1327.5,1338.5" fill="#d8d8d8" stroke="#2a2a2a" stroke-width="0.8"/>
<path d="M1025.0,752.8 h371.8 v593.2 h-371.8 z M1032.0,759.8 v579.2 h357.8 v-579.2 z" fill="#000" fill-rule="evenodd"/>
<rect x="1026.2" y="754.0" width="36.9" height="5.4" fill="#fff"/>
<rect x="1100.1" y="754.0" width="36.9" height="5.4" fill="#fff"/>
<rect x="1174.0" y="754.0" width="36.9" height="5.4" fill="#fff"/>
<rect x="1247.8" y="754.0" width="36.9" height="5.4" fill="#fff"/>
<rect x="1321.7" y="754.0" width="36.9" height="5.4" fill="#fff"/>
<rect x="1063.1" y="1339.4" width="36.9" height="5.4" fill="#fff"/>
<rect x="1137.0" y="1339.4" width="36.9" height="5.4" fill="#fff"/>
<rect x="1210.9" y="1339.4" width="36.9" height="5.4" fill="#fff"/>
<rect x="1284.8" y="1339.4" width="36.9" height="5.4" fill="#fff"/>
<rect x="1358.7" y="1339.4" width="36.9" height="5.4" fill="#fff"/>
<rect x="1026.2" y="754.0" width="5.4" height="73.9" fill="#fff"/>
<rect x="1026.2" y="901.7" width="5.4" height="73.8" fill="#fff"/>
<rect x="1026.2" y="1049.4" width="5.4" height="73.8" fill="#fff"/>
<rect x="1026.2" y="1197.1" width="5.4" height="73.9" fill="#fff"/>
<rect x="1390.2" y="827.9" width="5.4" height="73.9" fill="#fff"/>
<rect x="1390.2" y="975.5" width="5.4" height="73.9" fill="#fff"/>
<rect x="1390.2" y="1123.2" width="5.4" height="73.8" fill="#fff"/>
<rect x="1390.2" y="1271.0" width="5.4" height="73.9" fill="#fff"/>
<line x1="1026.2" y1="754.0" x2="1032.0" y2="759.8" stroke="#000" stroke-width="0.8"/>
<line x1="1395.6" y1="1344.8" x2="1389.8" y2="1339.0" stroke="#000" stroke-width="0.8"/>
<rect x="1025.6" y="753.4" width="370.6" height="592.0" fill="none" stroke="#000" stroke-width="1.2"/>
<text x="1018.5" y="762.8" text-anchor="end" class="tk">24°N</text>
<text x="1018.5" y="911.1" text-anchor="end" class="tk">22°N</text>
<text x="1018.5" y="1059.4" text-anchor="end" class="tk">20°N</text>
<text x="1018.5" y="1207.7" text-anchor="end" class="tk">18°N</text>
<text x="1018.5" y="1356.0" text-anchor="end" class="tk">16°N</text>
<text x="1101.4" y="1371.5" text-anchor="middle" class="tk">19°W</text>
<text x="1250.1" y="1371.5" text-anchor="middle" class="tk">17°W</text>
<text x="1398.8" y="1371.5" text-anchor="middle" class="tk">15°W</text>
<text x="372.5" y="261.0" text-anchor="middle" class="bt" font-size="46" fill="#ff0000">NASA</text>
<text x="372.5" y="317.8" text-anchor="middle" class="bt" font-size="46" fill="#ff0000">NIR</text>
<text x="304.0" y="373.1" text-anchor="middle" class="bt" font-size="27" fill="#ffff00">Bay of</text>
<text x="304.2" y="406.1" text-anchor="middle" class="bt" font-size="27" fill="#ffff00">Arguin</text>
<text x="389.0" y="646.0" text-anchor="middle" class="bt" font-size="50" fill="#000">(A)</text>
<text x="840.0" y="261.0" text-anchor="middle" class="bt" font-size="46" fill="#ff0000">NASA</text>
<text x="840.0" y="317.8" text-anchor="middle" class="bt" font-size="46" fill="#ff0000">NIR</text>
<text x="775.5" y="373.1" text-anchor="middle" class="bt" font-size="27" fill="#ffff00">Bay of</text>
<text x="775.7" y="406.1" text-anchor="middle" class="bt" font-size="27" fill="#ffff00">Arguin</text>
<text x="858.9" y="646.0" text-anchor="middle" class="bt" font-size="50" fill="#000">(B)</text>
<text x="1314.9" y="261.0" text-anchor="middle" class="bt" font-size="46" fill="#ff0000">NASA</text>
<text x="1314.9" y="317.8" text-anchor="middle" class="bt" font-size="46" fill="#ff0000">NIR</text>
<text x="1250.3" y="373.3" text-anchor="middle" class="bt" font-size="27" fill="#ffff00">Bay of</text>
<text x="1250.5" y="406.4" text-anchor="middle" class="bt" font-size="27" fill="#ffff00">Arguin</text>
<text x="1334.6" y="646.5" text-anchor="middle" class="bt" font-size="50" fill="#000">(C)</text>
<text x="365.8" y="919.1" text-anchor="middle" class="bt" font-size="40" fill="#ff0000">OC-</text>
<text x="365.8" y="969.1" text-anchor="middle" class="bt" font-size="40" fill="#ff0000">XGBRT</text>
<text x="303.8" y="1043.9" text-anchor="middle" class="bt" font-size="27" fill="#ffff00">Bay of</text>
<text x="304.0" y="1076.8" text-anchor="middle" class="bt" font-size="27" fill="#ffff00">Arguin</text>
<text x="388.5" y="1319.5" text-anchor="middle" class="bt" font-size="50" fill="#000">(D)</text>
<text x="836.7" y="923.2" text-anchor="middle" class="bt" font-size="40" fill="#ff0000">OC-</text>
<text x="836.7" y="973.1" text-anchor="middle" class="bt" font-size="40" fill="#ff0000">XGBRT</text>
<text x="775.8" y="1043.9" text-anchor="middle" class="bt" font-size="27" fill="#ffff00">Bay of</text>
<text x="776.0" y="1076.8" text-anchor="middle" class="bt" font-size="27" fill="#ffff00">Arguin</text>
<text x="859.0" y="1319.5" text-anchor="middle" class="bt" font-size="50" fill="#000">(E)</text>
<text x="1318.5" y="923.5" text-anchor="middle" class="bt" font-size="40" fill="#ff0000">OC-</text>
<text x="1318.5" y="973.5" text-anchor="middle" class="bt" font-size="40" fill="#ff0000">XGBRT</text>
<text x="1256.1" y="1044.3" text-anchor="middle" class="bt" font-size="27" fill="#ffff00">Bay of</text>
<text x="1256.3" y="1077.2" text-anchor="middle" class="bt" font-size="27" fill="#ffff00">Arguin</text>
<text x="1341.0" y="1320.0" text-anchor="middle" class="bt" font-size="50" fill="#000">(F)</text>
<text x="249" y="56" text-anchor="middle" class="bt" font-size="56" fill="#ff0000">CHL</text>
<text x="615" y="52" textLength="218" lengthAdjust="spacingAndGlyphs" style="font-family:'DejaVu Serif',serif;font-weight:bold" font-size="53" fill="#ff0000"><tspan font-style="italic">K</tspan><tspan font-style="italic" font-size="40" dy="11">d</tspan><tspan dy="-11">(490)</tspan></text>
<text x="1090" y="47.5" textLength="236" lengthAdjust="spacingAndGlyphs" style="font-family:'DejaVu Serif',serif;font-weight:bold" font-size="53" fill="#ff0000"><tspan font-style="italic">a</tspan><tspan font-style="italic" font-size="40" dy="11">dg</tspan><tspan dy="-11">(443)</tspan></text>
<defs><linearGradient id="cbg" x1="0" x2="1" y1="0" y2="0"><stop offset="0" stop-color="#0000ff"/><stop offset="0.5" stop-color="#ffffff"/><stop offset="1" stop-color="#ff0000"/></linearGradient></defs>
<rect x="76.1" y="1396.8" width="1314.7" height="23.5" fill="url(#cbg)" stroke="#26264a" stroke-width="1.2"/>
<text x="76.1" y="1458" text-anchor="middle" style="font-family:'Liberation Serif',serif;font-size:36px">-6%</text>
<line x1="404.8" y1="1412.3" x2="404.8" y2="1420.3" stroke="#222" stroke-width="1.2"/>
<text x="404.8" y="1458" text-anchor="middle" style="font-family:'Liberation Serif',serif;font-size:36px">-3%</text>
<line x1="733.5" y1="1412.3" x2="733.5" y2="1420.3" stroke="#222" stroke-width="1.2"/>
<text x="733.5" y="1458" text-anchor="middle" style="font-family:'Liberation Serif',serif;font-size:36px">0</text>
<line x1="1062.1" y1="1412.3" x2="1062.1" y2="1420.3" stroke="#222" stroke-width="1.2"/>
<text x="1062.1" y="1458" text-anchor="middle" style="font-family:'Liberation Serif',serif;font-size:36px">3%</text>
<text x="1390.8" y="1458" text-anchor="middle" style="font-family:'Liberation Serif',serif;font-size:36px">6%</text>
<text x="1423" y="1420" style="font-family:'Liberation Serif',serif;font-size:36px">yr<tspan font-size="22" dy="-14">-1</tspan></text>
<polyline points="1562.4,391.8 1566.2,375.7 1569.6,363.5 1573.4,389.4 1576.0,375.7 1578.7,361.1 1582.1,393.0 1586.2,402.8 1590.0,400.4 1593.0,409.1 1596.8,412.7 1600.6,406.7 1604.4,399.3 1607.8,398.1 1612.7,390.6 1617.6,379.6 1624.0,335.2 1627.8,368.3 1631.6,406.7 1635.0,404.0 1638.8,394.2 1642.5,411.5 1645.9,411.5 1649.7,409.1 1653.5,398.1 1658.0,385.6 1661.4,347.4 1664.4,375.7 1668.2,401.6 1672.0,402.8 1675.4,406.7 1680.7,427.5 1684.5,415.0 1688.2,406.7 1692.0,410.3 1695.4,402.8 1698.8,409.1 1702.6,388.2 1706.4,386.7 1710.2,386.7 1714.7,351.3 1718.5,373.3 1722.3,407.9 1726.0,379.6 1729.8,405.2 1733.6,411.5 1738.5,402.8 1744.5,390.6 1749.5,378.4 1754.4,324.2 1759.3,299.5 1763.1,336.4 1766.8,365.9 1771.4,418.9 1775.1,401.6 1778.9,395.4 1785.0,394.2 1789.9,383.2 1794.0,405.2 1798.2,373.3 1802.0,363.5 1805.4,330.2 1809.1,356.1 1812.5,400.4 1816.3,426.4 1820.1,402.8 1823.5,391.8 1827.3,404.0 1831.1,394.2 1834.8,386.7 1838.6,389.4 1842.0,379.6 1846.2,332.8 1849.9,372.2 1853.3,332.8 1857.5,413.8 1861.3,416.5 1864.7,417.7 1868.5,418.9 1873.0,407.9 1876.8,418.9 1880.2,410.3 1884.3,411.5 1888.1,413.8 1892.6,400.4 1896.0,407.9 1899.8,409.1 1903.6,420.1 1907.0,427.5 1910.8,422.5 1914.5,413.8 1918.3,417.7 1922.1,410.3 1925.9,395.4 1929.7,402.8 1933.1,411.5 1936.8,396.6 1941.0,390.6 1944.8,396.6 1948.5,417.7 1952.3,429.9 1955.7,426.4 1959.5,422.5 1963.3,418.9 1967.1,400.4 1970.5,385.6 1974.2,383.2 1978.0,371.0 1982.2,396.6 1985.9,382.0 1989.7,380.8 1993.5,383.2 1997.7,417.7 2001.4,423.7 2005.2,411.5 2009.7,405.2 2014.7,393.0 2018.4,384.4 2023.4,385.6 2028.3,385.6 2031.7,256.3 2034.7,375.7 2038.5,393.0 2043.0,399.3 2046.8,423.7 2050.2,406.7 2054.0,400.4 2058.1,364.7 2061.9,379.6 2065.7,332.8 2069.4,171.4 2073.2,351.3 2077.0,388.2 2080.4,395.4 2084.2,407.9 2088.3,425.2 2092.1,406.7 2095.9,402.8 2099.7,368.3 2103.1,330.2 2106.8,304.5 2110.2,326.6 2114.8,178.9 2118.2,380.8 2121.6,389.4 2125.7,399.3 2129.9,335.2 2133.3,358.5 2137.1,389.4 2140.8,420.1 2144.6,384.4 2148.4,356.1 2151.8,356.1 2155.6,212.2 2159.4,220.9 2163.5,404.0 2166.5,226.8 2171.4,235.4 2174.5,401.6 2178.2,415.0 2182.0,420.1 2186.6,420.1 2190.3,390.6 2194.1,371.0 2197.9,356.1 2200.9,317.9 2204.7,347.4 2209.2,170.2 2212.6,417.7 2216.4,235.4 2220.2,417.7 2224.0,423.7 2227.4,402.8 2231.1,409.1 2233.8,398.1 2238.7,361.1 2243.6,363.5 2249.6,375.7 2253.4,371.0 2257.2,248.0 2261.0,244.1 2264.4,361.1 2268.2,410.3 2272.7,416.5 2276.5,405.2 2279.9,410.3 2283.6,394.2 2287.0,405.2 2290.8,373.3 2294.6,365.9 2298.4,323.0 2302.2,382.0 2306.3,346.2 2310.1,304.5 2313.9,388.2 2318.0,422.5 2321.4,417.7 2325.2,400.4 2329.4,363.5 2332.8,375.7 2336.5,393.0 2340.3,365.9 2344.5,362.3 2348.3,376.9 2352.0,412.7 2355.4,418.9 2359.2,336.4 2363.0,417.7 2366.8,406.7 2370.2,407.9 2373.9,398.1 2377.7,407.9 2381.5,395.4 2384.9,376.9 2388.7,353.7 2392.5,356.1 2396.2,380.8 2399.6,388.2 2403.4,407.9 2407.2,417.7 2411.0,402.8 2414.7,402.8 2418.1,343.9 2423.1,290.8 2426.8,329.0 2430.6,237.8 2434.4,363.5 2437.8,412.7 2441.6,358.5 2445.3,357.3 2449.1,390.6 2454.0,402.8 2457.4,406.7 2461.2,380.8 2463.9,385.6" fill="none" stroke="#0072bd" stroke-width="3.3" stroke-linejoin="round"/>
<polyline points="1563.6,384.4 1571.1,327.8 1574.9,356.1 1578.7,342.7 1586.2,406.7 1590.0,385.6 1593.8,305.7 1597.6,404.0 1601.4,354.9 1605.1,373.3 1610.4,383.2 1616.5,375.7 1621.4,348.6 1627.8,327.8 1631.6,351.3 1635.4,390.6 1639.1,362.3 1642.9,380.8 1646.7,371.0 1650.5,395.4 1654.2,354.9 1658.0,375.7 1660.7,383.2 1665.6,359.9 1669.4,391.8 1673.1,358.5 1676.9,385.6 1680.7,410.3 1684.5,375.7 1688.2,371.0 1692.0,388.2 1695.8,391.8 1699.6,398.1 1703.4,385.6 1707.1,356.1 1710.9,329.0 1714.7,363.5 1718.1,259.0 1722.3,435.0 1726.0,398.1 1729.8,405.2 1733.6,390.6 1737.4,373.3 1741.1,372.2 1744.9,365.9 1748.7,374.5 1752.5,362.3 1756.3,336.4 1760.0,326.6 1763.8,324.2 1767.6,148.5 1771.4,388.2 1775.1,357.3 1778.9,353.7 1786.1,371.0 1789.9,376.9 1793.3,371.0 1797.1,343.9 1800.8,368.3 1804.6,371.0 1808.8,346.2 1811.8,368.3 1816.3,422.5 1820.5,390.6 1824.3,384.4 1828.0,359.9 1831.8,372.2 1835.2,375.7 1839.0,379.6 1842.8,374.5 1846.2,361.1 1849.9,343.9 1853.7,240.5 1857.5,379.6 1861.7,314.4 1864.7,396.6 1868.5,393.0 1873.0,361.1 1876.8,399.3 1880.2,389.4 1884.3,393.0 1888.1,391.8 1891.9,386.7 1895.7,380.8 1899.1,380.8 1902.8,407.9 1906.6,411.5 1910.4,411.5 1914.2,384.4 1917.6,389.4 1921.3,396.6 1925.5,384.4 1929.3,375.7 1933.1,385.6 1936.8,356.1 1940.2,372.2 1944.4,379.6 1948.5,402.8 1952.3,390.6 1955.7,383.2 1959.5,382.0 1963.3,383.2 1967.1,399.3 1970.5,334.0 1974.2,371.0 1978.0,356.1 1981.8,388.2 1985.2,365.9 1989.7,299.5 1993.5,398.1 1997.7,389.4 2001.4,384.4 2004.8,369.8 2009.7,375.7 2015.8,384.4 2020.7,368.3 2024.5,383.2 2028.3,356.1 2031.3,356.1 2035.1,260.2 2038.8,351.3 2042.6,406.7 2046.0,388.2 2049.8,383.2 2053.6,384.4 2057.7,373.3 2061.5,398.1 2064.9,379.6 2068.7,358.5 2072.5,368.3 2077.0,356.1 2080.4,273.6 2084.2,358.5 2088.0,395.4 2091.7,378.1 2095.5,371.0 2098.9,380.8 2102.7,388.2 2106.5,371.0 2110.2,383.2 2113.6,361.1 2118.2,196.1 2121.6,326.6 2125.4,334.0 2129.1,383.2 2132.9,363.5 2137.1,374.5 2140.5,398.1 2144.2,371.0 2148.0,380.8 2151.8,383.2 2155.6,384.4 2159.4,376.9 2163.5,384.4 2167.3,361.1 2172.2,348.6 2176.0,356.1 2179.4,371.0 2183.2,361.1 2186.9,385.6 2190.7,371.0 2194.1,365.9 2197.9,373.3 2201.7,361.1 2205.4,324.2 2209.2,357.3 2212.6,354.9 2216.4,283.4 2220.2,299.5 2224.0,410.3 2227.4,385.6 2231.1,363.5 2234.9,376.3 2238.7,388.2 2242.5,373.3 2245.5,395.4 2249.6,384.4 2253.4,389.4 2257.2,368.3 2261.0,306.9 2264.4,314.4 2268.2,365.9 2272.7,378.1 2276.5,369.8 2279.9,371.0 2283.6,361.1 2287.0,371.0 2290.8,338.8 2294.6,383.2 2298.4,375.7 2302.5,375.7 2306.3,317.9 2310.1,365.9 2313.9,364.7 2317.3,371.0 2321.1,378.1 2325.2,379.6 2329.4,362.3 2332.8,376.9 2336.5,361.1 2340.3,372.2 2344.1,388.2 2347.5,346.2 2351.3,412.7 2355.1,404.0 2359.2,416.5 2363.0,395.4 2366.8,375.7 2370.2,380.8 2373.9,389.4 2377.7,389.4 2381.5,378.1 2384.9,363.5 2388.7,353.7 2392.5,371.0 2397.4,143.1 2401.1,242.9 2404.2,380.8 2407.9,388.2 2412.1,375.7 2415.9,368.3 2419.7,373.3 2423.1,382.0 2426.8,363.5 2430.6,372.2 2434.4,346.2 2437.8,327.8 2441.6,357.3 2445.3,273.6 2449.1,347.4 2452.9,399.3 2456.3,401.6 2461.2,371.0 2463.9,389.4" fill="none" stroke="#d95319" stroke-width="3.3" stroke-linejoin="round"/>
<line x1="1561.7" y1="382.3" x2="2464.6" y2="341.2" stroke="#0072bd" stroke-width="3.2" stroke-dasharray="14 16.8" stroke-dashoffset="0"/>
<line x1="1561.7" y1="367.1" x2="2464.6" y2="353.4" stroke="#d95319" stroke-width="3.2" stroke-dasharray="14 16.8" stroke-dashoffset="0"/>
<rect x="1559.8" y="90.4" width="906.7" height="357.4" fill="none" stroke="#1a1a1a" stroke-width="1.6"/>
<text x="1549.3" y="458.3" text-anchor="end" style="font-family:'Liberation Serif','Times New Roman',serif;font-weight:bold;font-size:31px">0</text>
<line x1="1559.8" y1="388.2" x2="1569.8" y2="388.2" stroke="#1a1a1a" stroke-width="1.6"/>
<line x1="2466.5" y1="388.2" x2="2456.5" y2="388.2" stroke="#1a1a1a" stroke-width="1.6"/>
<text x="1549.3" y="398.7" text-anchor="end" style="font-family:'Liberation Serif','Times New Roman',serif;font-weight:bold;font-size:31px">2</text>
<line x1="1559.8" y1="328.7" x2="1569.8" y2="328.7" stroke="#1a1a1a" stroke-width="1.6"/>
<line x1="2466.5" y1="328.7" x2="2456.5" y2="328.7" stroke="#1a1a1a" stroke-width="1.6"/>
<text x="1549.3" y="339.2" text-anchor="end" style="font-family:'Liberation Serif','Times New Roman',serif;font-weight:bold;font-size:31px">4</text>
<line x1="1559.8" y1="269.1" x2="1569.8" y2="269.1" stroke="#1a1a1a" stroke-width="1.6"/>
<line x1="2466.5" y1="269.1" x2="2456.5" y2="269.1" stroke="#1a1a1a" stroke-width="1.6"/>
<text x="1549.3" y="279.6" text-anchor="end" style="font-family:'Liberation Serif','Times New Roman',serif;font-weight:bold;font-size:31px">6</text>
<line x1="1559.8" y1="209.5" x2="1569.8" y2="209.5" stroke="#1a1a1a" stroke-width="1.6"/>
<line x1="2466.5" y1="209.5" x2="2456.5" y2="209.5" stroke="#1a1a1a" stroke-width="1.6"/>
<text x="1549.3" y="220.0" text-anchor="end" style="font-family:'Liberation Serif','Times New Roman',serif;font-weight:bold;font-size:31px">8</text>
<line x1="1559.8" y1="150.0" x2="1569.8" y2="150.0" stroke="#1a1a1a" stroke-width="1.6"/>
<line x1="2466.5" y1="150.0" x2="2456.5" y2="150.0" stroke="#1a1a1a" stroke-width="1.6"/>
<text x="1549.3" y="160.5" text-anchor="end" style="font-family:'Liberation Serif','Times New Roman',serif;font-weight:bold;font-size:31px">10</text>
<text x="1549.3" y="100.9" text-anchor="end" style="font-family:'Liberation Serif','Times New Roman',serif;font-weight:bold;font-size:31px">12</text>
<text x="1559.8" y="483.8" text-anchor="middle" style="font-family:'Liberation Serif','Times New Roman',serif;font-weight:bold;font-size:31px">2003</text>
<line x1="1741.1" y1="447.8" x2="1741.1" y2="437.8" stroke="#1a1a1a" stroke-width="1.6"/>
<line x1="1741.1" y1="90.4" x2="1741.1" y2="100.4" stroke="#1a1a1a" stroke-width="1.6"/>
<text x="1741.1" y="483.8" text-anchor="middle" style="font-family:'Liberation Serif','Times New Roman',serif;font-weight:bold;font-size:31px">2007</text>
<line x1="1922.5" y1="447.8" x2="1922.5" y2="437.8" stroke="#1a1a1a" stroke-width="1.6"/>
<line x1="1922.5" y1="90.4" x2="1922.5" y2="100.4" stroke="#1a1a1a" stroke-width="1.6"/>
<text x="1922.5" y="483.8" text-anchor="middle" style="font-family:'Liberation Serif','Times New Roman',serif;font-weight:bold;font-size:31px">2011</text>
<line x1="2103.8" y1="447.8" x2="2103.8" y2="437.8" stroke="#1a1a1a" stroke-width="1.6"/>
<line x1="2103.8" y1="90.4" x2="2103.8" y2="100.4" stroke="#1a1a1a" stroke-width="1.6"/>
<text x="2103.8" y="483.8" text-anchor="middle" style="font-family:'Liberation Serif','Times New Roman',serif;font-weight:bold;font-size:31px">2015</text>
<line x1="2285.2" y1="447.8" x2="2285.2" y2="437.8" stroke="#1a1a1a" stroke-width="1.6"/>
<line x1="2285.2" y1="90.4" x2="2285.2" y2="100.4" stroke="#1a1a1a" stroke-width="1.6"/>
<text x="2285.2" y="483.8" text-anchor="middle" style="font-family:'Liberation Serif','Times New Roman',serif;font-weight:bold;font-size:31px">2019</text>
<text x="2466.5" y="483.8" text-anchor="middle" style="font-family:'Liberation Serif','Times New Roman',serif;font-weight:bold;font-size:31px">2023</text>
<line x1="1591.0" y1="127.0" x2="1653.2" y2="127.0" stroke="#0072bd" stroke-width="5.5"/>
<text x="1660.8" y="140.0" style="font-family:'Liberation Serif','Times New Roman',serif;font-weight:bold;font-size:31px">OC-XGBRT</text>
<line x1="1860.6" y1="127.0" x2="1923.3" y2="127.0" stroke="#d95319" stroke-width="5.5"/>
<text x="1929.8" y="140.0" style="font-family:'Liberation Serif','Times New Roman',serif;font-weight:bold;font-size:31px">NASA NIR</text>
<text x="1595.0" y="211.7" style="font-family:'Liberation Serif','Times New Roman',serif;font-weight:bold;font-size:31px" fill="#0072bd" xml:space="preserve"><tspan>0.053 mg m</tspan><tspan font-size="20" dy="-10">-3</tspan><tspan dy="10"> </tspan><tspan>yr</tspan><tspan font-size="20" dy="-10">-1</tspan><tspan dy="10"> </tspan><tspan>(p=0.002)</tspan></text>
<text x="2044.2" y="175.0" style="font-family:'Liberation Serif','Times New Roman',serif;font-weight:bold;font-size:31px" fill="#d95319" xml:space="preserve"><tspan>0.012 mg m</tspan><tspan font-size="20" dy="-10">-3</tspan><tspan dy="10"> </tspan><tspan>yr</tspan><tspan font-size="20" dy="-10">-1</tspan><tspan dy="10"> </tspan><tspan>(p=0.37)</tspan></text>
<text x="1426.5" y="57.0" style="font-family:'Liberation Serif','Times New Roman',serif;font-weight:bold;font-size:52px">(G)</text>
<text transform="translate(1501.3,277.0) rotate(-90)" text-anchor="middle" style="font-family:'Liberation Serif','Times New Roman',serif;font-weight:bold;font-size:32px" xml:space="preserve">CHL  (mg m<tspan font-size="22" dy="-13">-3</tspan><tspan dy="13">)</tspan></text>
<polyline points="1561.3,875.2 1566.2,859.4 1569.3,851.9 1572.7,874.0 1576.8,821.3 1579.5,876.6 1584.0,883.9 1587.8,881.3 1592.0,886.3 1595.8,888.9 1599.2,883.9 1602.9,880.1 1606.7,877.8 1610.5,871.7 1615.4,861.8 1621.1,813.7 1625.3,855.7 1629.0,883.9 1633.2,880.1 1637.0,865.6 1640.8,885.1 1644.9,886.3 1648.7,882.8 1652.1,875.2 1655.9,855.7 1659.7,722.7 1663.5,838.5 1667.3,880.1 1670.7,881.3 1674.8,887.7 1678.6,897.3 1682.8,887.7 1686.2,879.0 1690.3,887.7 1694.1,882.8 1697.9,885.1 1701.7,842.0 1705.1,871.7 1708.9,869.1 1712.7,659.8 1716.4,830.9 1720.6,875.2 1724.4,839.6 1728.5,879.0 1732.3,885.1 1736.1,881.3 1739.5,877.8 1743.3,875.2 1747.1,866.7 1750.9,855.7 1754.7,721.3 1758.1,717.8 1761.8,835.8 1765.6,870.2 1769.8,891.2 1774.0,872.8 1777.7,867.9 1783.8,870.2 1788.7,871.7 1792.5,882.8 1795.9,850.7 1799.7,843.4 1803.5,768.2 1807.2,833.5 1810.6,876.6 1815.2,896.2 1819.0,891.2 1822.8,855.7 1826.2,881.3 1829.9,875.2 1833.7,870.2 1837.5,874.0 1841.7,854.5 1845.5,738.5 1848.9,854.5 1853.0,822.4 1856.8,890.0 1860.6,891.2 1864.4,891.2 1867.8,891.2 1871.6,885.1 1875.7,891.2 1879.1,886.3 1882.9,887.7 1886.7,888.9 1890.9,870.2 1894.6,882.8 1898.0,885.1 1902.2,891.2 1906.0,896.2 1909.8,892.7 1913.6,883.9 1917.3,886.3 1920.7,882.8 1924.5,869.1 1928.3,880.1 1932.1,885.1 1935.5,872.8 1939.7,867.9 1943.4,862.9 1946.8,890.0 1951.0,898.8 1954.8,896.2 1958.6,893.8 1962.4,891.2 1966.5,871.7 1970.3,866.7 1973.7,865.6 1977.5,855.7 1981.7,875.2 1985.1,861.8 1988.8,865.6 1992.6,866.7 1996.8,892.7 2000.6,893.8 2004.0,885.1 2010.0,880.1 2014.9,867.9 2019.5,855.7 2022.9,811.3 2027.4,867.9 2030.8,700.3 2034.6,867.9 2038.4,881.3 2041.8,848.4 2045.6,895.0 2049.4,880.1 2053.5,747.2 2057.3,825.9 2061.1,838.5 2064.9,730.0 2068.7,679.6 2072.5,843.4 2076.6,872.8 2080.0,880.1 2083.8,885.1 2087.6,895.0 2091.4,880.1 2094.8,872.8 2098.6,736.1 2102.7,819.8 2106.5,711.4 2110.3,798.8 2114.1,670.8 2117.9,859.4 2121.6,871.7 2125.8,880.1 2129.6,760.6 2133.0,830.9 2136.8,806.4 2140.6,890.0 2144.3,830.9 2147.7,833.5 2151.9,757.1 2155.7,742.3 2159.5,710.2 2163.3,882.8 2167.0,752.2 2171.2,672.0 2175.0,882.8 2178.8,890.0 2182.6,893.8 2186.7,893.8 2190.1,843.4 2193.9,811.3 2197.7,825.9 2201.5,784.2 2204.9,818.6 2208.7,707.9 2212.4,892.7 2216.2,711.4 2219.6,890.0 2223.8,895.0 2228.0,821.3 2231.0,887.4 2235.1,835.8 2238.5,827.1 2242.3,838.2 2246.1,755.7 2249.9,829.4 2253.3,821.0 2257.8,644.9 2261.6,707.6 2265.4,880.1 2268.8,889.8 2273.4,889.8 2276.8,875.2 2280.5,886.3 2284.3,876.3 2288.1,882.5 2291.5,867.6 2295.7,842.0 2299.8,701.4 2303.6,843.1 2307.0,818.3 2310.8,743.4 2314.6,858.0 2318.4,893.5 2321.8,889.8 2325.9,870.2 2329.7,839.3 2333.5,845.4 2337.3,875.2 2340.7,835.8 2344.5,788.9 2348.3,821.0 2352.0,884.8 2356.2,891.2 2360.0,796.2 2363.4,889.8 2367.2,880.1 2371.0,883.6 2374.4,872.6 2378.1,880.1 2382.3,876.3 2385.7,858.0 2389.5,830.9 2393.3,701.4 2397.1,870.2 2400.8,875.2 2405.0,884.8 2408.4,891.2 2412.2,873.7 2416.0,881.3 2419.8,742.3 2424.7,711.4 2428.1,808.7 2431.9,699.1 2435.7,865.3 2439.4,888.6 2442.8,739.6 2446.6,821.0 2450.4,871.4 2454.6,875.2 2459.1,877.5 2462.9,830.9 2465.9,864.1" fill="none" stroke="#0072bd" stroke-width="3.3" stroke-linejoin="round"/>
<polyline points="1561.3,856.8 1568.9,803.8 1573.4,830.9 1577.6,826.2 1581.0,840.8 1584.4,880.1 1588.2,853.0 1592.0,759.5 1595.8,874.0 1599.2,823.6 1602.9,850.7 1606.7,858.0 1610.5,853.0 1615.4,843.4 1620.3,821.3 1626.0,803.8 1630.2,817.5 1633.2,859.4 1637.4,828.5 1641.2,848.4 1644.9,837.0 1648.7,865.6 1652.1,826.2 1655.9,848.4 1659.7,858.0 1663.5,832.3 1667.3,869.1 1670.7,829.7 1674.8,848.4 1678.6,880.1 1682.8,848.4 1686.2,837.0 1690.3,862.9 1694.1,859.4 1697.9,869.1 1701.7,854.5 1705.1,833.5 1708.9,802.6 1712.7,833.5 1716.4,714.0 1720.6,898.8 1724.4,871.7 1728.5,876.6 1732.3,858.0 1736.1,840.8 1739.5,839.6 1743.3,838.5 1747.1,845.7 1750.9,850.7 1754.7,833.5 1758.1,808.7 1761.8,797.6 1765.6,588.3 1769.8,860.6 1774.0,826.2 1777.7,822.4 1783.8,845.7 1787.6,843.4 1792.5,849.5 1795.9,811.3 1799.7,842.0 1803.5,845.7 1807.6,819.8 1811.4,855.7 1815.2,891.2 1819.0,867.9 1822.8,853.0 1826.2,829.7 1829.9,840.8 1833.7,845.7 1837.9,853.0 1841.7,848.4 1845.5,835.8 1848.9,821.3 1853.0,694.2 1856.8,862.9 1860.6,763.2 1864.4,865.6 1867.8,859.4 1871.6,828.5 1875.7,865.6 1879.1,860.6 1882.9,864.1 1886.7,865.6 1890.5,861.8 1893.9,855.7 1898.0,856.8 1901.8,875.2 1905.6,880.1 1909.4,879.0 1913.2,848.4 1916.6,855.7 1920.4,865.6 1924.1,855.7 1927.9,849.5 1931.3,858.0 1935.5,830.9 1939.3,843.4 1943.1,853.0 1946.8,871.7 1950.6,860.6 1954.4,851.9 1958.2,846.9 1961.6,851.9 1966.1,859.4 1970.3,806.4 1973.7,840.8 1977.5,838.5 1981.7,859.4 1985.1,835.8 1988.8,784.2 1992.6,871.7 1996.8,859.4 2000.6,855.7 2005.1,835.8 2010.0,848.4 2014.9,856.8 2018.7,846.9 2022.1,861.8 2026.7,833.5 2030.5,833.5 2034.2,738.5 2037.6,827.4 2041.4,875.2 2045.2,858.0 2049.0,853.0 2053.2,851.9 2057.3,838.5 2061.1,869.1 2064.9,849.5 2068.7,834.7 2072.8,843.4 2076.6,835.8 2080.0,735.0 2083.8,828.5 2087.6,865.6 2091.4,849.5 2094.8,840.8 2098.6,849.5 2102.3,859.4 2106.1,843.4 2110.7,859.4 2114.1,833.5 2117.9,654.8 2121.6,806.4 2125.4,819.8 2128.8,853.0 2133.0,822.4 2136.8,839.6 2140.6,864.1 2144.3,838.5 2148.5,850.7 2152.3,855.7 2156.1,854.5 2160.2,849.5 2164.0,859.4 2167.4,833.5 2171.2,823.6 2175.0,817.5 2178.8,839.6 2182.6,822.4 2186.0,853.0 2189.7,827.4 2193.5,835.8 2197.7,846.9 2201.5,835.8 2204.9,806.4 2208.7,838.5 2212.4,833.5 2216.2,754.8 2220.4,770.5 2224.2,879.0 2228.0,865.6 2233.2,839.9 2238.5,859.1 2242.3,840.5 2246.1,867.6 2249.9,862.6 2254.1,865.3 2257.8,845.4 2261.6,776.7 2265.4,793.9 2268.8,843.1 2272.6,846.9 2276.8,837.0 2280.5,845.4 2284.3,838.2 2288.1,845.4 2291.5,809.9 2295.3,859.1 2299.8,850.4 2303.6,853.0 2307.0,791.5 2310.8,840.5 2314.6,830.9 2318.4,827.1 2321.8,848.1 2325.9,850.4 2329.7,833.2 2333.5,854.2 2337.3,837.0 2340.7,845.4 2344.9,861.5 2348.6,822.1 2352.4,884.8 2356.2,877.5 2360.0,880.1 2364.2,862.6 2367.9,845.4 2371.7,850.4 2375.9,862.6 2379.7,861.5 2383.1,854.2 2386.9,838.2 2390.6,828.2 2394.4,848.1 2397.8,588.3 2401.6,646.1 2405.0,858.0 2409.2,855.4 2412.6,840.5 2416.4,838.2 2420.1,845.4 2423.9,855.4 2427.3,838.2 2431.5,856.5 2435.3,825.9 2438.7,802.6 2442.5,830.9 2446.6,729.7 2450.4,846.9 2454.6,871.4 2458.4,855.4 2462.5,842.0 2465.5,859.1" fill="none" stroke="#d95319" stroke-width="3.3" stroke-linejoin="round"/>
<line x1="1560.2" y1="870.5" x2="2464.4" y2="817.2" stroke="#0072bd" stroke-width="3.2" stroke-dasharray="14 16.8" stroke-dashoffset="0"/>
<line x1="1560.2" y1="842.0" x2="2464.4" y2="834.4" stroke="#d95319" stroke-width="3.2" stroke-dasharray="14 16.8" stroke-dashoffset="0"/>
<rect x="1558.3" y="565.9" width="908.0" height="349.8" fill="none" stroke="#1a1a1a" stroke-width="1.6"/>
<text x="1547.8" y="926.2" text-anchor="end" style="font-family:'Liberation Serif','Times New Roman',serif;font-weight:bold;font-size:31px">0</text>
<line x1="1558.3" y1="857.4" x2="1568.3" y2="857.4" stroke="#1a1a1a" stroke-width="1.6"/>
<line x1="2466.3" y1="857.4" x2="2456.3" y2="857.4" stroke="#1a1a1a" stroke-width="1.6"/>
<text x="1547.8" y="867.9" text-anchor="end" style="font-family:'Liberation Serif','Times New Roman',serif;font-weight:bold;font-size:31px">0.2</text>
<line x1="1558.3" y1="799.1" x2="1568.3" y2="799.1" stroke="#1a1a1a" stroke-width="1.6"/>
<line x1="2466.3" y1="799.1" x2="2456.3" y2="799.1" stroke="#1a1a1a" stroke-width="1.6"/>
<text x="1547.8" y="809.6" text-anchor="end" style="font-family:'Liberation Serif','Times New Roman',serif;font-weight:bold;font-size:31px">0.4</text>
<line x1="1558.3" y1="740.8" x2="1568.3" y2="740.8" stroke="#1a1a1a" stroke-width="1.6"/>
<line x1="2466.3" y1="740.8" x2="2456.3" y2="740.8" stroke="#1a1a1a" stroke-width="1.6"/>
<text x="1547.8" y="751.3" text-anchor="end" style="font-family:'Liberation Serif','Times New Roman',serif;font-weight:bold;font-size:31px">0.6</text>
<line x1="1558.3" y1="682.5" x2="1568.3" y2="682.5" stroke="#1a1a1a" stroke-width="1.6"/>
<line x1="2466.3" y1="682.5" x2="2456.3" y2="682.5" stroke="#1a1a1a" stroke-width="1.6"/>
<text x="1547.8" y="693.0" text-anchor="end" style="font-family:'Liberation Serif','Times New Roman',serif;font-weight:bold;font-size:31px">0.8</text>
<line x1="1558.3" y1="624.2" x2="1568.3" y2="624.2" stroke="#1a1a1a" stroke-width="1.6"/>
<line x1="2466.3" y1="624.2" x2="2456.3" y2="624.2" stroke="#1a1a1a" stroke-width="1.6"/>
<text x="1547.8" y="634.7" text-anchor="end" style="font-family:'Liberation Serif','Times New Roman',serif;font-weight:bold;font-size:31px">1</text>
<text x="1547.8" y="576.4" text-anchor="end" style="font-family:'Liberation Serif','Times New Roman',serif;font-weight:bold;font-size:31px">1.2</text>
<text x="1558.3" y="951.7" text-anchor="middle" style="font-family:'Liberation Serif','Times New Roman',serif;font-weight:bold;font-size:31px">2003</text>
<line x1="1739.9" y1="915.7" x2="1739.9" y2="905.7" stroke="#1a1a1a" stroke-width="1.6"/>
<line x1="1739.9" y1="565.9" x2="1739.9" y2="575.9" stroke="#1a1a1a" stroke-width="1.6"/>
<text x="1739.9" y="951.7" text-anchor="middle" style="font-family:'Liberation Serif','Times New Roman',serif;font-weight:bold;font-size:31px">2007</text>
<line x1="1921.5" y1="915.7" x2="1921.5" y2="905.7" stroke="#1a1a1a" stroke-width="1.6"/>
<line x1="1921.5" y1="565.9" x2="1921.5" y2="575.9" stroke="#1a1a1a" stroke-width="1.6"/>
<text x="1921.5" y="951.7" text-anchor="middle" style="font-family:'Liberation Serif','Times New Roman',serif;font-weight:bold;font-size:31px">2011</text>
<line x1="2103.1" y1="915.7" x2="2103.1" y2="905.7" stroke="#1a1a1a" stroke-width="1.6"/>
<line x1="2103.1" y1="565.9" x2="2103.1" y2="575.9" stroke="#1a1a1a" stroke-width="1.6"/>
<text x="2103.1" y="951.7" text-anchor="middle" style="font-family:'Liberation Serif','Times New Roman',serif;font-weight:bold;font-size:31px">2015</text>
<line x1="2284.7" y1="915.7" x2="2284.7" y2="905.7" stroke="#1a1a1a" stroke-width="1.6"/>
<line x1="2284.7" y1="565.9" x2="2284.7" y2="575.9" stroke="#1a1a1a" stroke-width="1.6"/>
<text x="2284.7" y="951.7" text-anchor="middle" style="font-family:'Liberation Serif','Times New Roman',serif;font-weight:bold;font-size:31px">2019</text>
<text x="2466.3" y="951.7" text-anchor="middle" style="font-family:'Liberation Serif','Times New Roman',serif;font-weight:bold;font-size:31px">2023</text>
<line x1="1595.0" y1="606.7" x2="1655.4" y2="606.7" stroke="#0072bd" stroke-width="5.5"/>
<text x="1664.0" y="619.7" style="font-family:'Liberation Serif','Times New Roman',serif;font-weight:bold;font-size:31px">OC-XGBRT</text>
<line x1="1869.3" y1="606.7" x2="1932.0" y2="606.7" stroke="#d95319" stroke-width="5.5"/>
<text x="1938.4" y="619.7" style="font-family:'Liberation Serif','Times New Roman',serif;font-weight:bold;font-size:31px">NASA NIR</text>
<text x="1786.3" y="675.0" style="font-family:'Liberation Serif','Times New Roman',serif;font-weight:bold;font-size:31px" fill="#0072bd" xml:space="preserve"><tspan>0.009 m</tspan><tspan font-size="20" dy="-10">-1</tspan><tspan dy="10"> </tspan><tspan>yr</tspan><tspan font-size="20" dy="-10">-1</tspan><tspan dy="10"> </tspan><tspan>(p=0.009)</tspan></text>
<text x="2101.7" y="642.6" style="font-family:'Liberation Serif','Times New Roman',serif;font-weight:bold;font-size:31px" fill="#d95319" xml:space="preserve"><tspan>0.001 m</tspan><tspan font-size="20" dy="-10">-1</tspan><tspan dy="10"> </tspan><tspan>yr</tspan><tspan font-size="20" dy="-10">-1</tspan><tspan dy="10"> </tspan><tspan>(p=0.39)</tspan></text>
<text x="1439.4" y="556.0" style="font-family:'Liberation Serif','Times New Roman',serif;font-weight:bold;font-size:52px">(H)</text>
<text transform="translate(1491.5,741.5) rotate(-90)" text-anchor="middle" style="font-family:'Liberation Serif','Times New Roman',serif;font-weight:bold;font-size:32px" xml:space="preserve">K<tspan font-size="22" dy="8">d</tspan><tspan dy="-8">(490) (m</tspan><tspan font-size="22" dy="-13">-1</tspan><tspan dy="13">)</tspan></text>
<polyline points="1565.7,1214.5 1569.5,1208.2 1573.2,1201.7 1577.0,1234.8 1580.8,1217.0 1584.5,1206.9 1588.3,1234.8 1592.1,1234.8 1595.8,1252.4 1599.6,1259.9 1603.4,1244.8 1607.5,1219.5 1611.3,1222.0 1615.0,1215.7 1618.8,1228.3 1622.6,1229.5 1626.3,1176.4 1630.1,1192.9 1633.9,1252.4 1637.6,1256.1 1641.4,1259.9 1645.2,1282.7 1648.9,1263.7 1653.1,1261.2 1656.4,1195.4 1660.6,1229.5 1664.4,1219.5 1668.1,1232.1 1671.9,1239.8 1675.7,1257.4 1679.4,1247.3 1682.8,1308.0 1686.6,1296.7 1690.3,1271.4 1694.1,1271.4 1697.9,1218.2 1701.6,1251.1 1705.4,1237.3 1709.2,1208.2 1713.3,1224.5 1717.1,1204.2 1720.5,1185.4 1724.6,1263.7 1728.4,1220.7 1732.1,1267.4 1735.9,1282.7 1739.7,1247.3 1743.4,1217.0 1747.2,1189.1 1751.0,1194.2 1754.7,1214.5 1758.5,1194.2 1762.6,1174.1 1765.6,1151.2 1769.4,1189.1 1773.2,1303.0 1776.9,1278.9 1780.7,1270.1 1788.2,1214.5 1792.7,1176.4 1796.9,1225.8 1801.8,1199.2 1807.0,1197.9 1811.2,1224.5 1815.3,1244.8 1821.0,1301.7 1824.7,1277.7 1828.9,1246.1 1832.7,1219.5 1836.8,1190.4 1840.6,1237.3 1844.3,1217.0 1848.1,1191.7 1852.2,1215.7 1856.0,1114.4 1859.8,1232.1 1863.5,1284.0 1867.3,1291.7 1871.1,1286.5 1874.8,1258.6 1878.6,1276.4 1882.3,1239.8 1886.1,1258.6 1889.9,1278.9 1894.4,1268.9 1898.9,1258.6 1902.7,1258.6 1906.8,1277.7 1912.5,1320.8 1916.2,1291.7 1920.0,1284.0 1923.8,1276.4 1927.5,1214.5 1931.7,1229.5 1934.7,1248.6 1938.4,1239.8 1942.2,1242.3 1946.4,1254.9 1950.1,1290.4 1954.3,1308.0 1958.0,1294.2 1962.2,1291.7 1965.9,1280.2 1969.7,1220.7 1973.5,1204.2 1977.2,1224.5 1981.7,1217.0 1985.5,1234.8 1989.3,1191.7 1993.0,1229.5 1996.8,1254.9 2000.6,1298.0 2004.3,1309.3 2008.1,1290.3 2011.9,1270.1 2014.5,1234.8 2018.3,1182.9 2022.0,1214.5 2025.8,1252.4 2029.6,1237.3 2032.6,1168.8 2036.3,1189.1 2040.1,1242.3 2043.9,1273.9 2047.6,1289.0 2051.4,1272.7 2055.5,1270.1 2059.3,1186.6 2063.1,1227.0 2066.8,1161.3 2070.6,1089.1 2074.4,1211.9 2078.5,1232.1 2082.3,1253.6 2086.0,1237.3 2089.8,1254.9 2093.6,1256.1 2097.3,1272.7 2101.1,1259.9 2104.9,1142.3 2108.6,1156.3 2112.4,1186.6 2116.2,1034.9 2119.9,1201.7 2123.7,1214.5 2127.5,1232.1 2131.2,1182.9 2135.0,1199.2 2138.7,1222.0 2142.5,1228.3 2146.3,1227.0 2149.7,1155.0 2153.4,1167.6 2157.2,1105.6 2161.0,1138.5 2164.7,1229.5 2168.5,1189.1 2172.3,1106.9 2176.0,1201.7 2180.2,1268.9 2183.9,1262.4 2187.7,1271.4 2191.5,1233.3 2195.2,1166.3 2199.0,1189.1 2202.8,1138.5 2206.5,1146.0 2210.3,1115.7 2214.0,1259.9 2217.4,1075.3 2221.2,1234.8 2225.0,1276.4 2228.7,1286.5 2232.5,1257.4 2236.6,1250.0 2240.0,1169.0 2243.8,1179.1 2247.6,1245.0 2251.3,1248.8 2255.1,1245.0 2259.2,1189.3 2263.0,1069.0 2266.8,1189.3 2270.5,1277.9 2274.3,1284.1 2278.1,1267.8 2281.8,1252.5 2285.6,1174.1 2289.3,1194.3 2293.1,1172.8 2296.9,1201.9 2300.3,1176.6 2304.4,1248.8 2308.2,1161.5 2311.9,1107.1 2315.7,1222.2 2319.5,1270.3 2323.2,1261.3 2327.0,1231.0 2330.4,1161.5 2334.1,1155.0 2337.9,1189.3 2341.7,1206.9 2345.4,1232.2 2349.6,1247.5 2353.4,1255.1 2357.1,1272.8 2360.9,1199.4 2364.6,1272.8 2368.4,1265.1 2372.2,1248.8 2375.9,1196.9 2379.7,1214.6 2383.5,1233.7 2387.2,1189.3 2391.0,1212.1 2394.8,1209.4 2398.5,1189.3 2402.7,1204.4 2406.4,1255.1 2410.2,1272.8 2414.0,1275.3 2417.7,1258.8 2421.5,1166.5 2424.5,1129.7 2428.3,1166.5 2432.0,1125.9 2435.8,1196.9 2439.9,1262.6 2443.7,1201.9 2447.5,1157.5 2451.2,1255.1 2455.0,1277.9 2458.8,1291.7 2462.5,1219.7 2466.3,1229.7" fill="none" stroke="#0072bd" stroke-width="3.3" stroke-linejoin="round"/>
<polyline points="1565.7,1234.8 1569.5,1236.0 1573.2,1201.7 1577.0,1254.9 1580.8,1227.0 1584.5,1230.8 1588.3,1259.9 1592.1,1189.1 1595.8,1170.1 1599.6,1276.4 1603.4,1234.8 1607.5,1219.5 1611.3,1232.1 1615.0,1249.8 1618.8,1249.8 1622.6,1224.5 1626.3,1196.7 1630.1,1232.1 1633.9,1270.1 1637.6,1259.9 1641.4,1233.3 1645.2,1264.9 1648.9,1251.1 1653.1,1257.4 1656.4,1223.3 1660.6,1241.0 1664.4,1263.7 1668.1,1217.0 1671.9,1234.8 1675.7,1239.8 1679.4,1257.4 1682.8,1291.7 1686.6,1248.6 1690.0,1214.5 1693.7,1270.1 1697.5,1254.9 1701.3,1238.5 1705.4,1248.6 1709.2,1253.6 1712.9,1236.0 1716.7,1244.8 1720.7,1178.9 1724.2,1333.4 1728.0,1280.2 1732.5,1282.7 1736.3,1254.9 1740.0,1224.5 1743.8,1201.7 1747.2,1239.8 1751.0,1222.0 1754.7,1219.5 1758.5,1243.6 1761.9,1176.4 1765.6,1184.1 1769.4,1185.4 1773.5,1254.9 1777.3,1178.9 1781.1,1219.5 1786.7,1219.5 1792.0,1200.5 1795.8,1257.4 1799.5,1217.0 1803.3,1248.6 1807.0,1266.2 1810.8,1190.4 1814.6,1241.0 1818.3,1325.8 1821.7,1194.2 1825.5,1246.1 1829.3,1219.5 1833.0,1238.5 1836.8,1239.8 1840.6,1256.1 1844.3,1251.1 1848.1,1227.0 1852.2,1201.7 1856.0,1146.0 1859.8,1148.5 1863.5,1238.5 1867.7,1257.4 1871.4,1248.6 1875.2,1217.0 1879.0,1262.4 1882.7,1244.8 1886.9,1266.2 1890.6,1247.3 1894.4,1251.1 1900.8,1218.2 1904.6,1259.9 1908.3,1252.4 1912.5,1278.9 1916.2,1262.4 1920.0,1246.1 1923.8,1273.9 1927.5,1239.8 1931.7,1220.7 1935.1,1228.3 1939.2,1211.9 1943.0,1232.1 1946.7,1234.8 1950.5,1282.7 1954.3,1300.5 1957.6,1214.5 1961.4,1268.9 1965.2,1257.4 1968.9,1259.9 1972.7,1177.6 1976.5,1233.3 1980.2,1161.3 1984.0,1270.1 1988.1,1222.0 1991.9,1123.2 1995.7,1234.8 1999.4,1309.3 2003.2,1277.7 2008.1,1244.8 2011.9,1227.0 2016.8,1224.5 2020.5,1220.7 2025.8,1239.8 2029.6,1215.7 2033.3,1224.5 2037.1,1111.9 2040.9,1211.9 2044.6,1281.5 2048.4,1276.4 2052.2,1238.5 2055.9,1249.8 2059.7,1237.3 2063.8,1248.6 2067.6,1215.7 2071.4,1219.5 2075.1,1248.6 2078.9,1254.9 2081.9,1172.6 2086.0,1257.4 2089.8,1272.7 2093.9,1239.8 2097.7,1254.9 2101.5,1254.9 2105.2,1264.9 2109.4,1219.5 2113.1,1218.2 2116.2,1227.0 2119.9,1063.8 2123.7,1200.5 2127.1,1094.1 2131.2,1261.2 2135.0,1224.5 2138.7,1224.5 2142.5,1277.7 2146.3,1224.5 2150.0,1218.2 2154.2,1209.4 2157.9,1217.0 2161.7,1210.7 2165.5,1258.6 2169.2,1210.7 2173.0,1234.8 2176.8,1261.2 2180.2,1229.5 2183.9,1096.8 2187.7,1259.9 2191.5,1254.9 2195.2,1217.0 2199.0,1214.5 2202.8,1206.7 2206.5,1156.3 2210.3,1176.4 2214.0,1209.4 2217.4,1160.0 2221.2,1234.8 2225.0,1268.9 2228.7,1229.5 2232.5,1213.2 2236.6,1234.8 2240.4,1227.2 2244.2,1222.2 2247.6,1268.9 2251.3,1242.5 2255.1,1243.7 2258.8,1256.3 2262.6,1236.0 2266.4,1232.2 2270.5,1238.5 2274.3,1229.7 2278.1,1191.7 2281.8,1206.9 2285.6,1165.1 2289.3,1222.2 2293.1,1211.9 2296.9,1219.7 2300.6,1219.7 2304.4,1224.7 2308.2,1115.9 2311.9,1191.7 2315.7,1250.0 2319.5,1286.7 2323.2,1252.5 2327.0,1214.6 2330.8,1214.6 2334.5,1214.6 2338.3,1219.7 2342.4,1227.2 2345.4,1248.8 2349.6,1192.9 2353.4,1234.8 2357.1,1245.0 2360.9,1289.2 2364.6,1232.2 2368.4,1228.5 2372.2,1255.1 2375.9,1224.7 2379.7,1241.2 2383.5,1224.7 2386.9,1184.1 2390.6,1204.4 2394.4,1219.7 2398.2,1184.1 2401.9,1255.1 2405.7,1119.6 2409.8,1279.1 2413.6,1234.8 2417.4,1196.9 2421.1,1219.7 2424.9,1231.0 2428.7,1214.6 2432.4,1222.2 2436.2,1179.1 2439.9,1130.9 2443.7,1159.0 2447.5,1206.9 2450.9,1255.1 2454.6,1250.0 2458.4,1256.3 2462.2,1213.2 2465.9,1257.6" fill="none" stroke="#d95319" stroke-width="3.3" stroke-linejoin="round"/>
<line x1="1564.6" y1="1243.6" x2="2464.4" y2="1209.4" stroke="#0072bd" stroke-width="3.2" stroke-dasharray="14 16.8" stroke-dashoffset="0"/>
<line x1="1564.6" y1="1240.9" x2="2464.4" y2="1219.7" stroke="#d95319" stroke-width="3.2" stroke-dasharray="14 16.8" stroke-dashoffset="0"/>
<rect x="1562.7" y="1017.8" width="903.6" height="359.2" fill="none" stroke="#1a1a1a" stroke-width="1.6"/>
<text x="1552.2" y="1387.5" text-anchor="end" style="font-family:'Liberation Serif','Times New Roman',serif;font-weight:bold;font-size:31px">0</text>
<line x1="1562.7" y1="1287.2" x2="1572.7" y2="1287.2" stroke="#1a1a1a" stroke-width="1.6"/>
<line x1="2466.3" y1="1287.2" x2="2456.3" y2="1287.2" stroke="#1a1a1a" stroke-width="1.6"/>
<text x="1552.2" y="1297.7" text-anchor="end" style="font-family:'Liberation Serif','Times New Roman',serif;font-weight:bold;font-size:31px">0.05</text>
<line x1="1562.7" y1="1197.4" x2="1572.7" y2="1197.4" stroke="#1a1a1a" stroke-width="1.6"/>
<line x1="2466.3" y1="1197.4" x2="2456.3" y2="1197.4" stroke="#1a1a1a" stroke-width="1.6"/>
<text x="1552.2" y="1207.9" text-anchor="end" style="font-family:'Liberation Serif','Times New Roman',serif;font-weight:bold;font-size:31px">0.1</text>
<line x1="1562.7" y1="1107.6" x2="1572.7" y2="1107.6" stroke="#1a1a1a" stroke-width="1.6"/>
<line x1="2466.3" y1="1107.6" x2="2456.3" y2="1107.6" stroke="#1a1a1a" stroke-width="1.6"/>
<text x="1552.2" y="1118.1" text-anchor="end" style="font-family:'Liberation Serif','Times New Roman',serif;font-weight:bold;font-size:31px">0.15</text>
<text x="1552.2" y="1028.3" text-anchor="end" style="font-family:'Liberation Serif','Times New Roman',serif;font-weight:bold;font-size:31px">0.2</text>
<text x="1562.7" y="1413.0" text-anchor="middle" style="font-family:'Liberation Serif','Times New Roman',serif;font-weight:bold;font-size:31px">2003</text>
<line x1="1743.4" y1="1377.0" x2="1743.4" y2="1367.0" stroke="#1a1a1a" stroke-width="1.6"/>
<line x1="1743.4" y1="1017.8" x2="1743.4" y2="1027.8" stroke="#1a1a1a" stroke-width="1.6"/>
<text x="1743.4" y="1413.0" text-anchor="middle" style="font-family:'Liberation Serif','Times New Roman',serif;font-weight:bold;font-size:31px">2007</text>
<line x1="1924.1" y1="1377.0" x2="1924.1" y2="1367.0" stroke="#1a1a1a" stroke-width="1.6"/>
<line x1="1924.1" y1="1017.8" x2="1924.1" y2="1027.8" stroke="#1a1a1a" stroke-width="1.6"/>
<text x="1924.1" y="1413.0" text-anchor="middle" style="font-family:'Liberation Serif','Times New Roman',serif;font-weight:bold;font-size:31px">2011</text>
<line x1="2104.9" y1="1377.0" x2="2104.9" y2="1367.0" stroke="#1a1a1a" stroke-width="1.6"/>
<line x1="2104.9" y1="1017.8" x2="2104.9" y2="1027.8" stroke="#1a1a1a" stroke-width="1.6"/>
<text x="2104.9" y="1413.0" text-anchor="middle" style="font-family:'Liberation Serif','Times New Roman',serif;font-weight:bold;font-size:31px">2015</text>
<line x1="2285.6" y1="1377.0" x2="2285.6" y2="1367.0" stroke="#1a1a1a" stroke-width="1.6"/>
<line x1="2285.6" y1="1017.8" x2="2285.6" y2="1027.8" stroke="#1a1a1a" stroke-width="1.6"/>
<text x="2285.6" y="1413.0" text-anchor="middle" style="font-family:'Liberation Serif','Times New Roman',serif;font-weight:bold;font-size:31px">2019</text>
<text x="2466.3" y="1413.0" text-anchor="middle" style="font-family:'Liberation Serif','Times New Roman',serif;font-weight:bold;font-size:31px">2023</text>
<line x1="1580.7" y1="1058.5" x2="1640.3" y2="1058.5" stroke="#0072bd" stroke-width="5.5"/>
<text x="1646.8" y="1071.5" style="font-family:'Liberation Serif','Times New Roman',serif;font-weight:bold;font-size:31px">OC-XGBRT</text>
<line x1="1865.0" y1="1058.5" x2="1923.3" y2="1058.5" stroke="#d95319" stroke-width="5.5"/>
<text x="1930.6" y="1071.5" style="font-family:'Liberation Serif','Times New Roman',serif;font-weight:bold;font-size:31px">NASA NIR</text>
<text x="1750.5" y="1352.3" style="font-family:'Liberation Serif','Times New Roman',serif;font-weight:bold;font-size:31px" fill="#0072bd" xml:space="preserve"><tspan>0.002 m</tspan><tspan font-size="20" dy="-10">-1</tspan><tspan dy="10"> </tspan><tspan>yr</tspan><tspan font-size="20" dy="-10">-1</tspan><tspan dy="10"> </tspan><tspan>(p=0.001)</tspan></text>
<text x="2109.9" y="1352.3" style="font-family:'Liberation Serif','Times New Roman',serif;font-weight:bold;font-size:31px" fill="#d95319" xml:space="preserve"><tspan>0.0006 m</tspan><tspan font-size="20" dy="-10">-1</tspan><tspan dy="10"> </tspan><tspan>yr</tspan><tspan font-size="20" dy="-10">-1</tspan><tspan dy="10"> </tspan><tspan>(p=0.006)</tspan></text>
<text x="1454.6" y="1003.0" style="font-family:'Liberation Serif','Times New Roman',serif;font-weight:bold;font-size:52px">(I)</text>
<text transform="translate(1474.0,1194.3) rotate(-90)" text-anchor="middle" style="font-family:'Liberation Serif','Times New Roman',serif;font-weight:bold;font-size:32px" xml:space="preserve">a<tspan font-size="22" dy="8">dg</tspan><tspan dy="-8">(443)  (m</tspan><tspan font-size="22" dy="-13">-1</tspan><tspan dy="13">)</tspan></text>
</svg>
</body></html>
